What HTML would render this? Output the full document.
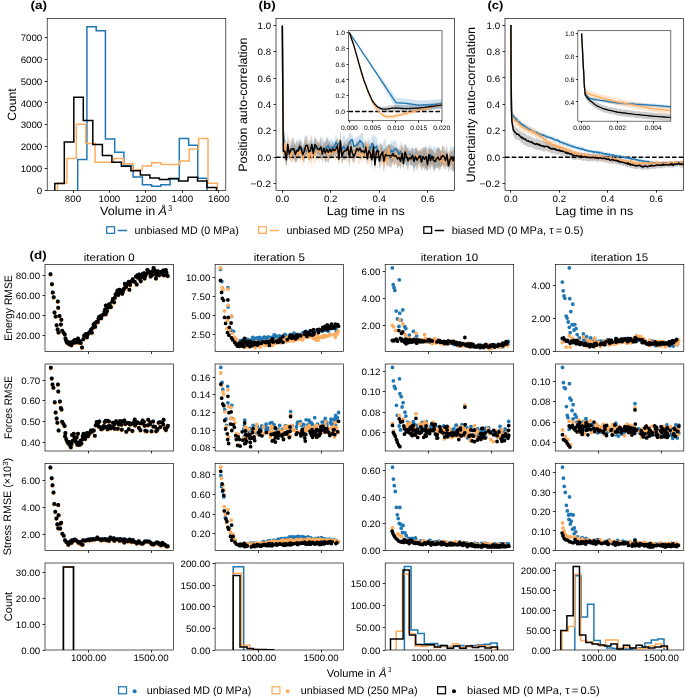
<!DOCTYPE html>
<html><head><meta charset="utf-8"><title>figure</title>
<style>html,body{margin:0;padding:0;background:#fff;overflow:hidden;}svg{display:block;will-change:transform;font-family:"Liberation Sans",sans-serif;}text{font-family:"Liberation Sans",sans-serif;text-rendering:geometricPrecision;}</style></head>
<body>
<svg width="685" height="697" viewBox="0 0 685 697" font-family="Liberation Sans, sans-serif">
<rect width="685" height="697" fill="#fff"/>
<clipPath id="c47_18"><rect x="47.20" y="18.50" width="178.60" height="171.90"/></clipPath>
<g clip-path="url(#c47_18)">
<polyline points="77.7,192.4 77.7,159.6 86.9,159.6 86.9,26.8 96.2,26.8 96.2,30.8 105.4,30.8 105.4,138.9 114.7,138.9 114.7,152.2 123.9,152.2 123.9,165.6 133.1,165.6 133.1,177.1 142.4,177.1 142.4,184.8 151.6,184.8 151.6,186.2 160.8,186.2 160.8,184.7 170.1,184.7 170.1,179.0 179.3,179.0 179.3,138.4 188.6,138.4 188.6,145.3 197.8,145.3 197.8,178.2 207.0,178.2 207.0,192.4" fill="none" stroke="#1f77b4" stroke-width="1.5" stroke-linejoin="miter"/>
<polyline points="57.5,192.4 57.5,182.9 66.9,182.9 66.9,158.5 76.3,158.5 76.3,124.3 85.7,124.3 85.7,143.4 95.1,143.4 95.1,162.3 104.5,162.3 104.5,162.2 113.9,162.2 113.9,158.6 123.3,158.6 123.3,163.8 132.7,163.8 132.7,169.8 142.2,169.8 142.2,166.0 151.6,166.0 151.6,162.7 161.0,162.7 161.0,164.5 170.4,164.5 170.4,164.5 179.8,164.5 179.8,161.1 189.2,161.1 189.2,149.1 198.6,149.1 198.6,138.4 208.0,138.4 208.0,183.2 217.4,183.2 217.4,192.4" fill="none" stroke="#ffac5f" stroke-width="1.5" stroke-linejoin="miter"/>
<polyline points="54.8,192.4 54.8,183.6 64.3,183.6 64.3,141.9 73.8,141.9 73.8,97.2 83.3,97.2 83.3,120.6 92.8,120.6 92.8,144.5 102.4,144.5 102.4,155.5 111.9,155.5 111.9,162.3 121.4,162.3 121.4,166.3 130.9,166.3 130.9,170.8 140.4,170.8 140.4,175.0 149.9,175.0 149.9,178.0 159.4,178.0 159.4,179.6 168.9,179.6 168.9,178.6 178.5,178.6 178.5,181.0 188.0,181.0 188.0,177.2 197.5,177.2 197.5,181.0 207.0,181.0 207.0,187.4 216.5,187.4 216.5,192.4" fill="none" stroke="#000000" stroke-width="1.5" stroke-linejoin="miter"/>
</g>
<rect x="47.20" y="18.50" width="178.60" height="171.90" fill="none" stroke="#000" stroke-width="0.65"/>
<line x1="44.70" y1="190.50" x2="47.20" y2="190.50" stroke="#000" stroke-width="0.8"/>
<text x="42.30" y="193.95" font-size="9.35" text-anchor="end" textLength="5.41" lengthAdjust="spacingAndGlyphs">0</text>
<line x1="44.70" y1="168.50" x2="47.20" y2="168.50" stroke="#000" stroke-width="0.8"/>
<text x="42.30" y="172.10" font-size="9.35" text-anchor="end" textLength="21.63" lengthAdjust="spacingAndGlyphs">1000</text>
<line x1="44.70" y1="146.50" x2="47.20" y2="146.50" stroke="#000" stroke-width="0.8"/>
<text x="42.30" y="150.24" font-size="9.35" text-anchor="end" textLength="21.63" lengthAdjust="spacingAndGlyphs">2000</text>
<line x1="44.70" y1="124.50" x2="47.20" y2="124.50" stroke="#000" stroke-width="0.8"/>
<text x="42.30" y="128.38" font-size="9.35" text-anchor="end" textLength="21.63" lengthAdjust="spacingAndGlyphs">3000</text>
<line x1="44.70" y1="102.50" x2="47.20" y2="102.50" stroke="#000" stroke-width="0.8"/>
<text x="42.30" y="106.52" font-size="9.35" text-anchor="end" textLength="21.63" lengthAdjust="spacingAndGlyphs">4000</text>
<line x1="44.70" y1="81.50" x2="47.20" y2="81.50" stroke="#000" stroke-width="0.8"/>
<text x="42.30" y="84.67" font-size="9.35" text-anchor="end" textLength="21.63" lengthAdjust="spacingAndGlyphs">5000</text>
<line x1="44.70" y1="59.50" x2="47.20" y2="59.50" stroke="#000" stroke-width="0.8"/>
<text x="42.30" y="62.81" font-size="9.35" text-anchor="end" textLength="21.63" lengthAdjust="spacingAndGlyphs">6000</text>
<line x1="44.70" y1="37.50" x2="47.20" y2="37.50" stroke="#000" stroke-width="0.8"/>
<text x="42.30" y="40.95" font-size="9.35" text-anchor="end" textLength="21.63" lengthAdjust="spacingAndGlyphs">7000</text>
<line x1="73.50" y1="190.40" x2="73.50" y2="192.90" stroke="#000" stroke-width="0.8"/>
<text x="73.00" y="202.20" font-size="9.35" text-anchor="middle" textLength="16.22" lengthAdjust="spacingAndGlyphs">800</text>
<line x1="109.50" y1="190.40" x2="109.50" y2="192.90" stroke="#000" stroke-width="0.8"/>
<text x="109.45" y="202.20" font-size="9.35" text-anchor="middle" textLength="21.63" lengthAdjust="spacingAndGlyphs">1000</text>
<line x1="145.50" y1="190.40" x2="145.50" y2="192.90" stroke="#000" stroke-width="0.8"/>
<text x="145.90" y="202.20" font-size="9.35" text-anchor="middle" textLength="21.63" lengthAdjust="spacingAndGlyphs">1200</text>
<line x1="182.50" y1="190.40" x2="182.50" y2="192.90" stroke="#000" stroke-width="0.8"/>
<text x="182.35" y="202.20" font-size="9.35" text-anchor="middle" textLength="21.63" lengthAdjust="spacingAndGlyphs">1400</text>
<line x1="218.50" y1="190.40" x2="218.50" y2="192.90" stroke="#000" stroke-width="0.8"/>
<text x="218.80" y="202.20" font-size="9.35" text-anchor="middle" textLength="21.63" lengthAdjust="spacingAndGlyphs">1600</text>
<text x="16.00" y="104.50" font-size="11.99" text-anchor="middle" transform="rotate(-90 16.00 104.50)" textLength="32.37" lengthAdjust="spacingAndGlyphs">Count</text>
<text x="100.00" y="215.10" font-size="12.10" textLength="55.20" lengthAdjust="spacingAndGlyphs">Volume in</text>
<text x="158.40" y="215.10" font-size="12.10" font-style="italic" textLength="8.40" lengthAdjust="spacingAndGlyphs">Å</text>
<text x="168.20" y="210.50" font-size="8.47" textLength="3.80" lengthAdjust="spacingAndGlyphs">3</text>
<text x="30.50" y="9.10" font-size="11.55" font-weight="bold" textLength="16.68" lengthAdjust="spacingAndGlyphs">(a)</text>
<clipPath id="c276_18"><rect x="276.00" y="18.50" width="178.50" height="171.80"/></clipPath>
<g clip-path="url(#c276_18)">
<polygon points="282.3,25.5 283.3,118.4 284.8,139.6 286.3,140.7 287.8,143.8 289.3,145.0 290.8,138.3 292.3,145.8 293.8,144.6 295.3,141.7 296.8,146.3 298.3,140.3 299.8,138.7 301.3,139.1 302.8,144.9 304.3,143.8 305.8,141.9 307.3,146.4 308.8,140.2 310.3,139.2 311.8,143.6 313.3,142.2 314.8,138.7 316.3,137.7 317.8,141.6 319.3,142.6 320.8,140.0 322.3,136.5 323.8,143.2 325.3,141.7 326.8,136.7 328.3,137.4 329.8,142.1 331.3,137.5 332.9,141.0 334.4,140.4 335.9,133.4 337.4,139.2 338.9,137.5 340.4,142.3 341.9,142.5 343.4,134.1 344.9,137.2 346.4,139.7 347.9,137.1 349.4,131.3 350.9,133.2 352.4,134.3 353.9,140.4 355.4,136.7 356.9,137.6 358.4,135.9 359.9,135.6 361.4,132.3 362.9,133.1 364.4,142.2 365.9,140.2 367.4,144.2 368.9,136.3 370.4,141.5 371.9,135.4 373.4,133.8 374.9,136.7 376.4,135.5 377.9,144.3 379.4,143.2 380.9,142.8 382.4,145.4 383.9,139.8 385.4,138.4 386.9,149.5 388.4,143.7 389.9,145.5 391.4,140.2 392.9,141.8 394.5,140.3 396.0,141.1 397.5,145.3 399.0,149.4 400.5,140.3 402.0,151.1 403.5,146.0 405.0,143.0 406.5,148.4 408.0,145.9 409.5,149.0 411.0,148.0 412.5,148.9 414.0,153.2 415.5,147.5 417.0,150.8 418.5,151.5 420.0,150.6 421.5,146.5 423.0,150.7 424.5,148.3 426.0,145.6 427.5,149.1 429.0,146.1 430.5,143.6 432.0,149.3 433.5,147.6 435.0,145.8 436.5,148.2 438.0,147.0 439.5,149.8 441.0,151.6 442.5,153.9 444.0,150.1 445.5,152.9 447.0,152.1 448.5,152.6 450.0,148.0 451.5,145.5 453.0,148.0 454.6,145.3 454.6,170.4 453.0,172.3 451.5,169.5 450.0,170.7 448.5,165.1 447.0,166.9 445.5,163.8 444.0,164.6 442.5,165.0 441.0,166.8 439.5,167.2 438.0,166.1 436.5,166.7 435.0,170.0 433.5,173.1 432.0,164.8 430.5,165.7 429.0,170.3 427.5,169.8 426.0,167.9 424.5,166.9 423.0,166.3 421.5,166.4 420.0,166.4 418.5,163.7 417.0,164.4 415.5,167.1 414.0,168.2 412.5,166.1 411.0,164.8 409.5,159.2 408.0,164.3 406.5,165.3 405.0,165.9 403.5,162.2 402.0,163.8 400.5,162.5 399.0,159.9 397.5,155.8 396.0,156.5 394.5,158.3 392.9,161.7 391.4,160.6 389.9,162.1 388.4,158.7 386.9,160.6 385.4,161.3 383.9,163.3 382.4,162.7 380.9,161.4 379.4,159.8 377.9,160.5 376.4,157.3 374.9,160.3 373.4,155.6 371.9,151.4 370.4,157.0 368.9,158.2 367.4,157.4 365.9,152.7 364.4,158.6 362.9,154.3 361.4,151.3 359.9,145.6 358.4,150.6 356.9,152.3 355.4,154.4 353.9,152.7 352.4,145.4 350.9,147.5 349.4,154.9 347.9,154.4 346.4,161.5 344.9,160.3 343.4,158.4 341.9,157.5 340.4,153.5 338.9,148.9 337.4,150.1 335.9,151.6 334.4,154.0 332.9,152.3 331.3,158.1 329.8,159.2 328.3,153.4 326.8,157.6 325.3,155.4 323.8,156.0 322.3,161.8 320.8,155.2 319.3,156.7 317.8,159.5 316.3,160.6 314.8,155.0 313.3,156.4 311.8,158.0 310.3,164.0 308.8,154.8 307.3,157.3 305.8,158.9 304.3,156.8 302.8,155.5 301.3,155.7 299.8,159.1 298.3,156.2 296.8,157.6 295.3,160.2 293.8,155.6 292.3,156.8 290.8,162.5 289.3,157.0 287.8,156.9 286.3,166.2 284.8,161.7 283.3,143.5 282.3,25.5" fill="#1f77b4" fill-opacity="0.2" stroke="none"/>
<polygon points="282.3,25.5 283.3,145.8 284.8,134.4 286.3,145.7 287.8,138.9 289.3,137.5 290.8,151.7 292.3,140.1 293.8,142.5 295.3,144.3 296.8,150.2 298.3,143.9 299.8,144.3 301.3,141.2 302.8,150.5 304.3,141.0 305.8,139.7 307.3,142.4 308.8,150.8 310.3,135.8 311.8,147.0 313.3,146.5 314.8,143.9 316.3,143.9 317.8,140.7 319.3,139.3 320.8,146.4 322.3,143.3 323.8,145.6 325.3,142.1 326.8,144.1 328.3,147.2 329.8,144.4 331.3,146.4 332.9,146.6 334.4,145.0 335.9,142.1 337.4,137.2 338.9,144.8 340.4,135.1 341.9,148.1 343.4,143.0 344.9,145.1 346.4,142.8 347.9,139.8 349.4,139.5 350.9,142.7 352.4,141.2 353.9,142.6 355.4,146.8 356.9,140.9 358.4,143.5 359.9,148.3 361.4,148.6 362.9,146.9 364.4,141.2 365.9,146.9 367.4,137.3 368.9,143.9 370.4,143.3 371.9,150.4 373.4,141.6 374.9,149.6 376.4,150.7 377.9,147.1 379.4,145.3 380.9,143.4 382.4,150.8 383.9,155.0 385.4,141.0 386.9,155.3 388.4,143.2 389.9,146.7 391.4,149.4 392.9,150.0 394.5,150.5 396.0,146.5 397.5,149.2 399.0,148.8 400.5,146.3 402.0,142.4 403.5,147.8 405.0,147.8 406.5,150.3 408.0,146.9 409.5,150.3 411.0,153.4 412.5,150.4 414.0,154.3 415.5,151.8 417.0,146.1 418.5,150.7 420.0,148.5 421.5,149.8 423.0,147.8 424.5,149.4 426.0,150.4 427.5,147.6 429.0,148.7 430.5,148.8 432.0,150.7 433.5,151.6 435.0,156.3 436.5,150.0 438.0,149.1 439.5,148.0 441.0,152.2 442.5,141.6 444.0,158.7 445.5,149.7 447.0,153.3 448.5,152.8 450.0,149.2 451.5,149.6 453.0,153.6 454.6,153.6 454.6,165.5 453.0,171.7 451.5,171.1 450.0,166.3 448.5,165.3 447.0,168.5 445.5,160.8 444.0,169.4 442.5,164.9 441.0,170.7 439.5,165.8 438.0,169.5 436.5,162.4 435.0,167.4 433.5,166.5 432.0,164.2 430.5,167.7 429.0,166.6 427.5,169.8 426.0,171.5 424.5,164.1 423.0,169.1 421.5,169.9 420.0,165.6 418.5,169.3 417.0,164.5 415.5,164.4 414.0,164.2 412.5,163.2 411.0,165.1 409.5,161.5 408.0,163.6 406.5,162.6 405.0,161.3 403.5,168.5 402.0,162.0 400.5,167.1 399.0,164.4 397.5,166.6 396.0,160.0 394.5,165.3 392.9,165.2 391.4,164.4 389.9,162.9 388.4,154.4 386.9,168.6 385.4,159.7 383.9,173.5 382.4,162.9 380.9,158.9 379.4,166.1 377.9,157.7 376.4,160.2 374.9,164.1 373.4,158.5 371.9,161.6 370.4,161.2 368.9,167.6 367.4,151.3 365.9,165.1 364.4,155.3 362.9,162.3 361.4,157.9 359.9,164.3 358.4,164.4 356.9,154.4 355.4,156.4 353.9,164.6 352.4,161.2 350.9,157.8 349.4,156.1 347.9,163.6 346.4,158.9 344.9,158.8 343.4,160.0 341.9,164.6 340.4,149.2 338.9,164.3 337.4,158.0 335.9,161.3 334.4,157.8 332.9,156.5 331.3,160.2 329.8,156.0 328.3,164.3 326.8,153.9 325.3,163.3 323.8,157.2 322.3,163.0 320.8,158.0 319.3,163.3 317.8,156.6 316.3,159.9 314.8,166.4 313.3,157.1 311.8,169.7 310.3,156.3 308.8,168.3 307.3,152.3 305.8,157.6 304.3,160.6 302.8,167.9 301.3,157.0 299.8,163.3 298.3,158.2 296.8,160.7 295.3,162.4 293.8,160.7 292.3,163.0 290.8,162.5 289.3,158.8 287.8,159.0 286.3,169.0 284.8,151.8 283.3,160.5 282.3,25.5" fill="#ff7f0e" fill-opacity="0.2" stroke="none"/>
<polygon points="282.3,25.5 283.3,143.2 284.8,143.7 286.3,153.2 287.8,133.5 289.3,148.1 290.8,144.9 292.3,137.0 293.8,139.1 295.3,146.3 296.8,138.8 298.3,143.5 299.8,140.9 301.3,142.0 302.8,149.0 304.3,139.1 305.8,134.6 307.3,137.0 308.8,144.3 310.3,142.9 311.8,134.5 313.3,147.2 314.8,135.3 316.3,140.7 317.8,142.9 319.3,144.6 320.8,135.2 322.3,149.0 323.8,139.2 325.3,143.1 326.8,137.3 328.3,141.7 329.8,140.9 331.3,144.9 332.9,141.6 334.4,145.5 335.9,140.2 337.4,139.8 338.9,152.4 340.4,129.8 341.9,149.8 343.4,145.0 344.9,140.9 346.4,145.7 347.9,138.8 349.4,147.5 350.9,136.4 352.4,146.8 353.9,150.0 355.4,147.4 356.9,139.3 358.4,145.0 359.9,137.6 361.4,143.7 362.9,145.6 364.4,145.2 365.9,138.4 367.4,152.8 368.9,142.7 370.4,148.2 371.9,149.6 373.4,139.0 374.9,157.8 376.4,144.0 377.9,145.5 379.4,153.0 380.9,143.4 382.4,146.2 383.9,150.4 385.4,147.9 386.9,145.4 388.4,144.7 389.9,144.2 391.4,144.4 392.9,145.8 394.5,146.3 396.0,148.8 397.5,148.5 399.0,149.7 400.5,152.9 402.0,143.1 403.5,157.7 405.0,144.0 406.5,145.0 408.0,151.0 409.5,150.8 411.0,151.2 412.5,146.6 414.0,149.5 415.5,147.8 417.0,148.4 418.5,151.9 420.0,149.5 421.5,153.2 423.0,147.1 424.5,147.5 426.0,145.5 427.5,157.4 429.0,147.3 430.5,149.6 432.0,148.8 433.5,150.8 435.0,153.8 436.5,149.8 438.0,147.0 439.5,148.1 441.0,151.4 442.5,146.0 444.0,146.0 445.5,150.9 447.0,143.9 448.5,159.2 450.0,152.7 451.5,151.4 453.0,150.2 454.6,146.2 454.6,168.3 453.0,171.5 451.5,163.0 450.0,166.7 448.5,172.4 447.0,165.0 445.5,170.4 444.0,167.1 442.5,165.2 441.0,166.1 439.5,171.6 438.0,167.8 436.5,168.0 435.0,169.6 433.5,169.8 432.0,163.7 430.5,171.4 429.0,161.5 427.5,172.0 426.0,167.8 424.5,170.9 423.0,165.9 421.5,170.8 420.0,162.2 418.5,163.6 417.0,172.0 415.5,165.3 414.0,173.0 412.5,164.2 411.0,166.7 409.5,164.3 408.0,170.4 406.5,167.5 405.0,159.9 403.5,169.5 402.0,163.6 400.5,169.6 399.0,165.3 397.5,169.5 396.0,162.8 394.5,165.6 392.9,161.4 391.4,168.0 389.9,166.7 388.4,166.2 386.9,166.0 385.4,161.2 383.9,172.1 382.4,157.8 380.9,165.8 379.4,169.2 377.9,155.0 376.4,159.1 374.9,172.1 373.4,154.1 371.9,169.6 370.4,158.8 368.9,158.2 367.4,164.8 365.9,156.8 364.4,160.3 362.9,155.7 361.4,160.3 359.9,158.7 358.4,156.6 356.9,157.3 355.4,158.6 353.9,163.8 352.4,159.6 350.9,157.1 349.4,167.5 347.9,155.0 346.4,155.4 344.9,160.6 343.4,159.2 341.9,164.3 340.4,151.5 338.9,166.0 337.4,151.5 335.9,157.6 334.4,155.9 332.9,156.0 331.3,159.0 329.8,157.9 328.3,163.1 326.8,160.8 325.3,163.0 323.8,157.3 322.3,159.0 320.8,158.5 319.3,155.0 317.8,155.1 316.3,152.0 314.8,153.7 313.3,160.0 311.8,154.4 310.3,158.8 308.8,159.4 307.3,153.5 305.8,156.8 304.3,162.8 302.8,160.6 301.3,156.5 299.8,151.3 298.3,158.5 296.8,162.3 295.3,162.7 293.8,158.4 292.3,160.3 290.8,154.4 289.3,160.1 287.8,155.6 286.3,166.3 284.8,159.0 283.3,159.1 282.3,25.5" fill="#000000" fill-opacity="0.2" stroke="none"/>
<line x1="276.00" y1="157.30" x2="454.50" y2="157.30" stroke="#000" stroke-width="1.5" stroke-dasharray="4.66,2.02"/>
<polyline points="282.3,25.5 283.3,130.9 284.8,150.6 286.3,153.5 287.8,150.4 289.3,151.0 290.8,150.4 292.3,151.3 293.8,150.1 295.3,150.9 296.8,152.0 298.3,148.3 299.8,148.9 301.3,147.4 302.8,150.2 304.3,150.3 305.8,150.4 307.3,151.8 308.8,147.5 310.3,151.6 311.8,150.8 313.3,149.3 314.8,146.8 316.3,149.2 317.8,150.5 319.3,149.6 320.8,147.6 322.3,149.1 323.8,149.6 325.3,148.6 326.8,147.2 328.3,145.4 329.8,150.6 331.3,147.8 332.9,146.7 334.4,147.2 335.9,142.5 337.4,144.6 338.9,143.2 340.4,147.9 341.9,150.0 343.4,146.2 344.9,148.7 346.4,150.6 347.9,145.7 349.4,143.1 350.9,140.4 352.4,139.8 353.9,146.5 355.4,145.6 356.9,144.9 358.4,143.2 359.9,140.6 361.4,141.8 362.9,143.7 364.4,150.4 365.9,146.5 367.4,150.8 368.9,147.2 370.4,149.2 371.9,143.4 373.4,144.7 374.9,148.5 376.4,146.4 377.9,152.4 379.4,151.5 380.9,152.1 382.4,154.1 383.9,151.5 385.4,149.9 386.9,155.0 388.4,151.2 389.9,153.8 391.4,150.4 392.9,151.8 394.5,149.3 396.0,148.8 397.5,150.5 399.0,154.6 400.5,151.4 402.0,157.4 403.5,154.1 405.0,154.4 406.5,156.9 408.0,155.1 409.5,154.1 411.0,156.4 412.5,157.5 414.0,160.7 415.5,157.3 417.0,157.6 418.5,157.6 420.0,158.5 421.5,156.4 423.0,158.5 424.5,157.6 426.0,156.7 427.5,159.5 429.0,158.2 430.5,154.7 432.0,157.1 433.5,160.3 435.0,157.9 436.5,157.4 438.0,156.6 439.5,158.5 441.0,159.2 442.5,159.5 444.0,157.3 445.5,158.3 447.0,159.5 448.5,158.8 450.0,159.4 451.5,157.5 453.0,160.2 454.6,157.9" fill="none" stroke="#1f77b4" stroke-width="1.5" stroke-linejoin="round"/>
<polyline points="282.3,25.5 283.3,153.2 284.8,143.1 286.3,157.3 287.8,149.0 289.3,148.1 290.8,157.1 292.3,151.5 293.8,151.6 295.3,153.4 296.8,155.5 298.3,151.0 299.8,153.8 301.3,149.1 302.8,159.2 304.3,150.8 305.8,148.7 307.3,147.3 308.8,159.5 310.3,146.1 311.8,158.4 313.3,151.8 314.8,155.1 316.3,151.9 317.8,148.7 319.3,151.3 320.8,152.2 322.3,153.2 323.8,151.4 325.3,152.7 326.8,149.0 328.3,155.7 329.8,150.2 331.3,153.3 332.9,151.6 334.4,151.4 335.9,151.7 337.4,147.6 338.9,154.5 340.4,142.1 341.9,156.4 343.4,151.5 344.9,152.0 346.4,150.8 347.9,151.7 349.4,147.8 350.9,150.3 352.4,151.2 353.9,153.6 355.4,151.6 356.9,147.6 358.4,154.0 359.9,156.3 361.4,153.2 362.9,154.6 364.4,148.2 365.9,156.0 367.4,144.3 368.9,155.8 370.4,152.2 371.9,156.0 373.4,150.0 374.9,156.9 376.4,155.5 377.9,152.4 379.4,155.7 380.9,151.2 382.4,156.9 383.9,164.3 385.4,150.3 386.9,162.0 388.4,148.8 389.9,154.8 391.4,156.9 392.9,157.6 394.5,157.9 396.0,153.3 397.5,157.9 399.0,156.6 400.5,156.7 402.0,152.2 403.5,158.1 405.0,154.6 406.5,156.5 408.0,155.2 409.5,155.9 411.0,159.2 412.5,156.8 414.0,159.3 415.5,158.1 417.0,155.3 418.5,160.0 420.0,157.1 421.5,159.9 423.0,158.5 424.5,156.8 426.0,160.9 427.5,158.7 429.0,157.7 430.5,158.2 432.0,157.5 433.5,159.1 435.0,161.8 436.5,156.2 438.0,159.3 439.5,156.9 441.0,161.5 442.5,153.2 444.0,164.1 445.5,155.3 447.0,160.9 448.5,159.1 450.0,157.8 451.5,160.4 453.0,162.7 454.6,159.6" fill="none" stroke="#ffac5f" stroke-width="1.5" stroke-linejoin="round"/>
<polyline points="282.3,25.5 283.3,151.2 284.8,151.3 286.3,159.7 287.8,144.6 289.3,154.1 290.8,149.7 292.3,148.7 293.8,148.7 295.3,154.5 296.8,150.5 298.3,151.0 299.8,146.1 301.3,149.2 302.8,154.8 304.3,151.0 305.8,145.7 307.3,145.2 308.8,151.9 310.3,150.9 311.8,144.4 313.3,153.6 314.8,144.5 316.3,146.3 317.8,149.0 319.3,149.8 320.8,146.8 322.3,154.0 323.8,148.3 325.3,153.0 326.8,149.0 328.3,152.4 329.8,149.4 331.3,151.9 332.9,148.8 334.4,150.7 335.9,148.9 337.4,145.7 338.9,159.2 340.4,140.7 341.9,157.0 343.4,152.1 344.9,150.8 346.4,150.6 347.9,146.9 349.4,157.5 350.9,146.8 352.4,153.2 353.9,156.9 355.4,153.0 356.9,148.3 358.4,150.8 359.9,148.1 361.4,152.0 362.9,150.7 364.4,152.8 365.9,147.6 367.4,158.8 368.9,150.4 370.4,153.5 371.9,159.6 373.4,146.5 374.9,164.9 376.4,151.6 377.9,150.2 379.4,161.1 380.9,154.6 382.4,152.0 383.9,161.2 385.4,154.6 386.9,155.7 388.4,155.4 389.9,155.4 391.4,156.2 392.9,153.6 394.5,156.0 396.0,155.8 397.5,159.0 399.0,157.5 400.5,161.3 402.0,153.3 403.5,163.6 405.0,151.9 406.5,156.3 408.0,160.7 409.5,157.6 411.0,158.9 412.5,155.4 414.0,161.3 415.5,156.6 417.0,160.2 418.5,157.7 420.0,155.8 421.5,162.0 423.0,156.5 424.5,159.2 426.0,156.6 427.5,164.7 429.0,154.4 430.5,160.5 432.0,156.2 433.5,160.3 435.0,161.7 436.5,158.9 438.0,157.4 439.5,159.9 441.0,158.7 442.5,155.6 444.0,156.5 445.5,160.6 447.0,154.4 448.5,165.8 450.0,159.7 451.5,157.2 453.0,160.9 454.6,157.2" fill="none" stroke="#000000" stroke-width="1.5" stroke-linejoin="round"/>
</g>
<rect x="276.00" y="18.50" width="178.50" height="171.80" fill="none" stroke="#000" stroke-width="0.65"/>
<line x1="273.50" y1="183.50" x2="276.00" y2="183.50" stroke="#000" stroke-width="0.8"/>
<text x="271.10" y="187.21" font-size="9.35" text-anchor="end" textLength="20.64" lengthAdjust="spacingAndGlyphs">−0.2</text>
<line x1="273.50" y1="157.50" x2="276.00" y2="157.50" stroke="#000" stroke-width="0.8"/>
<text x="271.10" y="160.85" font-size="9.35" text-anchor="end" textLength="13.52" lengthAdjust="spacingAndGlyphs">0.0</text>
<line x1="273.50" y1="130.50" x2="276.00" y2="130.50" stroke="#000" stroke-width="0.8"/>
<text x="271.10" y="134.49" font-size="9.35" text-anchor="end" textLength="13.52" lengthAdjust="spacingAndGlyphs">0.2</text>
<line x1="273.50" y1="104.50" x2="276.00" y2="104.50" stroke="#000" stroke-width="0.8"/>
<text x="271.10" y="108.13" font-size="9.35" text-anchor="end" textLength="13.52" lengthAdjust="spacingAndGlyphs">0.4</text>
<line x1="273.50" y1="78.50" x2="276.00" y2="78.50" stroke="#000" stroke-width="0.8"/>
<text x="271.10" y="81.77" font-size="9.35" text-anchor="end" textLength="13.52" lengthAdjust="spacingAndGlyphs">0.6</text>
<line x1="273.50" y1="51.50" x2="276.00" y2="51.50" stroke="#000" stroke-width="0.8"/>
<text x="271.10" y="55.41" font-size="9.35" text-anchor="end" textLength="13.52" lengthAdjust="spacingAndGlyphs">0.8</text>
<line x1="273.50" y1="25.50" x2="276.00" y2="25.50" stroke="#000" stroke-width="0.8"/>
<text x="271.10" y="29.05" font-size="9.35" text-anchor="end" textLength="13.52" lengthAdjust="spacingAndGlyphs">1.0</text>
<line x1="282.50" y1="190.30" x2="282.50" y2="192.80" stroke="#000" stroke-width="0.8"/>
<text x="282.30" y="201.70" font-size="9.35" text-anchor="middle" textLength="13.52" lengthAdjust="spacingAndGlyphs">0.0</text>
<line x1="330.50" y1="190.30" x2="330.50" y2="192.80" stroke="#000" stroke-width="0.8"/>
<text x="330.77" y="201.70" font-size="9.35" text-anchor="middle" textLength="13.52" lengthAdjust="spacingAndGlyphs">0.2</text>
<line x1="379.50" y1="190.30" x2="379.50" y2="192.80" stroke="#000" stroke-width="0.8"/>
<text x="379.23" y="201.70" font-size="9.35" text-anchor="middle" textLength="13.52" lengthAdjust="spacingAndGlyphs">0.4</text>
<line x1="427.50" y1="190.30" x2="427.50" y2="192.80" stroke="#000" stroke-width="0.8"/>
<text x="427.70" y="201.70" font-size="9.35" text-anchor="middle" textLength="13.52" lengthAdjust="spacingAndGlyphs">0.6</text>
<text x="246.60" y="104.70" font-size="12.10" text-anchor="middle" transform="rotate(-90 246.60 104.70)" textLength="134.28" lengthAdjust="spacingAndGlyphs">Position auto-correlation</text>
<text x="365.70" y="214.80" font-size="12.10" text-anchor="middle" textLength="77.92" lengthAdjust="spacingAndGlyphs">Lag time in ns</text>
<text x="258.50" y="9.10" font-size="11.55" font-weight="bold" textLength="17.11" lengthAdjust="spacingAndGlyphs">(b)</text>
<rect x="348.5" y="30.7" width="93.5" height="90.0" fill="#fff"/>
<clipPath id="c348_30"><rect x="348.50" y="30.70" width="93.50" height="90.00"/></clipPath>
<g clip-path="url(#c348_30)">
<polygon points="349.4,32.5 351.0,34.8 352.6,37.2 354.2,39.5 355.8,41.8 357.4,44.2 359.0,46.5 360.6,48.9 362.2,51.2 363.8,53.5 365.5,55.9 367.1,58.2 368.7,60.5 370.3,62.9 371.9,65.2 373.5,67.4 375.1,69.5 376.7,71.6 378.3,73.7 379.9,75.8 381.5,78.0 383.1,80.1 384.7,82.2 386.3,84.3 387.9,86.4 389.5,88.5 391.1,90.6 392.7,93.1 394.3,95.5 396.0,97.9 397.6,98.1 399.2,98.2 400.8,98.3 402.4,98.4 404.0,98.4 405.6,98.6 407.2,98.8 408.8,99.0 410.4,99.3 412.0,99.5 413.6,99.7 415.2,99.9 416.8,100.2 418.4,100.4 420.0,100.4 421.6,100.3 423.2,100.3 424.8,100.2 426.5,100.2 428.1,100.1 429.7,100.1 431.3,100.0 432.9,99.8 434.5,99.7 436.1,99.5 437.7,99.4 439.3,99.3 440.9,99.1 442.5,99.0 444.1,98.9 444.1,108.3 442.5,108.5 440.9,108.6 439.3,108.8 437.7,108.9 436.1,109.0 434.5,109.2 432.9,109.3 431.3,109.4 429.7,109.5 428.1,109.6 426.5,109.7 424.8,109.7 423.2,109.8 421.6,109.8 420.0,109.9 418.4,109.9 416.8,109.7 415.2,109.4 413.6,109.2 412.0,109.0 410.4,108.7 408.8,108.5 407.2,108.3 405.6,108.1 404.0,107.9 402.4,107.8 400.8,107.8 399.2,107.7 397.6,107.6 396.0,107.4 394.3,105.0 392.7,102.5 391.1,100.1 389.5,97.4 387.9,94.7 386.3,92.0 384.7,89.2 383.1,86.5 381.5,83.8 379.9,81.1 378.3,78.3 376.7,75.6 375.1,72.9 373.5,70.2 371.9,67.5 370.3,65.0 368.7,62.5 367.1,60.0 365.5,57.5 363.8,55.0 362.2,52.5 360.6,50.0 359.0,47.5 357.4,45.0 355.8,42.5 354.2,40.0 352.6,37.5 351.0,35.0 349.4,32.5" fill="#1f77b4" fill-opacity="0.2" stroke="none"/>
<polygon points="349.4,32.5 351.0,37.1 352.6,41.7 354.2,46.4 355.8,52.1 357.4,57.7 359.0,63.4 360.6,68.8 362.2,74.2 363.8,79.3 365.5,83.9 367.1,88.5 368.7,92.6 370.3,96.4 371.9,100.2 373.5,103.1 375.1,105.5 376.7,107.9 378.3,109.7 379.9,111.3 381.5,112.8 383.1,113.6 384.7,114.2 386.3,114.8 387.9,114.8 389.5,114.7 391.1,114.6 392.7,114.4 394.3,114.1 396.0,113.8 397.6,113.5 399.2,113.1 400.8,112.8 402.4,112.4 404.0,112.1 405.6,111.7 407.2,111.3 408.8,110.9 410.4,110.5 412.0,110.1 413.6,109.6 415.2,109.2 416.8,108.8 418.4,108.4 420.0,108.0 421.6,107.6 423.2,107.2 424.8,106.8 426.5,106.4 428.1,105.9 429.7,105.5 431.3,105.1 432.9,104.7 434.5,104.3 436.1,103.8 437.7,103.4 439.3,102.9 440.9,102.5 442.5,102.1 444.1,101.6 444.1,105.6 442.5,106.0 440.9,106.5 439.3,106.9 437.7,107.3 436.1,107.8 434.5,108.2 432.9,108.6 431.3,109.1 429.7,109.5 428.1,109.9 426.5,110.3 424.8,110.7 423.2,111.1 421.6,111.5 420.0,111.9 418.4,112.4 416.8,112.8 415.2,113.2 413.6,113.6 412.0,114.0 410.4,114.4 408.8,114.8 407.2,115.2 405.6,115.7 404.0,116.0 402.4,116.4 400.8,116.7 399.2,117.1 397.6,117.4 396.0,117.7 394.3,118.0 392.7,118.3 391.1,118.6 389.5,118.5 387.9,118.5 386.3,118.4 384.7,117.6 383.1,116.9 381.5,116.0 379.9,114.3 378.3,112.6 376.7,110.6 375.1,108.1 373.5,105.5 371.9,102.5 370.3,98.5 368.7,94.6 367.1,90.3 365.5,85.5 363.8,80.8 362.2,75.5 360.6,69.9 359.0,64.4 357.4,58.6 355.8,52.7 354.2,46.9 352.6,42.0 351.0,37.2 349.4,32.5" fill="#ff7f0e" fill-opacity="0.2" stroke="none"/>
<polygon points="349.4,32.5 351.0,37.1 352.6,41.7 354.2,46.4 355.8,52.1 357.4,57.7 359.0,63.4 360.6,68.8 362.2,74.2 363.8,79.2 365.5,83.5 367.1,87.8 368.7,91.7 370.3,95.2 371.9,98.7 373.5,101.1 375.1,102.9 376.7,104.6 378.3,105.6 379.9,106.2 381.5,106.9 383.1,106.8 384.7,106.6 386.3,106.5 387.9,106.0 389.5,105.6 391.1,105.2 392.7,105.0 394.3,104.9 396.0,104.8 397.6,105.0 399.2,105.1 400.8,105.2 402.4,105.4 404.0,105.5 405.6,105.5 407.2,105.5 408.8,105.4 410.4,105.3 412.0,105.3 413.6,105.2 415.2,105.1 416.8,104.9 418.4,104.8 420.0,104.7 421.6,104.5 423.2,104.4 424.8,104.2 426.5,104.0 428.1,103.8 429.7,103.6 431.3,103.4 432.9,103.2 434.5,102.9 436.1,102.7 437.7,102.5 439.3,102.3 440.9,102.1 442.5,101.8 444.1,101.6 444.1,107.9 442.5,108.2 440.9,108.4 439.3,108.6 437.7,108.8 436.1,109.0 434.5,109.3 432.9,109.5 431.3,109.7 429.7,109.9 428.1,110.1 426.5,110.3 424.8,110.5 423.2,110.7 421.6,110.9 420.0,111.0 418.4,111.1 416.8,111.3 415.2,111.4 413.6,111.5 412.0,111.6 410.4,111.7 408.8,111.7 407.2,111.8 405.6,111.9 404.0,111.8 402.4,111.7 400.8,111.5 399.2,111.4 397.6,111.3 396.0,111.1 394.3,111.2 392.7,111.3 391.1,111.5 389.5,111.6 387.9,111.7 386.3,111.8 384.7,111.6 383.1,111.4 381.5,111.2 379.9,110.2 378.3,109.2 376.7,107.9 375.1,105.8 373.5,103.7 371.9,101.0 370.3,97.3 368.7,93.7 367.1,89.6 365.5,85.1 363.8,80.7 362.2,75.5 360.6,69.9 359.0,64.4 357.4,58.6 355.8,52.7 354.2,46.9 352.6,42.0 351.0,37.2 349.4,32.5" fill="#000000" fill-opacity="0.2" stroke="none"/>
<line x1="348.50" y1="111.50" x2="442.00" y2="111.50" stroke="#000" stroke-width="1.3" stroke-dasharray="4.66,2.02"/>
<polyline points="349.4,32.5 351.0,34.9 352.6,37.3 354.2,39.8 355.8,42.2 357.4,44.6 359.0,47.0 360.6,49.4 362.2,51.9 363.8,54.3 365.5,56.7 367.1,59.1 368.7,61.5 370.3,63.9 371.9,66.4 373.5,68.8 375.1,71.2 376.7,73.6 378.3,76.0 379.9,78.5 381.5,80.9 383.1,83.3 384.7,85.7 386.3,88.1 387.9,90.6 389.5,93.0 391.1,95.4 392.7,97.8 394.3,100.2 396.0,102.6 397.6,102.9 399.2,102.9 400.8,103.0 402.4,103.1 404.0,103.2 405.6,103.3 407.2,103.5 408.8,103.8 410.4,104.0 412.0,104.2 413.6,104.5 415.2,104.7 416.8,104.9 418.4,105.1 420.0,105.1 421.6,105.1 423.2,105.0 424.8,105.0 426.5,104.9 428.1,104.9 429.7,104.8 431.3,104.7 432.9,104.6 434.5,104.4 436.1,104.3 437.7,104.1 439.3,104.0 440.9,103.9 442.5,103.7 444.1,103.6" fill="none" stroke="#1f77b4" stroke-width="1.3" stroke-linejoin="round"/>
<polyline points="349.4,32.5 351.0,37.2 352.6,41.8 354.2,46.6 355.8,52.4 357.4,58.2 359.0,63.9 360.6,69.3 362.2,74.8 363.8,80.0 365.5,84.7 367.1,89.4 368.7,93.6 370.3,97.5 371.9,101.3 373.5,104.3 375.1,106.8 376.7,109.3 378.3,111.1 379.9,112.8 381.5,114.4 383.1,115.2 384.7,115.9 386.3,116.6 387.9,116.6 389.5,116.6 391.1,116.6 392.7,116.3 394.3,116.1 396.0,115.8 397.6,115.4 399.2,115.1 400.8,114.7 402.4,114.4 404.0,114.1 405.6,113.7 407.2,113.3 408.8,112.9 410.4,112.4 412.0,112.0 413.6,111.6 415.2,111.2 416.8,110.8 418.4,110.4 420.0,110.0 421.6,109.6 423.2,109.2 424.8,108.7 426.5,108.3 428.1,107.9 429.7,107.5 431.3,107.1 432.9,106.7 434.5,106.2 436.1,105.8 437.7,105.4 439.3,104.9 440.9,104.5 442.5,104.0 444.1,103.6" fill="none" stroke="#ffac5f" stroke-width="1.3" stroke-linejoin="round"/>
<polyline points="349.4,32.5 351.0,37.2 352.6,41.8 354.2,46.6 355.8,52.4 357.4,58.2 359.0,63.9 360.6,69.3 362.2,74.8 363.8,79.9 365.5,84.3 367.1,88.7 368.7,92.7 370.3,96.3 371.9,99.8 373.5,102.4 375.1,104.3 376.7,106.2 378.3,107.4 379.9,108.2 381.5,109.0 383.1,109.1 384.7,109.1 386.3,109.1 387.9,108.9 389.5,108.6 391.1,108.3 392.7,108.2 394.3,108.1 396.0,108.0 397.6,108.1 399.2,108.2 400.8,108.4 402.4,108.5 404.0,108.7 405.6,108.7 407.2,108.6 408.8,108.6 410.4,108.5 412.0,108.4 413.6,108.4 415.2,108.2 416.8,108.1 418.4,108.0 420.0,107.8 421.6,107.7 423.2,107.6 424.8,107.4 426.5,107.1 428.1,106.9 429.7,106.7 431.3,106.5 432.9,106.3 434.5,106.1 436.1,105.9 437.7,105.7 439.3,105.4 440.9,105.2 442.5,105.0 444.1,104.8" fill="none" stroke="#000000" stroke-width="1.3" stroke-linejoin="round"/>
</g>
<rect x="348.50" y="30.70" width="93.50" height="90.00" fill="none" stroke="#333" stroke-width="0.7"/>
<line x1="346.50" y1="111.50" x2="348.50" y2="111.50" stroke="#000" stroke-width="0.8"/>
<text x="345.00" y="114.10" font-size="6.49" text-anchor="end" textLength="9.38" lengthAdjust="spacingAndGlyphs">0.0</text>
<line x1="346.50" y1="95.50" x2="348.50" y2="95.50" stroke="#000" stroke-width="0.8"/>
<text x="345.00" y="98.30" font-size="6.49" text-anchor="end" textLength="9.38" lengthAdjust="spacingAndGlyphs">0.2</text>
<line x1="346.50" y1="79.50" x2="348.50" y2="79.50" stroke="#000" stroke-width="0.8"/>
<text x="345.00" y="82.50" font-size="6.49" text-anchor="end" textLength="9.38" lengthAdjust="spacingAndGlyphs">0.4</text>
<line x1="346.50" y1="64.50" x2="348.50" y2="64.50" stroke="#000" stroke-width="0.8"/>
<text x="345.00" y="66.70" font-size="6.49" text-anchor="end" textLength="9.38" lengthAdjust="spacingAndGlyphs">0.6</text>
<line x1="346.50" y1="48.50" x2="348.50" y2="48.50" stroke="#000" stroke-width="0.8"/>
<text x="345.00" y="50.90" font-size="6.49" text-anchor="end" textLength="9.38" lengthAdjust="spacingAndGlyphs">0.8</text>
<line x1="346.50" y1="32.50" x2="348.50" y2="32.50" stroke="#000" stroke-width="0.8"/>
<text x="345.00" y="35.10" font-size="6.49" text-anchor="end" textLength="9.38" lengthAdjust="spacingAndGlyphs">1.0</text>
<line x1="349.50" y1="120.70" x2="349.50" y2="122.70" stroke="#000" stroke-width="0.8"/>
<text x="349.40" y="130.30" font-size="6.49" text-anchor="middle" textLength="16.89" lengthAdjust="spacingAndGlyphs">0.000</text>
<line x1="372.50" y1="120.70" x2="372.50" y2="122.70" stroke="#000" stroke-width="0.8"/>
<text x="372.50" y="130.30" font-size="6.49" text-anchor="middle" textLength="16.89" lengthAdjust="spacingAndGlyphs">0.005</text>
<line x1="395.50" y1="120.70" x2="395.50" y2="122.70" stroke="#000" stroke-width="0.8"/>
<text x="395.60" y="130.30" font-size="6.49" text-anchor="middle" textLength="16.89" lengthAdjust="spacingAndGlyphs">0.010</text>
<line x1="418.50" y1="120.70" x2="418.50" y2="122.70" stroke="#000" stroke-width="0.8"/>
<text x="418.70" y="130.30" font-size="6.49" text-anchor="middle" textLength="16.89" lengthAdjust="spacingAndGlyphs">0.015</text>
<line x1="441.50" y1="120.70" x2="441.50" y2="122.70" stroke="#000" stroke-width="0.8"/>
<text x="441.80" y="130.30" font-size="6.49" text-anchor="middle" textLength="16.89" lengthAdjust="spacingAndGlyphs">0.020</text>
<clipPath id="c505_18"><rect x="505.00" y="18.50" width="178.60" height="171.80"/></clipPath>
<g clip-path="url(#c505_18)">
<polygon points="510.9,24.3 511.1,74.5 511.4,97.7 511.9,109.1 512.4,110.6 513.1,113.2 513.8,113.7 514.5,115.3 515.2,115.3 516.0,116.2 516.7,116.8 517.4,118.0 518.1,118.3 518.9,119.0 519.6,119.7 520.3,120.2 521.0,121.1 521.8,121.6 522.5,121.6 523.2,122.9 523.9,123.6 524.7,123.0 525.4,123.7 526.1,124.6 526.8,124.6 527.5,125.3 528.3,125.6 529.0,126.2 529.7,127.2 530.4,126.8 531.2,127.4 531.9,127.8 532.6,128.1 533.3,129.3 534.1,128.8 534.8,129.1 535.5,130.3 536.2,130.3 537.0,129.9 537.7,130.8 538.4,131.0 539.1,131.9 539.8,131.8 540.6,131.2 541.3,132.6 542.0,133.2 542.7,132.4 543.5,132.5 544.2,132.8 544.9,133.2 545.6,133.2 546.4,134.0 547.1,134.5 547.8,135.0 548.5,135.0 549.2,135.5 550.0,135.6 550.7,135.2 551.4,136.4 552.1,136.2 552.9,136.4 553.6,136.3 554.3,136.8 555.0,137.9 555.8,137.7 556.5,138.0 557.2,137.5 557.9,138.6 558.7,138.6 559.4,139.9 560.1,139.7 560.8,140.0 561.5,140.6 562.3,140.2 563.0,141.0 563.7,141.2 564.4,141.6 565.2,141.9 565.9,141.8 566.6,141.6 567.3,142.7 568.1,142.6 568.8,143.0 569.5,143.2 570.2,143.0 571.0,143.5 571.7,144.8 572.4,144.0 573.1,144.6 573.8,144.1 574.6,145.1 575.3,145.5 576.0,146.1 576.7,146.0 577.5,146.2 578.2,145.9 578.9,146.1 579.6,146.3 580.4,146.6 581.1,146.9 581.8,146.8 582.5,147.1 583.3,147.1 584.0,147.5 584.7,148.6 585.4,148.6 586.1,148.7 586.9,149.3 587.6,148.9 588.3,149.4 589.0,150.0 589.8,148.9 590.5,149.3 591.2,149.5 591.9,149.6 592.7,150.2 593.4,149.9 594.1,150.5 594.8,149.5 595.6,150.3 596.3,150.0 597.0,151.2 597.7,150.0 598.4,150.6 599.2,151.2 599.9,151.2 600.6,150.6 601.3,151.7 602.1,151.2 602.8,150.9 603.5,151.4 604.2,151.6 605.0,152.7 605.7,152.3 606.4,152.4 607.1,152.4 607.8,152.0 608.6,152.5 609.3,152.4 610.0,152.7 610.7,152.8 611.5,153.4 612.2,153.5 612.9,153.7 613.6,153.9 614.4,153.4 615.1,154.3 615.8,154.1 616.5,153.8 617.3,154.3 618.0,154.0 618.7,155.4 619.4,154.3 620.1,154.4 620.9,154.3 621.6,155.2 622.3,155.2 623.0,155.3 623.8,154.9 624.5,156.3 625.2,155.6 625.9,155.7 626.7,156.4 627.4,156.2 628.1,156.3 628.8,156.1 629.6,156.3 630.3,156.5 631.0,156.4 631.7,157.5 632.4,157.7 633.2,157.7 633.9,156.8 634.6,158.0 635.3,157.9 636.1,157.7 636.8,158.0 637.5,158.7 638.2,158.5 639.0,158.3 639.7,158.7 640.4,158.5 641.1,158.5 641.9,159.1 642.6,159.8 643.3,159.9 644.0,159.6 644.7,160.0 645.5,159.7 646.2,160.1 646.9,159.5 647.6,160.5 648.4,159.7 649.1,160.5 649.8,160.4 650.5,161.4 651.3,161.2 652.0,161.2 652.7,160.8 653.4,161.0 654.2,161.5 654.9,161.7 655.6,161.7 656.3,160.7 657.0,161.8 657.8,162.1 658.5,161.7 659.2,161.6 659.9,162.0 660.7,161.7 661.4,162.3 662.1,162.6 662.8,161.5 663.6,162.1 664.3,161.6 665.0,161.9 665.7,161.1 666.5,161.6 667.2,161.1 667.9,161.6 668.6,161.2 669.3,161.6 670.1,161.8 670.8,161.8 671.5,162.0 672.2,160.7 673.0,161.8 673.7,161.7 674.4,162.1 675.1,162.1 675.9,161.1 676.6,161.6 677.3,160.7 678.0,161.2 678.7,161.5 679.5,161.6 680.2,161.3 680.9,161.5 681.6,162.1 682.4,161.2 683.1,161.3 683.8,161.0 684.5,160.8 685.3,161.8 685.3,164.1 684.5,164.4 683.8,164.4 683.1,164.4 682.4,163.8 681.6,164.3 680.9,164.5 680.2,164.9 679.5,164.8 678.7,164.3 678.0,163.7 677.3,164.8 676.6,164.3 675.9,164.8 675.1,164.2 674.4,164.5 673.7,164.7 673.0,164.8 672.2,164.4 671.5,165.1 670.8,164.7 670.1,164.0 669.3,164.8 668.6,164.7 667.9,165.1 667.2,164.9 666.5,165.4 665.7,165.3 665.0,164.4 664.3,165.8 663.6,165.0 662.8,164.6 662.1,164.9 661.4,164.7 660.7,164.0 659.9,165.4 659.2,165.7 658.5,165.9 657.8,165.6 657.0,165.7 656.3,165.0 655.6,165.1 654.9,164.2 654.2,164.8 653.4,164.3 652.7,164.4 652.0,163.9 651.3,163.6 650.5,164.4 649.8,163.9 649.1,163.3 648.4,163.5 647.6,163.2 646.9,163.5 646.2,163.3 645.5,163.3 644.7,162.7 644.0,162.6 643.3,162.7 642.6,162.3 641.9,161.9 641.1,162.7 640.4,162.6 639.7,163.0 639.0,162.6 638.2,161.6 637.5,161.6 636.8,161.2 636.1,162.0 635.3,161.3 634.6,161.0 633.9,160.4 633.2,160.1 632.4,160.7 631.7,161.2 631.0,159.8 630.3,160.4 629.6,159.9 628.8,160.4 628.1,159.5 627.4,159.7 626.7,158.9 625.9,160.0 625.2,159.5 624.5,158.8 623.8,159.4 623.0,158.8 622.3,158.6 621.6,158.4 620.9,158.8 620.1,157.6 619.4,158.0 618.7,158.5 618.0,158.6 617.3,157.5 616.5,158.0 615.8,157.2 615.1,157.1 614.4,157.7 613.6,156.7 612.9,156.6 612.2,156.5 611.5,156.8 610.7,157.2 610.0,156.9 609.3,156.5 608.6,157.2 607.8,156.5 607.1,156.4 606.4,155.4 605.7,155.3 605.0,155.6 604.2,156.1 603.5,155.7 602.8,155.4 602.1,155.9 601.3,154.3 600.6,154.4 599.9,153.8 599.2,155.2 598.4,153.5 597.7,154.3 597.0,153.9 596.3,154.5 595.6,153.8 594.8,153.9 594.1,154.2 593.4,153.6 592.7,153.8 591.9,153.3 591.2,153.8 590.5,152.9 589.8,153.3 589.0,152.8 588.3,152.4 587.6,152.6 586.9,152.2 586.1,151.5 585.4,151.5 584.7,151.7 584.0,151.6 583.3,151.6 582.5,150.8 581.8,151.5 581.1,150.4 580.4,151.1 579.6,150.6 578.9,150.7 578.2,150.2 577.5,149.4 576.7,149.8 576.0,149.2 575.3,149.1 574.6,148.6 573.8,149.2 573.1,148.7 572.4,148.6 571.7,147.9 571.0,148.3 570.2,148.2 569.5,147.5 568.8,147.3 568.1,147.4 567.3,146.7 566.6,146.7 565.9,146.3 565.2,145.2 564.4,145.6 563.7,146.3 563.0,144.7 562.3,144.6 561.5,144.1 560.8,144.4 560.1,144.7 559.4,143.9 558.7,142.6 557.9,142.5 557.2,143.1 556.5,142.8 555.8,142.2 555.0,141.8 554.3,141.9 553.6,141.4 552.9,141.9 552.1,140.6 551.4,140.2 550.7,140.5 550.0,139.6 549.2,139.3 548.5,139.5 547.8,139.1 547.1,139.4 546.4,139.0 545.6,139.1 544.9,138.4 544.2,138.7 543.5,137.5 542.7,138.2 542.0,137.4 541.3,137.2 540.6,137.3 539.8,137.5 539.1,136.8 538.4,136.7 537.7,135.6 537.0,135.3 536.2,134.9 535.5,134.9 534.8,134.8 534.1,134.6 533.3,133.5 532.6,133.9 531.9,133.3 531.2,133.1 530.4,132.4 529.7,131.7 529.0,132.3 528.3,131.7 527.5,131.6 526.8,130.7 526.1,130.1 525.4,129.8 524.7,129.2 523.9,128.7 523.2,127.4 522.5,127.8 521.8,127.2 521.0,126.1 520.3,126.3 519.6,124.5 518.9,124.9 518.1,124.1 517.4,123.9 516.7,121.8 516.0,121.9 515.2,121.0 514.5,120.2 513.8,118.9 513.1,119.3 512.4,116.3 511.9,115.6 511.4,100.6 511.1,76.2 510.9,25.9" fill="#1f77b4" fill-opacity="0.2" stroke="none"/>
<polygon points="510.9,25.0 511.1,74.1 511.4,98.8 511.9,112.0 512.4,113.2 513.1,114.3 513.8,114.5 514.5,115.8 515.2,116.4 516.0,117.7 516.7,116.8 517.4,116.9 518.1,118.9 518.9,120.3 519.6,120.2 520.3,120.9 521.0,121.6 521.8,121.8 522.5,123.7 523.2,123.4 523.9,123.4 524.7,123.8 525.4,124.1 526.1,125.4 526.8,125.2 527.5,125.5 528.3,126.2 529.0,126.6 529.7,127.2 530.4,127.1 531.2,127.5 531.9,126.1 532.6,129.3 533.3,127.5 534.1,128.6 534.8,128.2 535.5,129.2 536.2,130.4 537.0,130.4 537.7,130.7 538.4,131.5 539.1,131.5 539.8,132.8 540.6,131.5 541.3,132.6 542.0,133.5 542.7,134.2 543.5,134.8 544.2,135.9 544.9,136.3 545.6,135.7 546.4,137.1 547.1,137.6 547.8,137.7 548.5,138.9 549.2,138.3 550.0,139.2 550.7,139.8 551.4,140.2 552.1,141.5 552.9,140.9 553.6,141.5 554.3,141.8 555.0,141.4 555.8,143.8 556.5,142.2 557.2,143.3 557.9,143.8 558.7,143.0 559.4,143.8 560.1,144.0 560.8,143.6 561.5,145.0 562.3,145.3 563.0,146.3 563.7,144.9 564.4,147.0 565.2,145.8 565.9,146.2 566.6,148.1 567.3,147.3 568.1,146.8 568.8,147.6 569.5,147.6 570.2,148.2 571.0,149.7 571.7,148.4 572.4,148.2 573.1,149.9 573.8,149.5 574.6,149.8 575.3,150.3 576.0,150.7 576.7,150.3 577.5,151.6 578.2,151.3 578.9,151.8 579.6,152.1 580.4,151.7 581.1,153.4 581.8,151.7 582.5,152.3 583.3,153.5 584.0,152.5 584.7,152.7 585.4,151.3 586.1,152.1 586.9,152.6 587.6,154.2 588.3,154.1 589.0,153.4 589.8,153.9 590.5,154.3 591.2,153.9 591.9,154.0 592.7,153.6 593.4,154.3 594.1,154.0 594.8,152.4 595.6,154.3 596.3,154.6 597.0,153.3 597.7,154.2 598.4,154.4 599.2,153.5 599.9,153.2 600.6,154.3 601.3,154.5 602.1,153.9 602.8,155.3 603.5,155.1 604.2,154.7 605.0,155.4 605.7,154.7 606.4,154.8 607.1,154.7 607.8,156.2 608.6,155.6 609.3,155.4 610.0,155.5 610.7,156.9 611.5,156.1 612.2,157.1 612.9,157.9 613.6,154.8 614.4,156.3 615.1,156.1 615.8,157.1 616.5,157.3 617.3,157.1 618.0,157.2 618.7,157.1 619.4,157.7 620.1,158.9 620.9,158.1 621.6,158.1 622.3,157.9 623.0,158.2 623.8,157.7 624.5,158.6 625.2,159.3 625.9,158.1 626.7,159.8 627.4,159.4 628.1,158.8 628.8,159.4 629.6,159.9 630.3,159.6 631.0,157.5 631.7,159.5 632.4,159.3 633.2,160.8 633.9,160.0 634.6,159.5 635.3,160.6 636.1,161.4 636.8,160.0 637.5,160.4 638.2,161.1 639.0,159.9 639.7,159.9 640.4,161.0 641.1,161.0 641.9,160.4 642.6,160.3 643.3,160.5 644.0,161.5 644.7,160.8 645.5,160.4 646.2,161.0 646.9,159.9 647.6,160.5 648.4,161.3 649.1,161.4 649.8,162.0 650.5,159.8 651.3,161.0 652.0,160.6 652.7,160.7 653.4,161.5 654.2,161.8 654.9,160.9 655.6,160.6 656.3,159.7 657.0,160.6 657.8,161.3 658.5,161.0 659.2,160.4 659.9,161.6 660.7,160.7 661.4,162.3 662.1,160.5 662.8,161.6 663.6,161.3 664.3,161.4 665.0,161.2 665.7,161.5 666.5,160.6 667.2,160.7 667.9,161.7 668.6,161.4 669.3,159.6 670.1,160.7 670.8,161.8 671.5,160.5 672.2,161.9 673.0,160.5 673.7,161.1 674.4,160.2 675.1,159.9 675.9,160.1 676.6,160.2 677.3,161.0 678.0,161.0 678.7,161.4 679.5,161.0 680.2,162.2 680.9,159.1 681.6,161.5 682.4,161.1 683.1,161.2 683.8,161.3 684.5,160.1 685.3,160.3 685.3,165.2 684.5,165.2 683.8,166.1 683.1,165.6 682.4,164.4 681.6,165.7 680.9,164.5 680.2,166.1 679.5,165.1 678.7,165.4 678.0,165.4 677.3,164.6 676.6,164.6 675.9,165.4 675.1,165.1 674.4,164.7 673.7,164.6 673.0,164.5 672.2,165.7 671.5,165.7 670.8,165.4 670.1,165.6 669.3,164.6 668.6,165.4 667.9,165.7 667.2,165.2 666.5,165.6 665.7,165.7 665.0,165.1 664.3,165.9 663.6,166.7 662.8,165.4 662.1,165.8 661.4,166.3 660.7,166.1 659.9,166.2 659.2,165.6 658.5,165.0 657.8,166.6 657.0,165.2 656.3,165.5 655.6,166.3 654.9,166.3 654.2,166.1 653.4,165.6 652.7,165.0 652.0,165.5 651.3,165.5 650.5,165.0 649.8,165.9 649.1,166.0 648.4,166.6 647.6,165.3 646.9,165.7 646.2,165.0 645.5,165.8 644.7,166.1 644.0,166.6 643.3,165.5 642.6,165.4 641.9,165.6 641.1,166.1 640.4,165.3 639.7,165.2 639.0,165.4 638.2,166.0 637.5,166.4 636.8,166.0 636.1,165.8 635.3,165.8 634.6,165.5 633.9,165.2 633.2,166.7 632.4,164.2 631.7,164.6 631.0,162.8 630.3,164.3 629.6,164.1 628.8,163.8 628.1,164.8 627.4,165.4 626.7,163.9 625.9,164.0 625.2,164.8 624.5,164.5 623.8,162.8 623.0,164.3 622.3,162.8 621.6,163.1 620.9,162.6 620.1,164.4 619.4,163.3 618.7,163.4 618.0,162.3 617.3,162.1 616.5,161.6 615.8,162.7 615.1,161.1 614.4,161.5 613.6,160.2 612.9,162.6 612.2,162.5 611.5,161.8 610.7,162.0 610.0,161.4 609.3,160.9 608.6,160.0 607.8,161.6 607.1,160.2 606.4,161.2 605.7,160.2 605.0,161.1 604.2,161.0 603.5,160.0 602.8,161.3 602.1,159.5 601.3,160.9 600.6,159.0 599.9,159.4 599.2,159.5 598.4,158.9 597.7,159.9 597.0,159.8 596.3,160.0 595.6,160.7 594.8,158.2 594.1,160.2 593.4,159.6 592.7,160.0 591.9,159.3 591.2,159.6 590.5,159.5 589.8,159.3 589.0,159.5 588.3,159.0 587.6,158.8 586.9,158.9 586.1,157.8 585.4,157.6 584.7,159.0 584.0,158.2 583.3,158.7 582.5,158.0 581.8,157.6 581.1,159.4 580.4,156.9 579.6,157.6 578.9,156.8 578.2,156.2 577.5,158.3 576.7,155.8 576.0,156.2 575.3,155.8 574.6,156.1 573.8,155.8 573.1,155.7 572.4,155.0 571.7,154.1 571.0,155.2 570.2,155.0 569.5,153.2 568.8,153.1 568.1,154.2 567.3,153.3 566.6,153.9 565.9,152.4 565.2,153.0 564.4,154.0 563.7,151.1 563.0,152.0 562.3,151.3 561.5,151.4 560.8,151.0 560.1,151.6 559.4,149.8 558.7,150.2 557.9,150.9 557.2,150.0 556.5,149.7 555.8,149.7 555.0,149.0 554.3,148.4 553.6,148.2 552.9,148.4 552.1,148.6 551.4,146.9 550.7,146.3 550.0,147.4 549.2,145.5 548.5,145.1 547.8,146.0 547.1,145.7 546.4,145.3 545.6,144.1 544.9,143.4 544.2,143.5 543.5,142.6 542.7,141.5 542.0,141.9 541.3,139.8 540.6,139.5 539.8,140.9 539.1,138.5 538.4,138.8 537.7,137.9 537.0,137.9 536.2,137.9 535.5,136.9 534.8,136.1 534.1,135.9 533.3,136.4 532.6,136.5 531.9,134.1 531.2,134.7 530.4,134.3 529.7,134.8 529.0,134.5 528.3,133.7 527.5,133.2 526.8,133.0 526.1,132.7 525.4,132.1 524.7,132.3 523.9,132.8 523.2,131.3 522.5,131.2 521.8,130.4 521.0,130.6 520.3,130.5 519.6,128.5 518.9,128.8 518.1,127.6 517.4,126.0 516.7,126.6 516.0,126.0 515.2,126.1 514.5,125.4 513.8,122.9 513.1,122.5 512.4,122.7 511.9,120.7 511.4,104.8 511.1,76.5 510.9,25.2" fill="#ff7f0e" fill-opacity="0.2" stroke="none"/>
<polygon points="510.9,24.1 511.1,76.5 511.4,106.3 511.9,115.4 512.4,118.4 513.1,122.8 513.8,124.7 514.5,125.4 515.2,126.5 516.0,127.4 516.7,128.2 517.4,128.5 518.1,128.7 518.9,129.2 519.6,130.4 520.3,131.2 521.0,131.6 521.8,132.5 522.5,131.6 523.2,132.9 523.9,133.1 524.7,133.5 525.4,132.9 526.1,134.4 526.8,135.0 527.5,135.5 528.3,135.1 529.0,136.1 529.7,136.0 530.4,136.2 531.2,136.8 531.9,136.2 532.6,137.3 533.3,138.3 534.1,138.3 534.8,138.7 535.5,139.1 536.2,138.6 537.0,138.2 537.7,138.7 538.4,139.7 539.1,138.6 539.8,139.9 540.6,140.5 541.3,140.8 542.0,140.5 542.7,141.0 543.5,140.3 544.2,141.5 544.9,141.8 545.6,141.6 546.4,141.8 547.1,141.9 547.8,141.6 548.5,141.9 549.2,143.2 550.0,142.7 550.7,144.5 551.4,143.9 552.1,144.0 552.9,143.3 553.6,143.7 554.3,144.9 555.0,143.6 555.8,145.3 556.5,145.0 557.2,145.6 557.9,146.2 558.7,145.8 559.4,145.4 560.1,147.2 560.8,146.0 561.5,147.2 562.3,146.2 563.0,146.9 563.7,147.0 564.4,147.7 565.2,148.1 565.9,148.5 566.6,148.0 567.3,149.6 568.1,148.4 568.8,149.5 569.5,149.4 570.2,149.9 571.0,149.6 571.7,149.7 572.4,150.9 573.1,151.6 573.8,151.4 574.6,151.0 575.3,151.3 576.0,151.9 576.7,152.0 577.5,152.3 578.2,152.1 578.9,152.2 579.6,152.7 580.4,153.0 581.1,151.9 581.8,152.5 582.5,153.3 583.3,152.8 584.0,152.7 584.7,152.8 585.4,153.3 586.1,153.2 586.9,153.9 587.6,153.0 588.3,152.9 589.0,153.4 589.8,153.7 590.5,154.1 591.2,153.3 591.9,153.9 592.7,153.6 593.4,153.7 594.1,153.8 594.8,154.8 595.6,153.7 596.3,154.7 597.0,153.8 597.7,154.0 598.4,155.3 599.2,154.7 599.9,153.9 600.6,154.6 601.3,154.4 602.1,155.3 602.8,155.4 603.5,154.7 604.2,154.1 605.0,154.4 605.7,155.0 606.4,155.3 607.1,155.6 607.8,155.9 608.6,155.4 609.3,156.2 610.0,156.2 610.7,156.3 611.5,156.6 612.2,156.1 612.9,155.5 613.6,156.6 614.4,156.5 615.1,157.4 615.8,156.9 616.5,156.6 617.3,157.1 618.0,158.2 618.7,157.6 619.4,158.3 620.1,158.6 620.9,158.1 621.6,158.4 622.3,159.5 623.0,158.7 623.8,159.4 624.5,159.4 625.2,160.3 625.9,159.4 626.7,160.5 627.4,160.4 628.1,159.0 628.8,161.1 629.6,161.5 630.3,160.2 631.0,161.7 631.7,160.9 632.4,161.4 633.2,161.8 633.9,162.3 634.6,161.8 635.3,161.7 636.1,162.7 636.8,163.0 637.5,162.6 638.2,162.0 639.0,162.8 639.7,162.0 640.4,162.8 641.1,163.3 641.9,163.3 642.6,163.5 643.3,163.8 644.0,163.7 644.7,163.3 645.5,163.3 646.2,163.3 646.9,162.9 647.6,163.2 648.4,163.1 649.1,163.0 649.8,162.3 650.5,163.1 651.3,162.0 652.0,162.1 652.7,163.2 653.4,162.5 654.2,163.1 654.9,162.4 655.6,162.0 656.3,162.1 657.0,162.2 657.8,161.5 658.5,161.4 659.2,162.1 659.9,162.5 660.7,161.9 661.4,162.8 662.1,161.1 662.8,161.8 663.6,161.6 664.3,162.1 665.0,161.6 665.7,161.8 666.5,162.1 667.2,162.1 667.9,162.2 668.6,162.3 669.3,162.0 670.1,161.6 670.8,160.7 671.5,161.4 672.2,160.7 673.0,162.3 673.7,161.9 674.4,161.2 675.1,162.1 675.9,161.0 676.6,160.8 677.3,161.5 678.0,161.4 678.7,160.4 679.5,161.3 680.2,160.7 680.9,160.9 681.6,160.9 682.4,161.2 683.1,160.9 683.8,160.4 684.5,160.7 685.3,160.6 685.3,166.7 684.5,166.3 683.8,165.6 683.1,167.2 682.4,167.9 681.6,167.2 680.9,167.7 680.2,167.3 679.5,166.9 678.7,165.8 678.0,166.8 677.3,167.3 676.6,167.3 675.9,166.8 675.1,166.9 674.4,167.2 673.7,167.0 673.0,168.8 672.2,166.9 671.5,167.8 670.8,167.1 670.1,168.1 669.3,167.5 668.6,167.5 667.9,167.5 667.2,167.2 666.5,167.6 665.7,167.1 665.0,168.1 664.3,168.2 663.6,166.9 662.8,168.7 662.1,167.6 661.4,167.9 660.7,168.8 659.9,167.7 659.2,168.6 658.5,168.4 657.8,168.2 657.0,168.1 656.3,168.5 655.6,169.1 654.9,168.7 654.2,168.5 653.4,169.4 652.7,168.5 652.0,168.7 651.3,168.4 650.5,169.5 649.8,169.5 649.1,169.1 648.4,169.4 647.6,170.4 646.9,170.0 646.2,169.5 645.5,168.7 644.7,169.0 644.0,169.6 643.3,169.5 642.6,170.7 641.9,169.4 641.1,169.5 640.4,168.9 639.7,168.6 639.0,168.5 638.2,168.7 637.5,168.8 636.8,169.1 636.1,169.5 635.3,169.0 634.6,169.1 633.9,168.3 633.2,168.7 632.4,167.8 631.7,168.3 631.0,168.3 630.3,167.5 629.6,168.0 628.8,166.9 628.1,166.4 627.4,167.8 626.7,166.5 625.9,166.9 625.2,166.3 624.5,165.4 623.8,165.9 623.0,166.2 622.3,165.4 621.6,165.3 620.9,165.6 620.1,164.7 619.4,165.7 618.7,164.3 618.0,164.9 617.3,164.5 616.5,164.4 615.8,164.5 615.1,163.3 614.4,163.6 613.6,164.4 612.9,163.5 612.2,163.5 611.5,162.9 610.7,163.6 610.0,164.2 609.3,163.0 608.6,162.5 607.8,162.8 607.1,162.9 606.4,162.1 605.7,163.1 605.0,162.3 604.2,161.5 603.5,162.3 602.8,161.9 602.1,161.6 601.3,161.6 600.6,161.5 599.9,161.7 599.2,160.9 598.4,161.8 597.7,162.2 597.0,161.4 596.3,161.3 595.6,160.6 594.8,161.2 594.1,161.0 593.4,160.7 592.7,161.1 591.9,161.7 591.2,161.0 590.5,161.1 589.8,161.2 589.0,161.7 588.3,161.4 587.6,161.0 586.9,161.0 586.1,161.4 585.4,160.7 584.7,160.2 584.0,160.7 583.3,160.9 582.5,161.3 581.8,160.2 581.1,159.6 580.4,160.2 579.6,160.6 578.9,159.6 578.2,160.0 577.5,159.9 576.7,159.1 576.0,159.9 575.3,159.9 574.6,160.0 573.8,159.4 573.1,160.3 572.4,159.0 571.7,159.0 571.0,157.7 570.2,157.8 569.5,158.6 568.8,156.9 568.1,157.8 567.3,157.5 566.6,156.4 565.9,157.7 565.2,156.4 564.4,156.0 563.7,156.3 563.0,156.1 562.3,155.3 561.5,155.4 560.8,155.4 560.1,155.3 559.4,154.3 558.7,154.7 557.9,155.1 557.2,154.3 556.5,154.5 555.8,154.5 555.0,153.8 554.3,153.7 553.6,153.3 552.9,153.4 552.1,154.6 551.4,153.2 550.7,153.1 550.0,152.3 549.2,153.0 548.5,151.8 547.8,151.9 547.1,151.1 546.4,151.0 545.6,150.6 544.9,151.0 544.2,152.5 543.5,151.4 542.7,151.0 542.0,150.8 541.3,150.1 540.6,150.9 539.8,149.9 539.1,150.0 538.4,150.3 537.7,149.7 537.0,148.9 536.2,149.7 535.5,148.7 534.8,149.9 534.1,148.6 533.3,148.1 532.6,149.2 531.9,147.1 531.2,147.0 530.4,147.8 529.7,147.9 529.0,146.7 528.3,146.5 527.5,146.7 526.8,146.7 526.1,145.4 525.4,145.0 524.7,144.9 523.9,145.2 523.2,144.4 522.5,143.1 521.8,143.4 521.0,142.5 520.3,141.8 519.6,141.3 518.9,140.1 518.1,140.3 517.4,139.4 516.7,140.5 516.0,139.4 515.2,138.3 514.5,138.2 513.8,136.9 513.1,135.0 512.4,130.8 511.9,127.8 511.4,113.2 511.1,79.5 510.9,26.1" fill="#000000" fill-opacity="0.2" stroke="none"/>
<line x1="505.00" y1="157.30" x2="683.60" y2="157.30" stroke="#000" stroke-width="1.5" stroke-dasharray="4.66,2.02"/>
<polyline points="510.9,25.1 511.1,75.3 511.4,99.1 511.9,112.4 512.4,113.4 513.1,116.3 513.8,116.3 514.5,117.7 515.2,118.2 516.0,119.0 516.7,119.3 517.4,120.9 518.1,121.2 518.9,121.9 519.6,122.1 520.3,123.3 521.0,123.6 521.8,124.4 522.5,124.7 523.2,125.1 523.9,126.1 524.7,126.1 525.4,126.8 526.1,127.4 526.8,127.6 527.5,128.4 528.3,128.6 529.0,129.2 529.7,129.4 530.4,129.6 531.2,130.3 531.9,130.6 532.6,131.0 533.3,131.4 534.1,131.7 534.8,131.9 535.5,132.6 536.2,132.6 537.0,132.6 537.7,133.2 538.4,133.8 539.1,134.4 539.8,134.7 540.6,134.2 541.3,134.9 542.0,135.3 542.7,135.3 543.5,135.0 544.2,135.7 544.9,135.8 545.6,136.1 546.4,136.5 547.1,137.0 547.8,137.1 548.5,137.3 549.2,137.4 550.0,137.6 550.7,137.8 551.4,138.3 552.1,138.4 552.9,139.1 553.6,138.9 554.3,139.4 555.0,139.9 555.8,139.9 556.5,140.4 557.2,140.3 557.9,140.5 558.7,140.6 559.4,141.9 560.1,142.2 560.8,142.2 561.5,142.3 562.3,142.4 563.0,142.9 563.7,143.8 564.4,143.6 565.2,143.6 565.9,144.0 566.6,144.2 567.3,144.7 568.1,145.0 568.8,145.1 569.5,145.3 570.2,145.6 571.0,145.9 571.7,146.4 572.4,146.3 573.1,146.7 573.8,146.6 574.6,146.9 575.3,147.3 576.0,147.6 576.7,147.9 577.5,147.8 578.2,148.1 578.9,148.4 579.6,148.4 580.4,148.8 581.1,148.6 581.8,149.2 582.5,148.9 583.3,149.4 584.0,149.5 584.7,150.2 585.4,150.0 586.1,150.1 586.9,150.8 587.6,150.8 588.3,150.9 589.0,151.4 589.8,151.1 590.5,151.1 591.2,151.6 591.9,151.4 592.7,152.0 593.4,151.8 594.1,152.3 594.8,151.7 595.6,152.0 596.3,152.3 597.0,152.6 597.7,152.1 598.4,152.1 599.2,153.2 599.9,152.5 600.6,152.5 601.3,153.0 602.1,153.6 602.8,153.2 603.5,153.6 604.2,153.8 605.0,154.1 605.7,153.8 606.4,153.9 607.1,154.4 607.8,154.2 608.6,154.8 609.3,154.5 610.0,154.8 610.7,155.0 611.5,155.1 612.2,155.0 612.9,155.2 613.6,155.3 614.4,155.6 615.1,155.7 615.8,155.7 616.5,155.9 617.3,155.9 618.0,156.3 618.7,157.0 619.4,156.2 620.1,156.0 620.9,156.6 621.6,156.8 622.3,156.9 623.0,157.1 623.8,157.1 624.5,157.6 625.2,157.5 625.9,157.8 626.7,157.7 627.4,158.0 628.1,157.9 628.8,158.2 629.6,158.1 630.3,158.5 631.0,158.1 631.7,159.3 632.4,159.2 633.2,158.9 633.9,158.6 634.6,159.5 635.3,159.6 636.1,159.8 636.8,159.6 637.5,160.1 638.2,160.0 639.0,160.4 639.7,160.8 640.4,160.5 641.1,160.6 641.9,160.5 642.6,161.0 643.3,161.3 644.0,161.1 644.7,161.4 645.5,161.5 646.2,161.7 646.9,161.5 647.6,161.9 648.4,161.6 649.1,161.9 649.8,162.2 650.5,162.9 651.3,162.4 652.0,162.6 652.7,162.6 653.4,162.7 654.2,163.2 654.9,162.9 655.6,163.4 656.3,162.9 657.0,163.7 657.8,163.8 658.5,163.8 659.2,163.6 659.9,163.7 660.7,162.9 661.4,163.5 662.1,163.7 662.8,163.1 663.6,163.5 664.3,163.7 665.0,163.1 665.7,163.2 666.5,163.5 667.2,163.0 667.9,163.3 668.6,162.9 669.3,163.2 670.1,162.9 670.8,163.2 671.5,163.6 672.2,162.5 673.0,163.3 673.7,163.2 674.4,163.3 675.1,163.1 675.9,163.0 676.6,162.9 677.3,162.8 678.0,162.5 678.7,162.9 679.5,163.2 680.2,163.1 680.9,163.0 681.6,163.2 682.4,162.5 683.1,162.8 683.8,162.7 684.5,162.6 685.3,163.0" fill="none" stroke="#1f77b4" stroke-width="1.5" stroke-linejoin="round"/>
<polyline points="510.9,25.1 511.1,75.3 511.4,101.8 511.9,116.3 512.4,117.9 513.1,118.4 513.8,118.7 514.5,120.6 515.2,121.3 516.0,121.8 516.7,121.7 517.4,121.4 518.1,123.3 518.9,124.6 519.6,124.4 520.3,125.7 521.0,126.1 521.8,126.1 522.5,127.4 523.2,127.3 523.9,128.1 524.7,128.0 525.4,128.1 526.1,129.1 526.8,129.1 527.5,129.4 528.3,129.9 529.0,130.5 529.7,131.0 530.4,130.7 531.2,131.1 531.9,130.1 532.6,132.9 533.3,132.0 534.1,132.3 534.8,132.2 535.5,133.0 536.2,134.2 537.0,134.1 537.7,134.3 538.4,135.1 539.1,135.0 539.8,136.8 540.6,135.5 541.3,136.2 542.0,137.7 542.7,137.8 543.5,138.7 544.2,139.7 544.9,139.8 545.6,139.9 546.4,141.2 547.1,141.7 547.8,141.9 548.5,142.0 549.2,141.9 550.0,143.3 550.7,143.0 551.4,143.6 552.1,145.0 552.9,144.6 553.6,144.8 554.3,145.1 555.0,145.2 555.8,146.7 556.5,145.9 557.2,146.6 557.9,147.3 558.7,146.6 559.4,146.8 560.1,147.8 560.8,147.3 561.5,148.2 562.3,148.3 563.0,149.2 563.7,148.0 564.4,150.5 565.2,149.4 565.9,149.3 566.6,151.0 567.3,150.3 568.1,150.5 568.8,150.4 569.5,150.4 570.2,151.6 571.0,152.4 571.7,151.3 572.4,151.6 573.1,152.8 573.8,152.7 574.6,152.9 575.3,153.1 576.0,153.5 576.7,153.1 577.5,155.0 578.2,153.7 578.9,154.3 579.6,154.8 580.4,154.3 581.1,156.4 581.8,154.7 582.5,155.2 583.3,156.1 584.0,155.4 584.7,155.9 585.4,154.4 586.1,154.9 586.9,155.8 587.6,156.5 588.3,156.5 589.0,156.5 589.8,156.6 590.5,156.9 591.2,156.7 591.9,156.6 592.7,156.8 593.4,156.9 594.1,157.1 594.8,155.3 595.6,157.5 596.3,157.3 597.0,156.6 597.7,157.0 598.4,156.7 599.2,156.5 599.9,156.3 600.6,156.7 601.3,157.7 602.1,156.7 602.8,158.3 603.5,157.5 604.2,157.8 605.0,158.2 605.7,157.5 606.4,158.0 607.1,157.5 607.8,158.9 608.6,157.8 609.3,158.1 610.0,158.5 610.7,159.4 611.5,159.0 612.2,159.8 612.9,160.2 613.6,157.5 614.4,158.9 615.1,158.6 615.8,159.9 616.5,159.5 617.3,159.6 618.0,159.8 618.7,160.3 619.4,160.5 620.1,161.6 620.9,160.4 621.6,160.6 622.3,160.4 623.0,161.2 623.8,160.3 624.5,161.5 625.2,162.1 625.9,161.0 626.7,161.9 627.4,162.4 628.1,161.8 628.8,161.6 629.6,162.0 630.3,161.9 631.0,160.2 631.7,162.0 632.4,161.7 633.2,163.7 633.9,162.6 634.6,162.5 635.3,163.2 636.1,163.6 636.8,163.0 637.5,163.4 638.2,163.6 639.0,162.7 639.7,162.6 640.4,163.1 641.1,163.5 641.9,163.0 642.6,162.8 643.3,163.0 644.0,164.1 644.7,163.5 645.5,163.1 646.2,163.0 646.9,162.8 647.6,162.9 648.4,163.9 649.1,163.7 649.8,164.0 650.5,162.4 651.3,163.3 652.0,163.1 652.7,162.8 653.4,163.5 654.2,164.0 654.9,163.6 655.6,163.5 656.3,162.6 657.0,162.9 657.8,163.9 658.5,163.0 659.2,163.0 659.9,163.9 660.7,163.4 661.4,164.3 662.1,163.1 662.8,163.5 663.6,164.0 664.3,163.7 665.0,163.2 665.7,163.6 666.5,163.1 667.2,163.0 667.9,163.7 668.6,163.4 669.3,162.1 670.1,163.1 670.8,163.6 671.5,163.1 672.2,163.8 673.0,162.5 673.7,162.8 674.4,162.4 675.1,162.5 675.9,162.7 676.6,162.4 677.3,162.8 678.0,163.2 678.7,163.4 679.5,163.1 680.2,164.1 680.9,161.8 681.6,163.6 682.4,162.7 683.1,163.4 683.8,163.7 684.5,162.7 685.3,162.7" fill="none" stroke="#ffac5f" stroke-width="1.5" stroke-linejoin="round"/>
<polyline points="510.9,25.1 511.1,78.0 511.4,109.7 511.9,121.6 512.4,124.6 513.1,128.9 513.8,130.8 514.5,131.8 515.2,132.4 516.0,133.4 516.7,134.3 517.4,134.0 518.1,134.5 518.9,134.7 519.6,135.8 520.3,136.5 521.0,137.1 521.8,137.9 522.5,137.4 523.2,138.7 523.9,139.1 524.7,139.2 525.4,139.0 526.1,139.9 526.8,140.9 527.5,141.1 528.3,140.8 529.0,141.4 529.7,141.9 530.4,142.0 531.2,141.9 531.9,141.7 532.6,143.2 533.3,143.2 534.1,143.5 534.8,144.3 535.5,143.9 536.2,144.2 537.0,143.5 537.7,144.2 538.4,145.0 539.1,144.3 539.8,144.9 540.6,145.7 541.3,145.5 542.0,145.7 542.7,146.0 543.5,145.9 544.2,147.0 544.9,146.4 545.6,146.1 546.4,146.4 547.1,146.5 547.8,146.7 548.5,146.8 549.2,148.1 550.0,147.5 550.7,148.8 551.4,148.6 552.1,149.3 552.9,148.4 553.6,148.5 554.3,149.3 555.0,148.7 555.8,149.9 556.5,149.7 557.2,150.0 557.9,150.6 558.7,150.2 559.4,149.9 560.1,151.2 560.8,150.7 561.5,151.3 562.3,150.8 563.0,151.5 563.7,151.6 564.4,151.9 565.2,152.2 565.9,153.1 566.6,152.2 567.3,153.5 568.1,153.1 568.8,153.2 569.5,154.0 570.2,153.8 571.0,153.7 571.7,154.4 572.4,154.9 573.1,156.0 573.8,155.4 574.6,155.5 575.3,155.6 576.0,155.9 576.7,155.5 577.5,156.1 578.2,156.1 578.9,155.9 579.6,156.7 580.4,156.6 581.1,155.8 581.8,156.4 582.5,157.3 583.3,156.9 584.0,156.7 584.7,156.5 585.4,157.0 586.1,157.3 586.9,157.5 587.6,157.0 588.3,157.2 589.0,157.5 589.8,157.4 590.5,157.6 591.2,157.2 591.9,157.8 592.7,157.3 593.4,157.2 594.1,157.4 594.8,158.0 595.6,157.2 596.3,158.0 597.0,157.6 597.7,158.1 598.4,158.5 599.2,157.8 599.9,157.8 600.6,158.0 601.3,158.0 602.1,158.5 602.8,158.6 603.5,158.5 604.2,157.8 605.0,158.4 605.7,159.0 606.4,158.7 607.1,159.2 607.8,159.3 608.6,158.9 609.3,159.6 610.0,160.2 610.7,160.0 611.5,159.7 612.2,159.8 612.9,159.5 613.6,160.5 614.4,160.1 615.1,160.3 615.8,160.7 616.5,160.5 617.3,160.8 618.0,161.5 618.7,160.9 619.4,162.0 620.1,161.7 620.9,161.9 621.6,161.9 622.3,162.5 623.0,162.4 623.8,162.6 624.5,162.4 625.2,163.3 625.9,163.2 626.7,163.5 627.4,164.1 628.1,162.7 628.8,164.0 629.6,164.8 630.3,163.8 631.0,165.0 631.7,164.6 632.4,164.6 633.2,165.3 633.9,165.3 634.6,165.4 635.3,165.4 636.1,166.1 636.8,166.0 637.5,165.7 638.2,165.4 639.0,165.6 639.7,165.3 640.4,165.8 641.1,166.4 641.9,166.3 642.6,167.1 643.3,166.6 644.0,166.7 644.7,166.1 645.5,166.0 646.2,166.4 646.9,166.4 647.6,166.8 648.4,166.2 649.1,166.0 649.8,165.9 650.5,166.3 651.3,165.2 652.0,165.4 652.7,165.9 653.4,166.0 654.2,165.8 654.9,165.6 655.6,165.6 656.3,165.3 657.0,165.1 657.8,164.9 658.5,164.9 659.2,165.3 659.9,165.1 660.7,165.4 661.4,165.4 662.1,164.4 662.8,165.3 663.6,164.2 664.3,165.1 665.0,164.8 665.7,164.5 666.5,164.8 667.2,164.6 667.9,164.8 668.6,164.9 669.3,164.7 670.1,164.9 670.8,163.9 671.5,164.6 672.2,163.8 673.0,165.5 673.7,164.4 674.4,164.2 675.1,164.5 675.9,163.9 676.6,164.1 677.3,164.4 678.0,164.1 678.7,163.1 679.5,164.1 680.2,164.0 680.9,164.3 681.6,164.0 682.4,164.6 683.1,164.1 683.8,163.0 684.5,163.5 685.3,163.7" fill="none" stroke="#000000" stroke-width="1.5" stroke-linejoin="round"/>
</g>
<rect x="505.00" y="18.50" width="178.60" height="171.80" fill="none" stroke="#000" stroke-width="0.65"/>
<line x1="502.50" y1="183.50" x2="505.00" y2="183.50" stroke="#000" stroke-width="0.8"/>
<text x="500.10" y="187.29" font-size="9.35" text-anchor="end" textLength="20.64" lengthAdjust="spacingAndGlyphs">−0.2</text>
<line x1="502.50" y1="157.50" x2="505.00" y2="157.50" stroke="#000" stroke-width="0.8"/>
<text x="500.10" y="160.85" font-size="9.35" text-anchor="end" textLength="13.52" lengthAdjust="spacingAndGlyphs">0.0</text>
<line x1="502.50" y1="130.50" x2="505.00" y2="130.50" stroke="#000" stroke-width="0.8"/>
<text x="500.10" y="134.41" font-size="9.35" text-anchor="end" textLength="13.52" lengthAdjust="spacingAndGlyphs">0.2</text>
<line x1="502.50" y1="104.50" x2="505.00" y2="104.50" stroke="#000" stroke-width="0.8"/>
<text x="500.10" y="107.97" font-size="9.35" text-anchor="end" textLength="13.52" lengthAdjust="spacingAndGlyphs">0.4</text>
<line x1="502.50" y1="77.50" x2="505.00" y2="77.50" stroke="#000" stroke-width="0.8"/>
<text x="500.10" y="81.53" font-size="9.35" text-anchor="end" textLength="13.52" lengthAdjust="spacingAndGlyphs">0.6</text>
<line x1="502.50" y1="51.50" x2="505.00" y2="51.50" stroke="#000" stroke-width="0.8"/>
<text x="500.10" y="55.09" font-size="9.35" text-anchor="end" textLength="13.52" lengthAdjust="spacingAndGlyphs">0.8</text>
<line x1="502.50" y1="25.50" x2="505.00" y2="25.50" stroke="#000" stroke-width="0.8"/>
<text x="500.10" y="28.65" font-size="9.35" text-anchor="end" textLength="13.52" lengthAdjust="spacingAndGlyphs">1.0</text>
<line x1="510.50" y1="190.30" x2="510.50" y2="192.80" stroke="#000" stroke-width="0.8"/>
<text x="510.90" y="201.70" font-size="9.35" text-anchor="middle" textLength="13.52" lengthAdjust="spacingAndGlyphs">0.0</text>
<line x1="559.50" y1="190.30" x2="559.50" y2="192.80" stroke="#000" stroke-width="0.8"/>
<text x="559.33" y="201.70" font-size="9.35" text-anchor="middle" textLength="13.52" lengthAdjust="spacingAndGlyphs">0.2</text>
<line x1="607.50" y1="190.30" x2="607.50" y2="192.80" stroke="#000" stroke-width="0.8"/>
<text x="607.77" y="201.70" font-size="9.35" text-anchor="middle" textLength="13.52" lengthAdjust="spacingAndGlyphs">0.4</text>
<line x1="656.50" y1="190.30" x2="656.50" y2="192.80" stroke="#000" stroke-width="0.8"/>
<text x="656.20" y="201.70" font-size="9.35" text-anchor="middle" textLength="13.52" lengthAdjust="spacingAndGlyphs">0.6</text>
<text x="475.30" y="104.70" font-size="12.10" text-anchor="middle" transform="rotate(-90 475.30 104.70)" textLength="155.71" lengthAdjust="spacingAndGlyphs">Uncertainty auto-correlation</text>
<text x="594.30" y="214.80" font-size="12.10" text-anchor="middle" textLength="77.92" lengthAdjust="spacingAndGlyphs">Lag time in ns</text>
<text x="487.50" y="9.10" font-size="11.55" font-weight="bold" textLength="15.82" lengthAdjust="spacingAndGlyphs">(c)</text>
<rect x="577.8" y="30.7" width="93.0" height="90.5" fill="#fff"/>
<clipPath id="c577_30"><rect x="577.80" y="30.70" width="93.00" height="90.50"/></clipPath>
<g clip-path="url(#c577_30)">
<polygon points="581.6,33.5 581.9,39.6 582.3,45.6 582.6,51.7 582.9,57.8 583.2,63.8 583.6,69.9 583.9,75.9 584.2,82.0 584.5,85.9 584.9,89.0 585.2,92.2 586.1,93.3 587.9,95.7 589.7,96.9 591.5,97.2 593.3,97.5 595.1,97.8 596.9,98.1 598.8,98.4 600.6,98.6 602.4,98.9 604.2,99.2 606.0,99.5 607.8,99.8 609.6,100.1 611.4,100.4 613.2,100.7 615.1,100.9 616.9,101.2 618.7,101.4 620.5,101.5 622.3,101.6 624.1,101.8 625.9,101.9 627.7,102.0 629.5,102.1 631.4,102.2 633.2,102.3 635.0,102.4 636.8,102.6 638.6,102.7 640.4,102.8 642.2,102.9 644.0,103.0 645.8,103.1 647.6,103.3 649.5,103.4 651.3,103.5 653.1,103.6 654.9,103.7 656.7,103.9 658.5,104.0 660.3,104.2 662.1,104.3 663.9,104.5 665.8,104.6 667.6,104.7 669.4,104.9 671.2,105.0 673.0,105.2 674.8,105.3 674.8,108.7 673.0,108.6 671.2,108.5 669.4,108.3 667.6,108.2 665.8,108.0 663.9,107.9 662.1,107.7 660.3,107.6 658.5,107.4 656.7,107.3 654.9,107.2 653.1,107.0 651.3,106.9 649.5,106.8 647.6,106.7 645.8,106.6 644.0,106.4 642.2,106.3 640.4,106.2 638.6,106.1 636.8,106.0 635.0,105.9 633.2,105.7 631.4,105.6 629.5,105.5 627.7,105.4 625.9,105.3 624.1,105.2 622.3,105.1 620.5,104.9 618.7,104.8 616.9,104.7 615.1,104.4 613.2,104.1 611.4,103.8 609.6,103.5 607.8,103.2 606.0,102.9 604.2,102.6 602.4,102.4 600.6,102.1 598.8,101.8 596.9,101.5 595.1,101.2 593.3,100.9 591.5,100.6 589.7,100.3 587.9,99.1 586.1,96.8 585.2,95.6 584.9,92.2 584.5,88.7 584.2,84.5 583.9,78.1 583.6,71.7 583.2,65.4 582.9,59.0 582.6,52.6 582.3,46.2 581.9,39.9 581.6,33.5" fill="#1f77b4" fill-opacity="0.2" stroke="none"/>
<polygon points="581.6,33.5 581.9,39.4 582.3,45.3 582.6,51.2 582.9,57.1 583.2,63.0 583.6,68.9 583.9,74.9 584.2,80.8 584.5,84.0 584.9,86.4 585.2,88.8 586.1,89.2 587.9,90.1 589.7,90.8 591.5,91.4 593.3,91.9 595.1,92.5 596.9,93.1 598.8,93.7 600.6,94.3 602.4,94.8 604.2,95.3 606.0,95.7 607.8,96.2 609.6,96.6 611.4,97.0 613.2,97.5 615.1,97.9 616.9,98.3 618.7,98.7 620.5,99.1 622.3,99.4 624.1,99.8 625.9,100.1 627.7,100.4 629.5,100.8 631.4,101.1 633.2,101.5 635.0,101.8 636.8,102.2 638.6,102.5 640.4,102.9 642.2,103.2 644.0,103.6 645.8,103.9 647.6,104.2 649.5,104.6 651.3,104.9 653.1,105.3 654.9,105.5 656.7,105.7 658.5,105.9 660.3,106.1 662.1,106.3 663.9,106.4 665.8,106.6 667.6,106.8 669.4,107.0 671.2,107.2 673.0,107.4 674.8,107.6 674.8,114.4 673.0,114.2 671.2,114.1 669.4,113.9 667.6,113.7 665.8,113.5 663.9,113.3 662.1,113.1 660.3,112.9 658.5,112.7 656.7,112.5 654.9,112.3 653.1,112.1 651.3,111.8 649.5,111.4 647.6,111.1 645.8,110.7 644.0,110.4 642.2,110.0 640.4,109.7 638.6,109.4 636.8,109.0 635.0,108.7 633.2,108.3 631.4,108.0 629.5,107.6 627.7,107.3 625.9,106.9 624.1,106.6 622.3,106.2 620.5,105.9 618.7,105.6 616.9,105.2 615.1,104.7 613.2,104.3 611.4,103.9 609.6,103.5 607.8,103.0 606.0,102.6 604.2,102.2 602.4,101.7 600.6,101.1 598.8,100.5 596.9,99.9 595.1,99.4 593.3,98.8 591.5,98.2 589.7,97.6 587.9,96.9 586.1,96.1 585.2,95.6 584.9,92.6 584.5,89.6 584.2,85.7 583.9,79.2 583.6,72.7 583.2,66.1 582.9,59.6 582.6,53.1 582.3,46.6 581.9,40.0 581.6,33.5" fill="#ff7f0e" fill-opacity="0.2" stroke="none"/>
<polygon points="581.6,33.5 581.9,39.4 582.3,45.3 582.6,51.2 582.9,57.1 583.2,63.0 583.6,68.9 583.9,74.9 584.2,80.8 584.5,84.8 584.9,88.2 585.2,91.6 586.1,92.8 587.9,95.1 589.7,96.9 591.5,98.4 593.3,99.8 595.1,101.3 596.9,102.4 598.8,103.2 600.6,104.1 602.4,105.0 604.2,105.6 606.0,106.0 607.8,106.4 609.6,106.9 611.4,107.3 613.2,107.7 615.1,108.2 616.9,108.6 618.7,108.9 620.5,109.1 622.3,109.4 624.1,109.6 625.9,109.8 627.7,110.0 629.5,110.3 631.4,110.5 633.2,110.7 635.0,111.0 636.8,111.2 638.6,111.3 640.4,111.5 642.2,111.7 644.0,111.8 645.8,112.0 647.6,112.2 649.5,112.4 651.3,112.5 653.1,112.7 654.9,112.9 656.7,113.0 658.5,113.1 660.3,113.3 662.1,113.4 663.9,113.6 665.8,113.7 667.6,113.9 669.4,114.0 671.2,114.2 673.0,114.3 674.8,114.4 674.8,121.3 673.0,121.1 671.2,121.0 669.4,120.8 667.6,120.7 665.8,120.6 663.9,120.4 662.1,120.3 660.3,120.1 658.5,120.0 656.7,119.8 654.9,119.7 653.1,119.5 651.3,119.4 649.5,119.2 647.6,119.0 645.8,118.9 644.0,118.7 642.2,118.5 640.4,118.3 638.6,118.2 636.8,118.0 635.0,117.8 633.2,117.6 631.4,117.3 629.5,117.1 627.7,116.9 625.9,116.7 624.1,116.4 622.3,116.2 620.5,116.0 618.7,115.7 616.9,115.4 615.1,115.0 613.2,114.6 611.4,114.1 609.6,113.7 607.8,113.3 606.0,112.8 604.2,112.4 602.4,111.8 600.6,110.9 598.8,110.1 596.9,109.2 595.1,108.1 593.3,106.7 591.5,105.2 589.7,103.8 587.9,101.9 586.1,99.6 585.2,98.5 584.9,94.4 584.5,90.4 584.2,85.7 583.9,79.2 583.6,72.7 583.2,66.1 582.9,59.6 582.6,53.1 582.3,46.6 581.9,40.0 581.6,33.5" fill="#000000" fill-opacity="0.2" stroke="none"/>
<polyline points="581.6,33.5 581.9,39.7 582.3,45.9 582.6,52.2 582.9,58.4 583.2,64.6 583.6,70.8 583.9,77.0 584.2,83.2 584.5,87.3 584.9,90.6 585.2,93.9 586.1,95.1 587.9,97.4 589.7,98.6 591.5,98.9 593.3,99.2 595.1,99.5 596.9,99.8 598.8,100.1 600.6,100.4 602.4,100.6 604.2,100.9 606.0,101.2 607.8,101.5 609.6,101.8 611.4,102.1 613.2,102.4 615.1,102.7 616.9,102.9 618.7,103.1 620.5,103.2 622.3,103.3 624.1,103.5 625.9,103.6 627.7,103.7 629.5,103.8 631.4,103.9 633.2,104.0 635.0,104.2 636.8,104.3 638.6,104.4 640.4,104.5 642.2,104.6 644.0,104.7 645.8,104.8 647.6,105.0 649.5,105.1 651.3,105.2 653.1,105.3 654.9,105.4 656.7,105.6 658.5,105.7 660.3,105.9 662.1,106.0 663.9,106.2 665.8,106.3 667.6,106.5 669.4,106.6 671.2,106.7 673.0,106.9 674.8,107.0" fill="none" stroke="#1f77b4" stroke-width="1.3" stroke-linejoin="round"/>
<polyline points="581.6,33.5 581.9,39.7 582.3,45.9 582.6,52.2 582.9,58.4 583.2,64.6 583.6,70.8 583.9,77.0 584.2,83.2 584.5,86.8 584.9,89.5 585.2,92.2 586.1,92.6 587.9,93.5 589.7,94.2 591.5,94.8 593.3,95.4 595.1,95.9 596.9,96.5 598.8,97.1 600.6,97.7 602.4,98.2 604.2,98.7 606.0,99.2 607.8,99.6 609.6,100.0 611.4,100.5 613.2,100.9 615.1,101.3 616.9,101.8 618.7,102.1 620.5,102.5 622.3,102.8 624.1,103.2 625.9,103.5 627.7,103.9 629.5,104.2 631.4,104.6 633.2,104.9 635.0,105.2 636.8,105.6 638.6,105.9 640.4,106.3 642.2,106.6 644.0,107.0 645.8,107.3 647.6,107.7 649.5,108.0 651.3,108.4 653.1,108.7 654.9,108.9 656.7,109.1 658.5,109.3 660.3,109.5 662.1,109.7 663.9,109.9 665.8,110.1 667.6,110.3 669.4,110.4 671.2,110.6 673.0,110.8 674.8,111.0" fill="none" stroke="#ffac5f" stroke-width="1.3" stroke-linejoin="round"/>
<polyline points="581.6,33.5 581.9,39.7 582.3,45.9 582.6,52.2 582.9,58.4 583.2,64.6 583.6,70.8 583.9,77.0 584.2,83.2 584.5,87.6 584.9,91.3 585.2,95.1 586.1,96.2 587.9,98.5 589.7,100.4 591.5,101.8 593.3,103.2 595.1,104.7 596.9,105.8 598.8,106.7 600.6,107.5 602.4,108.4 604.2,109.0 606.0,109.4 607.8,109.9 609.6,110.3 611.4,110.7 613.2,111.2 615.1,111.6 616.9,112.0 618.7,112.3 620.5,112.5 622.3,112.8 624.1,113.0 625.9,113.2 627.7,113.5 629.5,113.7 631.4,113.9 633.2,114.2 635.0,114.4 636.8,114.6 638.6,114.7 640.4,114.9 642.2,115.1 644.0,115.3 645.8,115.4 647.6,115.6 649.5,115.8 651.3,116.0 653.1,116.1 654.9,116.3 656.7,116.4 658.5,116.6 660.3,116.7 662.1,116.9 663.9,117.0 665.8,117.1 667.6,117.3 669.4,117.4 671.2,117.6 673.0,117.7 674.8,117.9" fill="none" stroke="#000000" stroke-width="1.3" stroke-linejoin="round"/>
</g>
<rect x="577.80" y="30.70" width="93.00" height="90.50" fill="none" stroke="#333" stroke-width="0.7"/>
<line x1="575.80" y1="101.50" x2="577.80" y2="101.50" stroke="#000" stroke-width="0.8"/>
<text x="574.30" y="104.50" font-size="6.49" text-anchor="end" textLength="9.38" lengthAdjust="spacingAndGlyphs">0.4</text>
<line x1="575.80" y1="79.50" x2="577.80" y2="79.50" stroke="#000" stroke-width="0.8"/>
<text x="574.30" y="81.70" font-size="6.49" text-anchor="end" textLength="9.38" lengthAdjust="spacingAndGlyphs">0.6</text>
<line x1="575.80" y1="56.50" x2="577.80" y2="56.50" stroke="#000" stroke-width="0.8"/>
<text x="574.30" y="58.90" font-size="6.49" text-anchor="end" textLength="9.38" lengthAdjust="spacingAndGlyphs">0.8</text>
<line x1="575.80" y1="33.50" x2="577.80" y2="33.50" stroke="#000" stroke-width="0.8"/>
<text x="574.30" y="36.10" font-size="6.49" text-anchor="end" textLength="9.38" lengthAdjust="spacingAndGlyphs">1.0</text>
<line x1="581.50" y1="121.20" x2="581.50" y2="123.20" stroke="#000" stroke-width="0.8"/>
<text x="581.60" y="130.30" font-size="6.49" text-anchor="middle" textLength="16.89" lengthAdjust="spacingAndGlyphs">0.000</text>
<line x1="617.50" y1="121.20" x2="617.50" y2="123.20" stroke="#000" stroke-width="0.8"/>
<text x="617.45" y="130.30" font-size="6.49" text-anchor="middle" textLength="16.89" lengthAdjust="spacingAndGlyphs">0.002</text>
<line x1="653.50" y1="121.20" x2="653.50" y2="123.20" stroke="#000" stroke-width="0.8"/>
<text x="653.30" y="130.30" font-size="6.49" text-anchor="middle" textLength="16.89" lengthAdjust="spacingAndGlyphs">0.004</text>
<rect x="106.70" y="226.75" width="7.8" height="6.6" fill="none" stroke="#1f77b4" stroke-width="1.25"/>
<line x1="117.60" y1="230.50" x2="127.10" y2="230.50" stroke="#1f77b4" stroke-width="1.5"/>
<rect x="258.60" y="226.75" width="7.8" height="6.6" fill="none" stroke="#ffac5f" stroke-width="1.25"/>
<line x1="269.50" y1="230.50" x2="279.00" y2="230.50" stroke="#ffac5f" stroke-width="1.5"/>
<rect x="423.80" y="226.75" width="7.8" height="6.6" fill="none" stroke="#000000" stroke-width="1.25"/>
<line x1="434.70" y1="230.50" x2="444.20" y2="230.50" stroke="#000000" stroke-width="1.5"/>
<text x="134.50" y="234.00" font-size="10.84" textLength="104.42" lengthAdjust="spacingAndGlyphs">unbiased MD (0 MPa)</text>
<text x="286.60" y="234.00" font-size="10.84" textLength="116.95" lengthAdjust="spacingAndGlyphs">unbiased MD (250 MPa)</text>
<text x="451.70" y="234.00" font-size="10.84" textLength="131.70" lengthAdjust="spacingAndGlyphs">biased MD (0 MPa, τ = 0.5)</text>
<text x="109.25" y="260.80" font-size="10.86" text-anchor="middle" textLength="51.11" lengthAdjust="spacingAndGlyphs">iteration 0</text>
<text x="279.35" y="260.80" font-size="10.86" text-anchor="middle" textLength="51.11" lengthAdjust="spacingAndGlyphs">iteration 5</text>
<text x="449.45" y="260.80" font-size="10.86" text-anchor="middle" textLength="57.39" lengthAdjust="spacingAndGlyphs">iteration 10</text>
<text x="619.55" y="260.80" font-size="10.86" text-anchor="middle" textLength="57.39" lengthAdjust="spacingAndGlyphs">iteration 15</text>
<text x="29.50" y="258.80" font-size="11.55" font-weight="bold" textLength="17.11" lengthAdjust="spacingAndGlyphs">(d)</text>
<clipPath id="c45_264"><rect x="45.00" y="264.50" width="128.50" height="87.00"/></clipPath>
<g clip-path="url(#c45_264)">
<path d="M50.5 274.2h0M51.9 284.2h0M52.7 292.4h0M53.7 297.3h0M57.8 301.6h0M58.2 307.8h0M54.5 312.5h0M55.6 316.4h0M59.5 315.9h0M61.4 319.7h0M56.6 325.2h0M60.9 324.4h0M57.6 329.4h0M58.5 332.4h0M62.2 330.7h0M63.5 332.7h0M64.8 334.4h0M65.5 338.4h0M66.1 340.6h0M66.8 342.6h0M68.1 341.9h0M68.8 343.9h0M70.1 344.6h0M71.4 345.2h0M70.8 342.6h0M72.7 343.3h0M73.4 341.3h0M74.7 339.9h0M75.4 342.6h0M76.7 339.9h0M78.0 338.6h0M78.7 342.6h0M80.0 341.3h0M80.7 342.9h0M82.0 347.6h0M83.3 339.3h0M84.0 336.0h0M84.6 335.3h0M86.0 334.0h0M87.0 337.3h0M87.5 334.7h0M88.6 333.3h0M89.9 332.0h0M90.6 330.7h0M91.2 329.4h0M91.9 332.7h0M92.6 328.1h0M93.6 324.4h0M94.5 323.4h0M95.2 326.7h0M95.9 322.8h0M96.5 322.1h0M97.8 322.1h0M98.5 318.8h0M99.2 316.8h0M99.8 317.5h0M100.5 316.2h0M101.2 318.2h0M101.8 315.5h0M103.1 314.8h0M103.8 314.2h0M104.5 311.5h0M105.1 309.6h0M105.8 305.6h0M106.4 312.2h0M107.1 310.9h0M108.2 306.9h0M109.1 304.3h0M109.7 305.6h0M105.7 314.2h0M106.3 310.9h0M107.0 306.9h0M108.3 305.6h0M109.6 304.3h0M110.9 306.9h0M112.3 301.6h0M112.9 299.0h0M114.2 302.3h0M114.9 297.7h0M115.6 294.4h0M116.6 293.0h0M117.5 290.4h0M118.2 295.0h0M118.9 291.7h0M119.5 289.7h0M120.8 292.4h0M121.5 290.4h0M122.2 293.7h0M122.8 291.7h0M123.5 289.7h0M124.2 288.4h0M124.8 283.8h0M125.5 285.8h0M126.1 287.1h0M126.8 284.5h0M128.1 283.1h0M128.8 281.8h0M129.4 289.7h0M130.1 285.1h0M130.8 281.8h0M132.1 280.5h0M132.7 279.2h0M133.4 281.2h0M134.7 281.8h0M136.0 276.5h0M136.7 284.5h0M137.4 275.2h0M138.0 277.8h0M138.7 276.5h0M139.3 274.5h0M140.0 279.2h0M140.7 281.2h0M141.3 277.2h0M142.0 275.2h0M142.6 273.9h0M143.3 275.2h0M144.0 273.2h0M144.6 278.5h0M145.3 275.9h0M145.9 274.5h0M147.3 269.9h0M147.9 272.6h0M148.6 271.2h0M149.9 273.2h0M150.6 276.5h0M151.2 272.6h0M151.9 275.2h0M152.5 271.2h0M153.6 267.9h0M154.5 269.9h0M155.2 273.9h0M155.9 278.5h0M156.5 275.2h0M157.2 271.9h0M157.8 271.2h0M159.2 275.2h0M159.8 273.2h0M160.5 271.9h0M161.8 273.9h0M162.5 272.6h0M163.1 270.6h0M163.8 275.2h0M165.1 271.2h0M165.8 269.9h0M166.4 272.6h0M167.1 275.2h0M167.7 275.9h0" stroke="#1f77b4" stroke-width="4.00" stroke-linecap="round" fill="none"/>
<path d="M50.5 274.8h0M51.9 284.8h0M52.7 293.0h0M53.7 297.9h0M57.8 302.2h0M58.2 308.4h0M54.5 313.1h0M55.6 317.0h0M59.5 316.5h0M61.4 320.3h0M56.6 325.8h0M60.9 325.0h0M57.6 330.0h0M58.5 333.0h0M62.2 331.3h0M63.5 333.3h0M64.8 335.0h0M65.5 339.0h0M66.1 341.2h0M66.8 343.2h0M68.1 342.5h0M68.8 344.5h0M70.1 345.2h0M71.4 345.8h0M70.8 343.2h0M72.7 343.9h0M73.4 341.9h0M74.7 340.5h0M75.4 343.2h0M76.7 340.5h0M78.0 339.2h0M78.7 343.2h0M80.0 341.9h0M80.7 343.5h0M82.0 348.2h0M83.3 339.9h0M84.0 336.6h0M84.6 335.9h0M86.0 334.6h0M87.0 337.9h0M87.5 335.3h0M88.6 333.9h0M89.9 332.6h0M90.6 331.3h0M91.2 330.0h0M91.9 333.3h0M92.6 328.7h0M93.6 325.0h0M94.5 324.0h0M95.2 327.3h0M95.9 323.4h0M96.5 322.7h0M97.8 322.7h0M98.5 319.4h0M99.2 317.4h0M99.8 318.1h0M100.5 316.8h0M101.2 318.8h0M101.8 316.1h0M103.1 315.4h0M103.8 314.8h0M104.5 312.1h0M105.1 310.2h0M105.8 306.2h0M106.4 312.8h0M107.1 311.5h0M108.2 307.5h0M109.1 304.9h0M109.7 306.2h0M105.7 314.8h0M106.3 311.5h0M107.0 307.5h0M108.3 306.2h0M109.6 304.9h0M110.9 307.5h0M112.3 302.2h0M112.9 299.6h0M114.2 302.9h0M114.9 298.3h0M115.6 295.0h0M116.6 293.6h0M117.5 291.0h0M118.2 295.6h0M118.9 292.3h0M119.5 290.3h0M120.8 293.0h0M121.5 291.0h0M122.2 294.3h0M122.8 292.3h0M123.5 290.3h0M124.2 289.0h0M124.8 284.4h0M125.5 286.4h0M126.1 287.7h0M126.8 285.1h0M128.1 283.7h0M128.8 282.4h0M129.4 290.3h0M130.1 285.7h0M130.8 282.4h0M132.1 281.1h0M132.7 279.8h0M133.4 281.8h0M134.7 282.4h0M136.0 277.1h0M136.7 285.1h0M137.4 275.8h0M138.0 278.4h0M138.7 277.1h0M139.3 275.1h0M140.0 279.8h0M140.7 281.8h0M141.3 277.8h0M142.0 275.8h0M142.6 274.5h0M143.3 275.8h0M144.0 273.8h0M144.6 279.1h0M145.3 276.5h0M145.9 275.1h0M147.3 270.5h0M147.9 273.2h0M148.6 271.8h0M149.9 273.8h0M150.6 277.1h0M151.2 273.2h0M151.9 275.8h0M152.5 271.8h0M153.6 268.5h0M154.5 270.5h0M155.2 274.5h0M155.9 279.1h0M156.5 275.8h0M157.2 272.5h0M157.8 271.8h0M159.2 275.8h0M159.8 273.8h0M160.5 272.5h0M161.8 274.5h0M162.5 273.2h0M163.1 271.2h0M163.8 275.8h0M165.1 271.8h0M165.8 270.5h0M166.4 273.2h0M167.1 275.8h0M167.7 276.5h0" stroke="#ffac5f" stroke-width="4.00" stroke-linecap="round" fill="none"/>
<path d="M50.5 274.2h0M51.9 284.2h0M52.7 292.4h0M53.7 297.3h0M57.8 301.6h0M58.2 307.8h0M54.5 312.5h0M55.6 316.4h0M59.5 315.9h0M61.4 319.7h0M56.6 325.2h0M60.9 324.4h0M57.6 329.4h0M58.5 332.4h0M62.2 330.7h0M63.5 332.7h0M64.8 334.4h0M65.5 338.4h0M66.1 340.6h0M66.8 342.6h0M68.1 341.9h0M68.8 343.9h0M70.1 344.6h0M71.4 345.2h0M70.8 342.6h0M72.7 343.3h0M73.4 341.3h0M74.7 339.9h0M75.4 342.6h0M76.7 339.9h0M78.0 338.6h0M78.7 342.6h0M80.0 341.3h0M80.7 342.9h0M82.0 347.6h0M83.3 339.3h0M84.0 336.0h0M84.6 335.3h0M86.0 334.0h0M87.0 337.3h0M87.5 334.7h0M88.6 333.3h0M89.9 332.0h0M90.6 330.7h0M91.2 329.4h0M91.9 332.7h0M92.6 328.1h0M93.6 324.4h0M94.5 323.4h0M95.2 326.7h0M95.9 322.8h0M96.5 322.1h0M97.8 322.1h0M98.5 318.8h0M99.2 316.8h0M99.8 317.5h0M100.5 316.2h0M101.2 318.2h0M101.8 315.5h0M103.1 314.8h0M103.8 314.2h0M104.5 311.5h0M105.1 309.6h0M105.8 305.6h0M106.4 312.2h0M107.1 310.9h0M108.2 306.9h0M109.1 304.3h0M109.7 305.6h0M105.7 314.2h0M106.3 310.9h0M107.0 306.9h0M108.3 305.6h0M109.6 304.3h0M110.9 306.9h0M112.3 301.6h0M112.9 299.0h0M114.2 302.3h0M114.9 297.7h0M115.6 294.4h0M116.6 293.0h0M117.5 290.4h0M118.2 295.0h0M118.9 291.7h0M119.5 289.7h0M120.8 292.4h0M121.5 290.4h0M122.2 293.7h0M122.8 291.7h0M123.5 289.7h0M124.2 288.4h0M124.8 283.8h0M125.5 285.8h0M126.1 287.1h0M126.8 284.5h0M128.1 283.1h0M128.8 281.8h0M129.4 289.7h0M130.1 285.1h0M130.8 281.8h0M132.1 280.5h0M132.7 279.2h0M133.4 281.2h0M134.7 281.8h0M136.0 276.5h0M136.7 284.5h0M137.4 275.2h0M138.0 277.8h0M138.7 276.5h0M139.3 274.5h0M140.0 279.2h0M140.7 281.2h0M141.3 277.2h0M142.0 275.2h0M142.6 273.9h0M143.3 275.2h0M144.0 273.2h0M144.6 278.5h0M145.3 275.9h0M145.9 274.5h0M147.3 269.9h0M147.9 272.6h0M148.6 271.2h0M149.9 273.2h0M150.6 276.5h0M151.2 272.6h0M151.9 275.2h0M152.5 271.2h0M153.6 267.9h0M154.5 269.9h0M155.2 273.9h0M155.9 278.5h0M156.5 275.2h0M157.2 271.9h0M157.8 271.2h0M159.2 275.2h0M159.8 273.2h0M160.5 271.9h0M161.8 273.9h0M162.5 272.6h0M163.1 270.6h0M163.8 275.2h0M165.1 271.2h0M165.8 269.9h0M166.4 272.6h0M167.1 275.2h0M167.7 275.9h0" stroke="#000000" stroke-width="4.00" stroke-linecap="round" fill="none"/>
</g>
<rect x="45.00" y="264.50" width="128.50" height="87.00" fill="none" stroke="#000" stroke-width="0.65"/>
<line x1="42.50" y1="335.50" x2="45.00" y2="335.50" stroke="#000" stroke-width="0.8"/>
<text x="40.20" y="339.25" font-size="9.35" text-anchor="end" textLength="24.33" lengthAdjust="spacingAndGlyphs">20.00</text>
<line x1="42.50" y1="315.50" x2="45.00" y2="315.50" stroke="#000" stroke-width="0.8"/>
<text x="40.20" y="319.09" font-size="9.35" text-anchor="end" textLength="24.33" lengthAdjust="spacingAndGlyphs">40.00</text>
<line x1="42.50" y1="295.50" x2="45.00" y2="295.50" stroke="#000" stroke-width="0.8"/>
<text x="40.20" y="298.92" font-size="9.35" text-anchor="end" textLength="24.33" lengthAdjust="spacingAndGlyphs">60.00</text>
<line x1="42.50" y1="275.50" x2="45.00" y2="275.50" stroke="#000" stroke-width="0.8"/>
<text x="40.20" y="278.75" font-size="9.35" text-anchor="end" textLength="24.33" lengthAdjust="spacingAndGlyphs">80.00</text>
<line x1="88.50" y1="351.50" x2="88.50" y2="354.00" stroke="#000" stroke-width="0.8"/>
<line x1="151.50" y1="351.50" x2="151.50" y2="354.00" stroke="#000" stroke-width="0.8"/>
<clipPath id="c45_364"><rect x="45.00" y="364.00" width="128.50" height="87.00"/></clipPath>
<g clip-path="url(#c45_364)">
<path d="M50.8 367.8h0M51.7 378.5h0M52.5 384.6h0M53.4 387.8h0M57.9 384.6h0M58.3 391.5h0M54.7 402.3h0M59.9 401.4h0M60.8 407.9h0M61.5 409.6h0M55.6 412.4h0M56.6 418.6h0M57.4 422.7h0M58.6 430.5h0M62.1 421.7h0M63.4 423.8h0M64.6 426.0h0M65.4 433.1h0M65.0 436.3h0M66.3 439.3h0M67.2 441.5h0M68.3 443.4h0M69.3 442.1h0M70.2 445.7h0M70.8 447.3h0M71.5 444.1h0M72.1 435.0h0M72.8 440.8h0M73.7 433.7h0M74.5 437.6h0M75.4 439.5h0M76.0 442.1h0M76.7 437.2h0M77.3 444.7h0M78.0 433.7h0M78.9 442.8h0M79.9 444.7h0M80.5 440.8h0M81.4 443.4h0M82.2 439.5h0M82.7 436.3h0M83.5 433.7h0M84.4 437.0h0M85.1 438.9h0M86.1 435.0h0M87.0 433.1h0M87.9 436.3h0M88.9 434.4h0M90.0 432.4h0M90.9 430.5h0M91.8 431.8h0M92.8 430.2h0M93.8 430.5h0M94.8 435.7h0M95.7 425.3h0M96.7 422.1h0M98.0 423.4h0M99.3 421.4h0M98.6 426.6h0M100.3 427.3h0M101.2 429.2h0M101.9 427.9h0M102.9 428.6h0M103.8 426.0h0M104.7 422.1h0M105.7 420.8h0M106.8 427.3h0M108.3 428.6h0M109.0 421.4h0M106.4 427.3h0M107.3 420.8h0M107.6 429.2h0M108.9 426.0h0M109.8 426.1h0M111.0 428.3h0M112.4 426.7h0M112.9 422.7h0M114.3 424.5h0M114.7 428.7h0M116.1 421.3h0M116.7 422.8h0M117.8 428.8h0M118.8 424.6h0M120.1 421.0h0M121.3 424.8h0M121.8 429.7h0M123.1 421.2h0M124.4 420.4h0M125.2 424.0h0M126.3 431.7h0M127.6 423.1h0M128.8 429.2h0M129.1 423.0h0M130.0 424.5h0M131.8 423.8h0M132.4 430.9h0M133.9 422.3h0M134.7 419.6h0M135.1 425.6h0M136.6 423.2h0M137.2 422.3h0M138.9 427.9h0M140.0 423.2h0M140.5 430.3h0M141.7 423.3h0M142.6 420.5h0M143.9 421.9h0M144.6 425.8h0M145.4 430.8h0M146.6 431.3h0M148.0 425.3h0M148.2 419.8h0M150.0 424.3h0M150.3 422.4h0M151.5 431.3h0M153.1 421.6h0M153.4 426.4h0M155.0 426.8h0M156.2 431.2h0M156.9 430.6h0M157.6 429.0h0M158.6 422.7h0M159.6 422.2h0M160.4 426.9h0M162.3 422.4h0M163.3 424.5h0M163.6 419.7h0M164.9 428.6h0M165.9 430.1h0M167.4 426.9h0M167.9 425.7h0" stroke="#1f77b4" stroke-width="4.00" stroke-linecap="round" fill="none"/>
<path d="M50.8 368.4h0M51.7 379.1h0M52.5 385.2h0M53.4 388.4h0M57.9 385.2h0M58.3 392.1h0M54.7 402.9h0M59.9 402.0h0M60.8 408.5h0M61.5 410.2h0M55.6 413.0h0M56.6 419.2h0M57.4 423.3h0M58.6 431.1h0M62.1 422.3h0M63.4 424.4h0M64.6 426.6h0M65.4 433.7h0M65.0 436.9h0M66.3 439.9h0M67.2 442.1h0M68.3 444.0h0M69.3 442.7h0M70.2 446.3h0M70.8 447.9h0M71.5 444.7h0M72.1 435.6h0M72.8 441.4h0M73.7 434.3h0M74.5 438.2h0M75.4 440.1h0M76.0 442.7h0M76.7 437.8h0M77.3 445.3h0M78.0 434.3h0M78.9 443.4h0M79.9 445.3h0M80.5 441.4h0M81.4 444.0h0M82.2 440.1h0M82.7 436.9h0M83.5 434.3h0M84.4 437.6h0M85.1 439.5h0M86.1 435.6h0M87.0 433.7h0M87.9 436.9h0M88.9 435.0h0M90.0 433.0h0M90.9 431.1h0M91.8 432.4h0M92.8 430.8h0M93.8 431.1h0M94.8 436.3h0M95.7 425.9h0M96.7 422.7h0M98.0 424.0h0M99.3 422.0h0M98.6 427.2h0M100.3 427.9h0M101.2 429.8h0M101.9 428.5h0M102.9 429.2h0M103.8 426.6h0M104.7 422.7h0M105.7 421.4h0M106.8 427.9h0M108.3 429.2h0M109.0 422.0h0M106.4 427.9h0M107.3 421.4h0M107.6 429.8h0M108.9 426.6h0M109.8 426.7h0M111.0 428.9h0M112.4 427.3h0M112.9 423.3h0M114.3 425.1h0M114.7 429.3h0M116.1 421.9h0M116.7 423.4h0M117.8 429.4h0M118.8 425.2h0M120.1 421.6h0M121.3 425.4h0M121.8 430.3h0M123.1 421.8h0M124.4 421.0h0M125.2 424.6h0M126.3 432.3h0M127.6 423.7h0M128.8 429.8h0M129.1 423.6h0M130.0 425.1h0M131.8 424.4h0M132.4 431.5h0M133.9 422.9h0M134.7 420.2h0M135.1 426.2h0M136.6 423.8h0M137.2 422.9h0M138.9 428.5h0M140.0 423.8h0M140.5 430.9h0M141.7 423.9h0M142.6 421.1h0M143.9 422.5h0M144.6 426.4h0M145.4 431.4h0M146.6 431.9h0M148.0 425.9h0M148.2 420.4h0M150.0 424.9h0M150.3 423.0h0M151.5 431.9h0M153.1 422.2h0M153.4 427.0h0M155.0 427.4h0M156.2 431.8h0M156.9 431.2h0M157.6 429.6h0M158.6 423.3h0M159.6 422.8h0M160.4 427.5h0M162.3 423.0h0M163.3 425.1h0M163.6 420.3h0M164.9 429.2h0M165.9 430.7h0M167.4 427.5h0M167.9 426.3h0" stroke="#ffac5f" stroke-width="4.00" stroke-linecap="round" fill="none"/>
<path d="M50.8 367.8h0M51.7 378.5h0M52.5 384.6h0M53.4 387.8h0M57.9 384.6h0M58.3 391.5h0M54.7 402.3h0M59.9 401.4h0M60.8 407.9h0M61.5 409.6h0M55.6 412.4h0M56.6 418.6h0M57.4 422.7h0M58.6 430.5h0M62.1 421.7h0M63.4 423.8h0M64.6 426.0h0M65.4 433.1h0M65.0 436.3h0M66.3 439.3h0M67.2 441.5h0M68.3 443.4h0M69.3 442.1h0M70.2 445.7h0M70.8 447.3h0M71.5 444.1h0M72.1 435.0h0M72.8 440.8h0M73.7 433.7h0M74.5 437.6h0M75.4 439.5h0M76.0 442.1h0M76.7 437.2h0M77.3 444.7h0M78.0 433.7h0M78.9 442.8h0M79.9 444.7h0M80.5 440.8h0M81.4 443.4h0M82.2 439.5h0M82.7 436.3h0M83.5 433.7h0M84.4 437.0h0M85.1 438.9h0M86.1 435.0h0M87.0 433.1h0M87.9 436.3h0M88.9 434.4h0M90.0 432.4h0M90.9 430.5h0M91.8 431.8h0M92.8 430.2h0M93.8 430.5h0M94.8 435.7h0M95.7 425.3h0M96.7 422.1h0M98.0 423.4h0M99.3 421.4h0M98.6 426.6h0M100.3 427.3h0M101.2 429.2h0M101.9 427.9h0M102.9 428.6h0M103.8 426.0h0M104.7 422.1h0M105.7 420.8h0M106.8 427.3h0M108.3 428.6h0M109.0 421.4h0M106.4 427.3h0M107.3 420.8h0M107.6 429.2h0M108.9 426.0h0M109.8 426.1h0M111.0 428.3h0M112.4 426.7h0M112.9 422.7h0M114.3 424.5h0M114.7 428.7h0M116.1 421.3h0M116.7 422.8h0M117.8 428.8h0M118.8 424.6h0M120.1 421.0h0M121.3 424.8h0M121.8 429.7h0M123.1 421.2h0M124.4 420.4h0M125.2 424.0h0M126.3 431.7h0M127.6 423.1h0M128.8 429.2h0M129.1 423.0h0M130.0 424.5h0M131.8 423.8h0M132.4 430.9h0M133.9 422.3h0M134.7 419.6h0M135.1 425.6h0M136.6 423.2h0M137.2 422.3h0M138.9 427.9h0M140.0 423.2h0M140.5 430.3h0M141.7 423.3h0M142.6 420.5h0M143.9 421.9h0M144.6 425.8h0M145.4 430.8h0M146.6 431.3h0M148.0 425.3h0M148.2 419.8h0M150.0 424.3h0M150.3 422.4h0M151.5 431.3h0M153.1 421.6h0M153.4 426.4h0M155.0 426.8h0M156.2 431.2h0M156.9 430.6h0M157.6 429.0h0M158.6 422.7h0M159.6 422.2h0M160.4 426.9h0M162.3 422.4h0M163.3 424.5h0M163.6 419.7h0M164.9 428.6h0M165.9 430.1h0M167.4 426.9h0M167.9 425.7h0" stroke="#000000" stroke-width="4.00" stroke-linecap="round" fill="none"/>
</g>
<rect x="45.00" y="364.00" width="128.50" height="87.00" fill="none" stroke="#000" stroke-width="0.65"/>
<line x1="42.50" y1="442.50" x2="45.00" y2="442.50" stroke="#000" stroke-width="0.8"/>
<text x="40.20" y="446.05" font-size="9.35" text-anchor="end" textLength="18.93" lengthAdjust="spacingAndGlyphs">0.40</text>
<line x1="42.50" y1="421.50" x2="45.00" y2="421.50" stroke="#000" stroke-width="0.8"/>
<text x="40.20" y="425.22" font-size="9.35" text-anchor="end" textLength="18.93" lengthAdjust="spacingAndGlyphs">0.50</text>
<line x1="42.50" y1="400.50" x2="45.00" y2="400.50" stroke="#000" stroke-width="0.8"/>
<text x="40.20" y="404.39" font-size="9.35" text-anchor="end" textLength="18.93" lengthAdjust="spacingAndGlyphs">0.60</text>
<line x1="42.50" y1="380.50" x2="45.00" y2="380.50" stroke="#000" stroke-width="0.8"/>
<text x="40.20" y="383.55" font-size="9.35" text-anchor="end" textLength="18.93" lengthAdjust="spacingAndGlyphs">0.70</text>
<line x1="88.50" y1="451.00" x2="88.50" y2="453.50" stroke="#000" stroke-width="0.8"/>
<line x1="151.50" y1="451.00" x2="151.50" y2="453.50" stroke="#000" stroke-width="0.8"/>
<clipPath id="c45_463"><rect x="45.00" y="463.50" width="128.50" height="87.00"/></clipPath>
<g clip-path="url(#c45_463)">
<path d="M50.4 467.4h0M51.7 478.2h0M52.5 485.3h0M53.5 492.6h0M54.3 504.0h0M58.2 504.9h0M55.3 511.8h0M58.6 515.2h0M56.4 518.6h0M57.3 524.3h0M61.2 522.7h0M60.5 523.4h0M58.2 528.2h0M60.2 528.6h0M62.4 533.7h0M63.7 535.7h0M65.0 540.2h0M66.3 541.9h0M67.6 542.8h0M68.3 544.7h0M69.3 543.4h0M70.2 541.5h0M71.5 542.8h0M72.1 540.2h0M73.4 540.8h0M74.7 539.5h0M76.0 540.2h0M77.3 541.5h0M78.6 542.8h0M79.9 542.1h0M81.2 544.1h0M82.5 544.7h0M83.1 540.2h0M84.4 540.8h0M85.7 540.6h0M87.0 540.2h0M88.3 539.5h0M89.6 540.2h0M90.9 539.3h0M92.2 539.8h0M93.5 538.9h0M94.8 539.5h0M96.0 538.9h0M97.3 537.6h0M98.6 538.9h0M99.9 539.3h0M101.2 540.2h0M102.5 539.3h0M103.8 539.8h0M105.1 538.9h0M106.4 540.2h0M107.7 539.5h0M109.0 540.8h0M110.4 537.6h0M110.9 537.9h0M112.4 538.9h0M113.8 538.2h0M114.3 540.7h0M116.2 539.5h0M116.8 539.2h0M118.3 539.4h0M119.7 540.8h0M120.2 539.0h0M122.3 540.4h0M123.3 539.5h0M124.3 542.4h0M124.9 539.5h0M126.4 540.2h0M127.6 541.3h0M129.4 540.6h0M129.6 539.6h0M131.2 541.8h0M132.9 540.0h0M133.5 541.7h0M135.2 542.0h0M136.5 542.7h0M136.8 543.5h0M138.9 541.3h0M139.7 542.4h0M141.2 543.5h0M142.3 543.7h0M143.1 543.2h0M144.8 541.6h0M145.5 541.5h0M146.8 541.6h0M147.7 541.7h0M149.0 541.5h0M150.7 542.8h0M151.5 544.1h0M153.0 544.1h0M153.4 544.5h0M155.0 543.6h0M156.6 542.4h0M157.8 542.5h0M158.9 543.9h0M159.9 543.8h0M160.9 545.3h0M162.4 542.8h0M163.3 544.4h0M164.7 544.5h0M165.1 545.1h0M166.4 546.3h0M167.7 546.3h0" stroke="#1f77b4" stroke-width="4.00" stroke-linecap="round" fill="none"/>
<path d="M50.4 468.0h0M51.7 478.8h0M52.5 485.9h0M53.5 493.2h0M54.3 504.6h0M58.2 505.5h0M55.3 512.4h0M58.6 515.8h0M56.4 519.2h0M57.3 524.9h0M61.2 523.3h0M60.5 524.0h0M58.2 528.8h0M60.2 529.2h0M62.4 534.3h0M63.7 536.3h0M65.0 540.8h0M66.3 542.5h0M67.6 543.4h0M68.3 545.3h0M69.3 544.0h0M70.2 542.1h0M71.5 543.4h0M72.1 540.8h0M73.4 541.4h0M74.7 540.1h0M76.0 540.8h0M77.3 542.1h0M78.6 543.4h0M79.9 542.7h0M81.2 544.7h0M82.5 545.3h0M83.1 540.8h0M84.4 541.4h0M85.7 541.2h0M87.0 540.8h0M88.3 540.1h0M89.6 540.8h0M90.9 539.9h0M92.2 540.4h0M93.5 539.5h0M94.8 540.1h0M96.0 539.5h0M97.3 538.2h0M98.6 539.5h0M99.9 539.9h0M101.2 540.8h0M102.5 539.9h0M103.8 540.4h0M105.1 539.5h0M106.4 540.8h0M107.7 540.1h0M109.0 541.4h0M110.4 538.2h0M110.9 538.5h0M112.4 539.5h0M113.8 538.8h0M114.3 541.3h0M116.2 540.1h0M116.8 539.8h0M118.3 540.0h0M119.7 541.4h0M120.2 539.6h0M122.3 541.0h0M123.3 540.1h0M124.3 543.0h0M124.9 540.1h0M126.4 540.8h0M127.6 541.9h0M129.4 541.2h0M129.6 540.2h0M131.2 542.4h0M132.9 540.6h0M133.5 542.3h0M135.2 542.6h0M136.5 543.3h0M136.8 544.1h0M138.9 541.9h0M139.7 543.0h0M141.2 544.1h0M142.3 544.3h0M143.1 543.8h0M144.8 542.2h0M145.5 542.1h0M146.8 542.2h0M147.7 542.3h0M149.0 542.1h0M150.7 543.4h0M151.5 544.7h0M153.0 544.7h0M153.4 545.1h0M155.0 544.2h0M156.6 543.0h0M157.8 543.1h0M158.9 544.5h0M159.9 544.4h0M160.9 545.9h0M162.4 543.4h0M163.3 545.0h0M164.7 545.1h0M165.1 545.7h0M166.4 546.9h0M167.7 546.9h0" stroke="#ffac5f" stroke-width="4.00" stroke-linecap="round" fill="none"/>
<path d="M50.4 467.4h0M51.7 478.2h0M52.5 485.3h0M53.5 492.6h0M54.3 504.0h0M58.2 504.9h0M55.3 511.8h0M58.6 515.2h0M56.4 518.6h0M57.3 524.3h0M61.2 522.7h0M60.5 523.4h0M58.2 528.2h0M60.2 528.6h0M62.4 533.7h0M63.7 535.7h0M65.0 540.2h0M66.3 541.9h0M67.6 542.8h0M68.3 544.7h0M69.3 543.4h0M70.2 541.5h0M71.5 542.8h0M72.1 540.2h0M73.4 540.8h0M74.7 539.5h0M76.0 540.2h0M77.3 541.5h0M78.6 542.8h0M79.9 542.1h0M81.2 544.1h0M82.5 544.7h0M83.1 540.2h0M84.4 540.8h0M85.7 540.6h0M87.0 540.2h0M88.3 539.5h0M89.6 540.2h0M90.9 539.3h0M92.2 539.8h0M93.5 538.9h0M94.8 539.5h0M96.0 538.9h0M97.3 537.6h0M98.6 538.9h0M99.9 539.3h0M101.2 540.2h0M102.5 539.3h0M103.8 539.8h0M105.1 538.9h0M106.4 540.2h0M107.7 539.5h0M109.0 540.8h0M110.4 537.6h0M110.9 537.9h0M112.4 538.9h0M113.8 538.2h0M114.3 540.7h0M116.2 539.5h0M116.8 539.2h0M118.3 539.4h0M119.7 540.8h0M120.2 539.0h0M122.3 540.4h0M123.3 539.5h0M124.3 542.4h0M124.9 539.5h0M126.4 540.2h0M127.6 541.3h0M129.4 540.6h0M129.6 539.6h0M131.2 541.8h0M132.9 540.0h0M133.5 541.7h0M135.2 542.0h0M136.5 542.7h0M136.8 543.5h0M138.9 541.3h0M139.7 542.4h0M141.2 543.5h0M142.3 543.7h0M143.1 543.2h0M144.8 541.6h0M145.5 541.5h0M146.8 541.6h0M147.7 541.7h0M149.0 541.5h0M150.7 542.8h0M151.5 544.1h0M153.0 544.1h0M153.4 544.5h0M155.0 543.6h0M156.6 542.4h0M157.8 542.5h0M158.9 543.9h0M159.9 543.8h0M160.9 545.3h0M162.4 542.8h0M163.3 544.4h0M164.7 544.5h0M165.1 545.1h0M166.4 546.3h0M167.7 546.3h0" stroke="#000000" stroke-width="4.00" stroke-linecap="round" fill="none"/>
</g>
<rect x="45.00" y="463.50" width="128.50" height="87.00" fill="none" stroke="#000" stroke-width="0.65"/>
<line x1="42.50" y1="534.50" x2="45.00" y2="534.50" stroke="#000" stroke-width="0.8"/>
<text x="40.20" y="537.85" font-size="9.35" text-anchor="end" textLength="18.93" lengthAdjust="spacingAndGlyphs">2.00</text>
<line x1="42.50" y1="507.50" x2="45.00" y2="507.50" stroke="#000" stroke-width="0.8"/>
<text x="40.20" y="510.95" font-size="9.35" text-anchor="end" textLength="18.93" lengthAdjust="spacingAndGlyphs">4.00</text>
<line x1="42.50" y1="480.50" x2="45.00" y2="480.50" stroke="#000" stroke-width="0.8"/>
<text x="40.20" y="484.05" font-size="9.35" text-anchor="end" textLength="18.93" lengthAdjust="spacingAndGlyphs">6.00</text>
<line x1="88.50" y1="550.50" x2="88.50" y2="553.00" stroke="#000" stroke-width="0.8"/>
<line x1="151.50" y1="550.50" x2="151.50" y2="553.00" stroke="#000" stroke-width="0.8"/>
<clipPath id="c215_264"><rect x="215.10" y="264.50" width="128.50" height="87.00"/></clipPath>
<g clip-path="url(#c215_264)">
<path d="M220.5 269.3h0M221.9 281.5h0M227.9 287.7h0M228.2 306.9h0M231.5 316.4h0M230.8 330.0h0M233.5 331.3h0M239.8 342.0h0M240.4 340.7h0M242.3 341.7h0M242.6 340.4h0M243.2 339.8h0M243.6 340.1h0M243.9 341.4h0M244.1 339.0h0M244.5 341.1h0M244.7 339.9h0M244.8 341.1h0M245.8 341.9h0M246.2 339.7h0M246.5 339.6h0M246.7 340.0h0M247.5 339.5h0M250.1 340.3h0M250.5 340.3h0M251.9 339.6h0M252.8 337.3h0M253.3 338.4h0M254.6 339.7h0M255.3 338.5h0M256.4 339.5h0M256.8 339.5h0M257.3 338.0h0M257.5 339.5h0M257.8 340.7h0M258.2 339.8h0M258.4 338.7h0M258.6 338.7h0M259.5 337.4h0M259.9 339.5h0M260.2 337.9h0M260.8 338.1h0M262.0 338.7h0M263.7 337.4h0M263.8 337.8h0M264.1 339.2h0M264.7 337.1h0M265.2 339.5h0M265.6 338.1h0M265.6 338.2h0M266.1 337.7h0M266.1 338.9h0M266.9 338.1h0M267.0 338.2h0M268.4 336.8h0M270.4 338.6h0M271.8 337.5h0M271.9 337.9h0M274.0 338.8h0M274.1 335.0h0M274.5 337.4h0M275.3 338.9h0M275.7 335.7h0M276.7 338.3h0M278.6 336.6h0M279.4 336.0h0M279.5 337.6h0M281.6 337.2h0M282.1 337.2h0M282.1 336.8h0M282.5 338.3h0M283.5 337.8h0M283.6 336.7h0M283.7 335.4h0M283.8 335.8h0M284.9 334.5h0M285.6 335.5h0M286.0 336.8h0M286.1 336.3h0M286.4 338.3h0M286.6 337.2h0M287.0 337.2h0M289.2 335.5h0M289.5 335.1h0M292.2 336.1h0M292.3 336.1h0M292.5 337.1h0M292.6 335.5h0M293.3 335.1h0M293.5 334.8h0M293.5 336.1h0M294.0 333.1h0M294.1 334.0h0M295.5 335.2h0M296.9 335.4h0M297.3 335.1h0M297.9 334.5h0M301.7 334.2h0M302.3 333.5h0M303.2 333.1h0M303.4 332.4h0M303.4 332.6h0M303.6 334.0h0M303.7 333.4h0M304.4 334.1h0M305.2 334.2h0M305.6 331.5h0M306.0 334.0h0M306.5 331.3h0M307.3 333.6h0M307.5 333.0h0M307.5 332.1h0M307.6 333.2h0M307.7 332.8h0M309.1 333.2h0M309.2 333.5h0M309.2 333.2h0M310.8 333.4h0M311.0 331.0h0M311.1 332.9h0M311.5 330.8h0M312.9 334.8h0M313.1 332.4h0M316.6 331.3h0M317.0 332.1h0M317.3 330.6h0M322.4 330.2h0M322.5 331.2h0M322.8 330.4h0M323.2 328.4h0M323.7 330.4h0M324.7 330.2h0M327.9 330.4h0M328.0 329.8h0M328.3 331.2h0M328.3 330.0h0M329.0 327.4h0M330.1 328.4h0M331.4 328.6h0M331.5 328.1h0M332.4 327.1h0M334.0 328.2h0M334.4 326.5h0M334.8 327.5h0M336.0 328.3h0M336.0 326.6h0M336.4 330.7h0" stroke="#1f77b4" stroke-width="3.80" stroke-linecap="round" fill="none"/>
<path d="M220.5 267.9h0M222.3 287.7h0M223.2 289.7h0M227.9 289.1h0M228.2 305.3h0M224.5 311.1h0M227.5 320.1h0M231.5 316.1h0M226.9 328.6h0M229.5 329.3h0M232.2 333.3h0M234.8 337.2h0M236.8 339.9h0M238.8 346.5h0M238.4 346.0h0M238.7 344.0h0M239.9 345.1h0M240.0 344.1h0M240.1 343.6h0M241.6 343.0h0M242.0 343.7h0M242.3 346.1h0M244.0 343.3h0M244.2 347.3h0M245.4 345.0h0M245.7 345.6h0M247.0 346.3h0M247.1 344.1h0M248.2 345.1h0M248.6 343.4h0M248.8 346.9h0M250.3 343.6h0M250.9 344.1h0M251.0 344.6h0M253.8 346.6h0M254.5 345.0h0M254.7 346.8h0M255.3 347.5h0M256.1 341.6h0M256.3 343.3h0M256.4 342.1h0M257.8 345.1h0M258.1 343.6h0M259.1 343.5h0M259.2 343.6h0M259.7 344.4h0M259.8 344.7h0M260.3 347.2h0M260.9 343.4h0M262.3 343.5h0M262.4 342.5h0M263.7 344.3h0M264.1 341.5h0M264.4 344.4h0M264.7 345.5h0M265.2 342.4h0M266.2 344.3h0M266.3 345.3h0M267.1 343.3h0M267.3 342.4h0M267.8 343.1h0M269.1 342.6h0M270.2 340.1h0M270.9 341.9h0M272.0 340.7h0M272.5 345.4h0M272.9 342.1h0M273.0 341.5h0M273.5 343.0h0M274.5 343.5h0M275.8 341.4h0M276.6 342.3h0M276.6 342.6h0M276.7 340.2h0M278.6 339.6h0M279.5 340.8h0M279.7 341.8h0M280.0 340.4h0M280.0 340.0h0M280.7 340.1h0M280.8 342.9h0M281.5 341.2h0M281.6 340.3h0M281.7 339.9h0M282.1 339.3h0M284.8 339.1h0M285.2 341.6h0M286.4 340.8h0M287.0 341.4h0M287.5 337.1h0M287.8 339.3h0M288.1 338.7h0M288.5 338.0h0M288.6 339.9h0M288.6 341.0h0M289.5 339.8h0M290.5 339.3h0M291.1 336.9h0M291.7 337.6h0M292.2 340.3h0M292.5 337.8h0M292.6 337.7h0M293.0 340.1h0M293.1 338.7h0M293.1 341.1h0M293.3 338.1h0M294.9 338.7h0M296.2 339.9h0M296.5 339.0h0M297.4 337.7h0M297.4 338.8h0M297.9 337.6h0M298.4 337.2h0M299.1 339.1h0M300.2 338.3h0M300.4 335.0h0M300.6 337.7h0M301.2 339.0h0M302.4 337.8h0M302.7 339.7h0M304.1 336.2h0M304.5 337.3h0M304.6 336.3h0M308.4 336.4h0M308.5 337.1h0M312.1 336.1h0M312.3 337.2h0M313.4 338.3h0M315.0 338.7h0M316.2 337.8h0M316.3 340.2h0M317.1 334.6h0M317.9 339.4h0M318.3 337.2h0M318.4 338.9h0M318.6 339.8h0M321.2 337.0h0M321.8 337.2h0M323.1 336.7h0M323.3 335.7h0M323.7 337.3h0M324.0 335.8h0M325.5 335.4h0M326.8 336.3h0M327.6 336.1h0M330.1 334.5h0M330.6 335.1h0M334.2 334.2h0M335.3 337.2h0M335.9 334.0h0M336.1 333.5h0M337.1 333.9h0M337.7 333.1h0M338.2 330.9h0" stroke="#ffac5f" stroke-width="3.80" stroke-linecap="round" fill="none"/>
<path d="M220.5 280.5h0M221.6 292.4h0M222.3 298.3h0M223.6 300.3h0M227.9 299.9h0M224.5 317.4h0M228.2 317.4h0M225.6 323.4h0M231.1 323.0h0M229.3 327.3h0M227.5 332.6h0M228.9 335.2h0M231.5 337.9h0M232.8 339.9h0M234.8 342.5h0M236.1 344.5h0M237.4 345.8h0M238.8 344.5h0M240.1 343.2h0M241.4 342.5h0M242.7 341.2h0M244.7 338.5h0M246.7 341.8h0M237.4 346.0h0M237.6 344.3h0M239.0 343.4h0M239.2 345.8h0M239.2 344.8h0M239.3 344.4h0M239.4 346.3h0M240.0 344.0h0M240.1 343.2h0M240.2 345.6h0M241.3 343.9h0M242.4 346.1h0M242.8 344.3h0M244.0 346.5h0M246.0 342.6h0M246.7 343.5h0M247.3 344.1h0M247.7 345.1h0M247.8 342.3h0M249.0 341.3h0M250.0 346.5h0M250.0 342.2h0M250.5 341.6h0M251.3 343.4h0M251.3 345.5h0M251.5 342.6h0M251.6 344.1h0M252.2 344.6h0M252.2 345.5h0M254.1 342.9h0M254.6 342.5h0M254.8 344.5h0M256.3 342.8h0M257.5 345.0h0M258.1 342.3h0M258.8 343.3h0M261.0 343.4h0M261.4 343.3h0M262.3 341.8h0M264.3 341.8h0M264.7 342.1h0M265.7 342.5h0M265.8 342.6h0M266.6 341.8h0M267.2 342.3h0M268.0 341.6h0M269.2 342.8h0M269.4 345.4h0M270.5 340.9h0M272.4 338.9h0M272.6 341.3h0M272.8 342.0h0M273.6 341.9h0M276.7 341.2h0M277.6 340.8h0M277.7 342.4h0M278.8 341.3h0M279.4 341.8h0M279.4 340.1h0M279.7 340.8h0M279.7 339.7h0M279.9 340.6h0M280.1 339.0h0M280.8 339.9h0M282.8 336.7h0M283.0 342.3h0M287.2 339.7h0M289.6 337.0h0M290.8 335.0h0M291.5 338.2h0M291.7 337.8h0M292.0 338.1h0M292.0 335.9h0M293.5 337.9h0M294.1 336.4h0M294.3 337.7h0M295.6 338.8h0M295.6 336.6h0M296.1 336.2h0M296.8 334.9h0M296.9 336.9h0M297.2 337.5h0M300.0 335.2h0M300.5 335.5h0M300.6 335.4h0M300.7 335.9h0M304.7 333.2h0M304.7 334.3h0M305.4 332.0h0M306.3 332.9h0M306.9 333.3h0M307.0 336.5h0M307.5 333.3h0M307.6 333.5h0M307.6 333.0h0M307.8 332.6h0M308.1 334.5h0M308.4 332.8h0M309.6 334.3h0M310.5 330.6h0M311.0 334.9h0M313.2 334.9h0M313.3 334.7h0M313.5 333.6h0M313.6 333.9h0M313.6 329.6h0M313.9 332.7h0M314.0 334.0h0M317.5 329.6h0M318.6 331.6h0M318.6 332.5h0M319.3 329.4h0M319.3 329.7h0M322.1 330.3h0M322.8 327.5h0M324.6 328.6h0M325.0 326.5h0M326.3 327.6h0M326.5 326.1h0M326.5 328.1h0M327.0 329.7h0M327.3 324.9h0M328.2 328.4h0M328.3 327.9h0M329.0 328.3h0M329.0 327.6h0M329.6 326.8h0M329.6 326.9h0M331.0 325.8h0M331.5 324.1h0M331.7 326.6h0M332.0 328.0h0M333.2 327.6h0M333.7 326.7h0M334.6 327.8h0M335.3 324.2h0M335.6 325.9h0M335.8 325.6h0M337.7 324.6h0M338.6 326.2h0" stroke="#000000" stroke-width="3.80" stroke-linecap="round" fill="none"/>
</g>
<rect x="215.10" y="264.50" width="128.50" height="87.00" fill="none" stroke="#000" stroke-width="0.65"/>
<line x1="212.60" y1="334.50" x2="215.10" y2="334.50" stroke="#000" stroke-width="0.8"/>
<text x="210.30" y="338.15" font-size="9.35" text-anchor="end" textLength="18.93" lengthAdjust="spacingAndGlyphs">2.50</text>
<line x1="212.60" y1="315.50" x2="215.10" y2="315.50" stroke="#000" stroke-width="0.8"/>
<text x="210.30" y="319.05" font-size="9.35" text-anchor="end" textLength="18.93" lengthAdjust="spacingAndGlyphs">5.00</text>
<line x1="212.60" y1="296.50" x2="215.10" y2="296.50" stroke="#000" stroke-width="0.8"/>
<text x="210.30" y="299.95" font-size="9.35" text-anchor="end" textLength="18.93" lengthAdjust="spacingAndGlyphs">7.50</text>
<line x1="212.60" y1="277.50" x2="215.10" y2="277.50" stroke="#000" stroke-width="0.8"/>
<text x="210.30" y="280.85" font-size="9.35" text-anchor="end" textLength="24.33" lengthAdjust="spacingAndGlyphs">10.00</text>
<line x1="258.50" y1="351.50" x2="258.50" y2="354.00" stroke="#000" stroke-width="0.8"/>
<line x1="321.50" y1="351.50" x2="321.50" y2="354.00" stroke="#000" stroke-width="0.8"/>
<clipPath id="c385_264"><rect x="385.20" y="264.50" width="128.50" height="87.00"/></clipPath>
<g clip-path="url(#c385_264)">
<path d="M392.3 267.9h0M399.3 279.8h0M393.2 284.7h0M394.0 287.7h0M394.9 290.4h0M396.2 311.1h0M399.8 313.2h0M402.8 309.9h0M397.5 319.0h0M401.1 320.1h0M398.9 326.4h0M404.8 326.7h0M405.8 328.6h0M413.4 331.3h0M409.4 335.2h0M416.7 335.9h0M414.8 338.4h0M415.2 339.4h0M415.3 340.0h0M415.3 338.6h0M416.5 340.0h0M417.0 340.3h0M417.7 340.9h0M419.3 340.1h0M421.7 340.3h0M422.6 341.0h0M423.4 342.1h0M423.5 340.6h0M424.8 340.5h0M425.7 341.0h0M427.2 341.5h0M428.7 341.7h0M428.9 341.3h0M429.7 339.8h0M429.7 340.8h0M430.0 342.3h0M431.2 340.5h0M432.4 341.5h0M435.8 339.6h0M436.0 341.7h0M436.2 341.5h0M437.3 341.4h0M438.2 341.4h0M438.9 341.6h0M442.0 341.9h0M443.6 342.2h0M443.7 342.5h0M443.9 342.4h0M444.0 343.1h0M444.6 342.6h0M445.6 342.8h0M447.2 342.8h0M447.7 342.9h0M450.1 342.9h0M450.5 342.4h0M450.6 343.1h0M450.7 342.8h0M450.8 342.6h0M450.9 343.1h0M451.6 343.0h0M452.1 342.7h0M454.0 344.6h0M455.2 342.8h0M457.3 344.0h0M457.7 345.5h0M459.1 343.5h0M461.3 345.2h0M461.8 343.6h0M463.0 345.2h0M464.1 344.8h0M464.6 344.1h0M465.8 345.5h0M466.2 345.7h0M467.8 345.3h0M468.6 344.2h0M469.4 344.5h0M469.8 344.3h0M470.2 345.2h0M470.6 345.2h0M471.3 344.9h0M471.6 345.3h0M472.1 346.5h0M474.3 345.5h0M474.6 346.5h0M475.7 346.8h0M476.8 346.1h0M477.9 346.3h0M478.0 345.5h0M479.9 346.1h0M480.5 346.6h0M480.6 346.3h0M480.6 346.8h0M481.3 346.6h0M481.3 345.3h0M481.4 346.0h0M482.0 346.6h0M483.0 346.6h0M483.1 346.8h0M483.2 346.5h0M483.7 347.6h0M484.2 345.9h0M486.0 346.7h0M486.6 345.9h0M487.0 345.7h0M487.8 346.2h0M489.6 347.4h0M491.3 347.6h0M491.5 345.9h0M491.7 345.9h0M491.9 347.7h0M492.2 347.4h0M493.0 345.8h0M493.7 346.6h0M493.7 345.0h0M495.6 346.0h0M496.9 345.4h0M497.7 346.1h0M498.5 346.3h0M501.6 346.6h0M502.8 346.7h0M504.8 343.1h0M504.9 343.3h0M506.7 343.6h0M507.9 341.9h0M508.0 343.9h0M508.4 341.4h0" stroke="#1f77b4" stroke-width="3.80" stroke-linecap="round" fill="none"/>
<path d="M392.3 325.3h0M393.6 326.7h0M395.6 330.6h0M399.5 320.1h0M402.8 324.0h0M402.2 333.3h0M405.5 334.6h0M416.0 333.3h0M424.6 334.6h0M411.4 341.2h0M406.4 338.0h0M406.4 338.0h0M407.5 340.0h0M408.3 339.6h0M408.6 340.2h0M408.7 340.2h0M409.2 338.2h0M409.8 340.1h0M411.5 339.8h0M411.7 340.5h0M414.5 340.7h0M414.7 339.2h0M415.1 340.6h0M415.9 340.7h0M416.6 339.7h0M417.6 339.7h0M417.7 339.4h0M417.7 340.1h0M421.0 342.3h0M422.5 339.9h0M423.2 340.0h0M425.5 339.6h0M425.6 341.6h0M425.6 338.3h0M425.8 342.0h0M427.2 340.0h0M427.4 340.8h0M429.0 341.4h0M431.3 340.2h0M432.0 341.4h0M432.3 343.5h0M432.8 342.4h0M433.5 340.7h0M434.4 338.9h0M435.5 343.0h0M436.6 341.5h0M436.7 339.9h0M439.9 341.1h0M440.1 342.1h0M440.3 343.3h0M441.8 343.8h0M442.4 342.8h0M443.2 342.5h0M443.3 344.4h0M443.8 344.0h0M444.4 341.9h0M445.6 342.8h0M447.2 343.4h0M448.1 343.1h0M448.5 343.6h0M448.8 341.8h0M451.5 341.4h0M452.1 341.0h0M452.7 342.5h0M454.4 342.7h0M455.3 342.1h0M456.0 341.9h0M456.4 342.2h0M456.9 342.6h0M458.6 344.8h0M459.1 345.9h0M459.2 343.2h0M459.5 344.3h0M460.3 344.4h0M462.3 345.6h0M462.3 346.0h0M464.4 343.4h0M465.0 344.5h0M465.6 346.2h0M465.8 344.7h0M466.2 344.8h0M467.8 344.8h0M469.1 343.2h0M470.8 345.9h0M471.1 347.3h0M471.5 345.9h0M471.8 346.7h0M471.9 345.4h0M474.1 346.0h0M478.1 346.0h0M478.4 347.0h0M482.1 346.0h0M484.2 347.0h0M484.9 345.9h0M485.3 346.8h0M485.4 347.7h0M486.3 346.0h0M487.9 347.3h0M488.0 345.0h0M488.4 346.1h0M488.5 346.0h0M488.7 346.4h0M489.6 346.6h0M489.8 348.9h0M490.1 345.3h0M490.9 347.5h0M492.9 345.6h0M493.5 347.3h0M494.5 346.7h0M495.6 346.6h0M495.7 347.5h0M496.6 346.4h0M498.0 345.5h0M498.5 346.4h0M500.0 347.1h0M500.6 346.3h0M500.9 345.4h0M501.0 344.4h0M501.4 344.6h0M502.7 344.9h0M503.1 346.1h0M504.2 343.8h0M504.9 344.6h0M505.0 344.9h0M505.2 343.6h0M505.3 343.8h0M505.4 344.0h0M507.0 345.3h0M507.4 344.6h0M507.5 345.8h0" stroke="#ffac5f" stroke-width="3.80" stroke-linecap="round" fill="none"/>
<path d="M392.3 340.5h0M393.6 340.9h0M394.9 339.9h0M396.2 339.2h0M397.5 341.2h0M398.9 330.6h0M400.2 338.5h0M401.5 333.3h0M402.8 331.9h0M403.5 341.2h0M404.8 342.5h0M406.1 343.8h0M407.4 341.8h0M408.8 342.5h0M410.7 341.2h0M412.7 341.8h0M414.7 339.9h0M416.7 343.2h0M401.9 339.4h0M401.9 340.9h0M402.2 340.0h0M402.9 340.7h0M404.9 340.2h0M405.5 339.2h0M406.0 340.8h0M406.4 341.6h0M407.5 340.0h0M408.2 340.2h0M409.3 340.1h0M410.2 339.8h0M410.3 341.2h0M411.9 342.2h0M412.9 339.8h0M413.0 341.0h0M414.6 341.7h0M415.1 341.6h0M417.2 339.8h0M418.2 340.6h0M418.9 340.5h0M419.3 340.1h0M419.9 341.3h0M419.9 341.7h0M420.5 341.4h0M420.9 341.7h0M421.6 341.0h0M421.8 341.5h0M422.5 340.8h0M424.5 341.2h0M427.6 340.9h0M428.5 340.3h0M428.5 339.7h0M429.3 339.7h0M430.6 340.9h0M432.2 341.0h0M436.9 341.9h0M438.6 340.8h0M438.9 340.4h0M440.3 342.2h0M440.4 341.1h0M440.5 342.0h0M441.7 342.0h0M442.9 341.8h0M443.5 342.4h0M444.0 341.4h0M444.5 343.4h0M444.8 342.8h0M445.2 342.3h0M445.2 343.1h0M445.6 342.0h0M446.1 343.6h0M446.4 342.3h0M447.7 343.7h0M448.0 342.7h0M448.2 342.2h0M448.3 340.8h0M448.8 341.8h0M451.4 341.6h0M452.1 342.9h0M453.8 341.5h0M454.8 343.5h0M455.3 343.6h0M456.2 344.5h0M456.7 343.4h0M456.7 342.7h0M457.4 344.2h0M457.7 344.0h0M458.1 344.1h0M458.8 344.1h0M459.4 344.4h0M459.7 345.1h0M459.9 342.9h0M460.2 345.6h0M461.0 344.9h0M462.8 344.1h0M462.8 343.6h0M465.4 345.0h0M465.6 345.0h0M465.6 344.8h0M465.9 345.1h0M466.2 344.2h0M467.1 345.4h0M467.4 345.9h0M467.9 345.6h0M468.4 345.2h0M468.4 344.3h0M468.5 344.0h0M469.3 345.7h0M469.9 346.7h0M469.9 346.6h0M471.2 344.0h0M472.0 346.2h0M473.0 345.6h0M473.1 344.5h0M474.3 346.7h0M474.9 346.3h0M475.2 346.6h0M476.4 347.0h0M478.2 345.5h0M479.7 345.3h0M480.1 347.7h0M480.2 345.4h0M480.2 346.4h0M482.3 346.1h0M483.0 346.1h0M483.4 347.3h0M483.9 346.5h0M483.9 347.1h0M485.2 344.7h0M485.9 344.5h0M486.8 346.2h0M488.5 347.3h0M490.2 345.4h0M490.7 346.5h0M492.1 345.0h0M492.3 344.8h0M494.0 345.0h0M494.2 346.6h0M494.5 347.0h0M494.5 346.8h0M497.6 345.7h0M497.7 346.3h0M498.4 344.5h0M498.7 344.9h0M500.2 345.1h0M501.1 345.3h0M502.2 344.0h0M502.8 343.2h0M502.9 345.8h0M503.5 343.9h0M503.5 344.3h0M504.3 344.4h0M505.4 343.6h0M506.0 343.0h0M506.1 341.6h0M506.4 343.0h0M506.8 343.2h0M506.9 343.8h0M507.2 342.1h0M464.9 337.5h0" stroke="#000000" stroke-width="3.80" stroke-linecap="round" fill="none"/>
</g>
<rect x="385.20" y="264.50" width="128.50" height="87.00" fill="none" stroke="#000" stroke-width="0.65"/>
<line x1="382.70" y1="325.50" x2="385.20" y2="325.50" stroke="#000" stroke-width="0.8"/>
<text x="380.40" y="328.95" font-size="9.35" text-anchor="end" textLength="18.93" lengthAdjust="spacingAndGlyphs">2.00</text>
<line x1="382.70" y1="298.50" x2="385.20" y2="298.50" stroke="#000" stroke-width="0.8"/>
<text x="380.40" y="302.05" font-size="9.35" text-anchor="end" textLength="18.93" lengthAdjust="spacingAndGlyphs">4.00</text>
<line x1="382.70" y1="271.50" x2="385.20" y2="271.50" stroke="#000" stroke-width="0.8"/>
<text x="380.40" y="275.15" font-size="9.35" text-anchor="end" textLength="18.93" lengthAdjust="spacingAndGlyphs">6.00</text>
<line x1="428.50" y1="351.50" x2="428.50" y2="354.00" stroke="#000" stroke-width="0.8"/>
<line x1="491.50" y1="351.50" x2="491.50" y2="354.00" stroke="#000" stroke-width="0.8"/>
<clipPath id="c555_264"><rect x="555.30" y="264.50" width="128.50" height="87.00"/></clipPath>
<g clip-path="url(#c555_264)">
<path d="M569.3 267.9h0M562.3 282.1h0M563.2 290.8h0M564.0 296.0h0M564.9 298.3h0M569.8 298.7h0M572.8 304.2h0M570.8 311.6h0M566.2 316.1h0M567.1 318.1h0M568.2 322.0h0M569.3 327.3h0M572.2 324.7h0M574.8 324.7h0M576.1 328.6h0M574.1 330.0h0M570.2 332.6h0M577.2 334.6h0M583.4 333.9h0M586.7 336.6h0M579.4 337.9h0M590.6 337.9h0M594.6 338.5h0M583.6 339.3h0M584.8 341.7h0M586.2 340.9h0M586.3 341.5h0M586.3 340.4h0M586.4 341.5h0M587.7 341.8h0M590.6 344.5h0M590.7 341.0h0M592.3 342.5h0M592.5 343.0h0M593.1 341.1h0M593.4 341.9h0M595.4 342.3h0M595.5 342.0h0M595.9 342.5h0M595.9 343.8h0M596.3 344.0h0M598.2 341.5h0M598.6 341.3h0M598.9 341.9h0M598.9 342.2h0M600.2 341.4h0M600.5 341.2h0M600.6 342.1h0M601.8 341.4h0M603.2 341.4h0M603.5 343.1h0M603.6 341.5h0M604.2 343.5h0M605.0 344.8h0M606.0 341.4h0M606.5 342.6h0M607.7 339.7h0M607.9 343.4h0M608.3 340.8h0M610.5 342.0h0M611.8 341.2h0M615.6 342.4h0M615.9 338.5h0M616.0 341.4h0M616.6 338.6h0M618.7 340.9h0M619.8 342.2h0M622.5 341.5h0M622.7 339.0h0M622.9 341.2h0M624.0 340.4h0M624.6 338.8h0M625.4 339.1h0M627.1 341.4h0M627.3 340.6h0M627.5 338.4h0M628.7 340.8h0M629.3 339.0h0M629.9 339.8h0M630.0 341.5h0M630.3 339.7h0M630.4 340.7h0M630.4 339.9h0M630.6 340.9h0M630.8 339.3h0M631.0 340.1h0M632.5 338.8h0M632.8 341.1h0M634.6 339.9h0M635.2 338.4h0M635.4 338.2h0M636.2 338.4h0M637.8 338.4h0M638.1 340.3h0M638.9 338.8h0M641.5 339.1h0M641.9 339.8h0M643.5 340.3h0M644.1 341.9h0M645.0 341.0h0M645.2 342.4h0M646.9 343.6h0M648.9 344.6h0M649.6 341.7h0M649.9 344.4h0M650.0 344.2h0M650.3 344.9h0M650.4 340.7h0M652.9 341.1h0M653.5 344.3h0M655.7 345.7h0M655.7 344.5h0M658.9 344.7h0M659.2 344.6h0M659.9 343.6h0M660.1 345.3h0M662.1 344.4h0M663.8 343.8h0M665.6 343.8h0M666.5 343.8h0M666.8 344.9h0M667.3 344.4h0M669.2 343.4h0M670.0 345.8h0M670.3 343.1h0M671.1 344.7h0M671.8 343.0h0M673.3 346.0h0M673.8 343.3h0M674.3 344.4h0M676.2 342.2h0M676.2 343.6h0M677.4 344.6h0" stroke="#1f77b4" stroke-width="3.80" stroke-linecap="round" fill="none"/>
<path d="M562.3 342.5h0M566.2 347.1h0M570.2 347.1h0M569.3 335.9h0M572.2 338.5h0M583.4 337.2h0M587.3 339.9h0M590.6 341.2h0M594.6 338.5h0M576.4 340.0h0M577.2 341.6h0M577.2 343.0h0M577.5 340.2h0M579.3 343.7h0M579.6 343.7h0M580.3 342.5h0M583.1 343.6h0M583.3 344.2h0M583.4 344.7h0M583.6 344.2h0M586.1 343.2h0M586.6 346.4h0M589.4 345.9h0M590.5 343.1h0M591.8 341.8h0M594.7 346.8h0M595.4 343.7h0M595.6 342.1h0M597.2 344.3h0M598.4 344.7h0M598.6 342.2h0M598.8 344.6h0M599.4 344.7h0M599.6 344.5h0M600.2 345.5h0M600.6 346.5h0M604.1 341.6h0M606.0 340.7h0M607.0 342.5h0M607.0 343.1h0M607.8 342.0h0M609.1 342.7h0M609.4 344.8h0M610.6 343.9h0M611.8 341.6h0M612.4 342.6h0M613.2 344.0h0M614.8 343.7h0M615.4 340.4h0M616.7 343.5h0M617.6 339.9h0M617.9 340.7h0M620.1 342.5h0M620.5 341.5h0M620.6 340.9h0M620.7 340.6h0M621.0 340.7h0M622.2 339.0h0M623.1 339.6h0M623.8 341.4h0M624.7 340.9h0M624.8 341.8h0M625.2 341.3h0M625.5 340.5h0M627.0 343.3h0M627.7 340.2h0M627.9 340.4h0M628.8 340.5h0M628.8 341.9h0M630.0 340.8h0M630.5 341.0h0M630.7 340.0h0M630.8 342.8h0M631.4 340.2h0M632.1 338.9h0M633.4 340.4h0M634.1 340.4h0M636.3 337.6h0M636.6 335.6h0M637.5 337.5h0M637.9 337.3h0M638.3 338.0h0M638.5 337.0h0M638.7 337.2h0M640.0 338.9h0M640.0 337.2h0M640.7 336.6h0M641.6 339.5h0M641.9 338.4h0M643.8 338.9h0M644.3 339.7h0M648.9 342.9h0M649.5 340.2h0M650.3 341.7h0M650.4 343.4h0M650.6 345.7h0M651.4 343.6h0M651.5 343.0h0M654.5 344.0h0M654.7 343.5h0M654.8 341.3h0M657.3 342.7h0M657.5 342.0h0M658.0 345.7h0M658.6 343.9h0M659.2 342.2h0M659.8 345.2h0M660.4 341.6h0M660.8 345.9h0M661.6 345.1h0M663.6 342.0h0M665.3 346.8h0M665.6 342.8h0M666.0 345.5h0M666.5 345.3h0M668.4 343.6h0M672.8 343.0h0M672.8 342.2h0M672.8 343.1h0M673.2 343.2h0M675.8 343.5h0M676.4 341.4h0M676.7 344.7h0M677.3 340.9h0M677.4 341.5h0M677.5 339.9h0M677.9 339.9h0M677.9 343.6h0M678.8 341.0h0" stroke="#ffac5f" stroke-width="3.80" stroke-linecap="round" fill="none"/>
<path d="M562.3 338.5h0M563.6 337.9h0M564.9 339.9h0M566.2 341.2h0M567.5 340.5h0M568.9 341.8h0M570.2 343.2h0M571.5 341.2h0M572.8 342.5h0M574.1 340.5h0M576.1 343.8h0M578.1 342.5h0M580.1 344.5h0M582.1 343.2h0M584.0 345.1h0M586.7 344.5h0M571.5 342.4h0M572.1 341.1h0M574.0 341.7h0M574.9 342.4h0M575.7 342.8h0M577.0 340.7h0M577.3 342.9h0M578.4 343.6h0M578.8 342.2h0M579.1 342.7h0M579.5 343.0h0M581.2 342.6h0M585.1 343.7h0M585.4 343.9h0M585.6 343.3h0M585.6 344.0h0M586.0 345.0h0M587.2 345.0h0M589.1 345.6h0M589.4 344.8h0M589.5 346.1h0M589.6 346.8h0M590.7 344.7h0M592.6 345.9h0M593.4 346.4h0M594.3 343.9h0M595.4 344.8h0M596.1 343.5h0M596.1 344.5h0M596.6 345.0h0M600.2 344.6h0M600.9 343.8h0M601.0 343.5h0M601.1 344.1h0M602.3 343.3h0M603.7 344.4h0M604.6 342.7h0M604.6 344.5h0M605.1 342.8h0M606.3 341.7h0M608.3 340.9h0M609.3 340.1h0M609.8 343.3h0M610.7 340.8h0M611.2 340.3h0M611.4 340.5h0M612.3 342.2h0M615.8 340.3h0M616.0 338.8h0M616.0 342.2h0M616.6 340.1h0M616.8 339.4h0M617.3 341.1h0M617.4 339.8h0M618.5 341.4h0M618.9 341.1h0M619.6 341.1h0M620.0 340.1h0M620.1 340.4h0M620.8 339.3h0M620.9 341.2h0M621.2 340.3h0M621.2 339.2h0M621.7 339.6h0M622.2 341.5h0M622.6 339.5h0M622.7 340.6h0M623.6 339.7h0M624.2 339.7h0M625.2 338.8h0M625.3 339.9h0M627.6 341.7h0M627.6 341.2h0M627.7 339.1h0M627.8 340.1h0M628.7 338.7h0M629.3 339.5h0M629.6 340.5h0M630.4 338.7h0M633.0 340.5h0M633.2 341.8h0M635.2 337.7h0M635.9 341.6h0M636.0 339.1h0M636.8 338.8h0M639.7 339.6h0M642.1 342.5h0M642.3 339.9h0M642.3 342.4h0M643.0 342.7h0M643.4 342.0h0M644.0 341.3h0M644.5 342.1h0M644.9 341.8h0M646.3 343.8h0M647.7 343.6h0M648.6 344.6h0M648.8 343.8h0M648.8 342.9h0M649.3 343.8h0M649.8 343.0h0M651.2 344.1h0M651.2 344.1h0M652.2 343.5h0M653.2 343.8h0M654.1 343.1h0M654.8 343.5h0M655.2 341.9h0M655.3 343.9h0M655.6 343.9h0M657.1 344.8h0M657.2 343.7h0M657.2 343.1h0M657.6 344.5h0M657.9 343.8h0M658.3 343.1h0M658.9 343.9h0M659.8 344.4h0M660.6 342.9h0M661.6 343.8h0M662.0 343.4h0M662.4 342.6h0M662.7 342.6h0M663.6 343.9h0M665.7 343.8h0M665.8 343.0h0M666.9 343.3h0M669.0 344.8h0M669.3 341.6h0M669.3 342.8h0M669.3 342.1h0M671.6 343.5h0M672.5 340.6h0M672.8 342.3h0M673.1 341.7h0M673.7 342.6h0M674.3 341.1h0M675.3 340.6h0M676.4 339.9h0M676.7 339.3h0" stroke="#000000" stroke-width="3.80" stroke-linecap="round" fill="none"/>
</g>
<rect x="555.30" y="264.50" width="128.50" height="87.00" fill="none" stroke="#000" stroke-width="0.65"/>
<line x1="552.80" y1="351.50" x2="555.30" y2="351.50" stroke="#000" stroke-width="0.8"/>
<text x="550.50" y="355.25" font-size="9.35" text-anchor="end" textLength="18.93" lengthAdjust="spacingAndGlyphs">0.00</text>
<line x1="552.80" y1="318.50" x2="555.30" y2="318.50" stroke="#000" stroke-width="0.8"/>
<text x="550.50" y="322.00" font-size="9.35" text-anchor="end" textLength="18.93" lengthAdjust="spacingAndGlyphs">2.00</text>
<line x1="552.80" y1="285.50" x2="555.30" y2="285.50" stroke="#000" stroke-width="0.8"/>
<text x="550.50" y="288.75" font-size="9.35" text-anchor="end" textLength="18.93" lengthAdjust="spacingAndGlyphs">4.00</text>
<line x1="598.50" y1="351.50" x2="598.50" y2="354.00" stroke="#000" stroke-width="0.8"/>
<line x1="661.50" y1="351.50" x2="661.50" y2="354.00" stroke="#000" stroke-width="0.8"/>
<clipPath id="c215_364"><rect x="215.10" y="364.00" width="128.50" height="87.00"/></clipPath>
<g clip-path="url(#c215_364)">
<path d="M220.8 367.4h0M222.1 382.4h0M222.8 389.4h0M227.7 386.3h0M227.9 402.9h0M231.8 405.3h0M224.7 409.6h0M231.8 418.3h0M226.0 418.9h0M226.6 425.4h0M244.7 420.2h0M253.1 425.4h0M243.6 429.1h0M244.4 436.4h0M244.5 425.4h0M246.6 429.9h0M246.9 429.4h0M249.2 432.6h0M249.8 428.3h0M250.1 434.5h0M250.5 432.1h0M250.8 432.3h0M252.0 430.3h0M253.0 430.5h0M253.8 430.7h0M254.0 430.6h0M255.9 432.3h0M256.6 432.8h0M256.7 425.5h0M257.2 426.8h0M257.4 427.5h0M258.1 434.0h0M260.3 428.7h0M261.8 425.8h0M262.8 427.3h0M264.4 427.1h0M265.2 427.7h0M266.1 424.2h0M266.2 431.7h0M266.2 429.8h0M266.9 427.9h0M267.0 431.5h0M267.1 427.9h0M267.7 428.0h0M268.0 430.7h0M270.0 423.2h0M272.0 422.7h0M274.0 424.8h0M274.5 427.9h0M276.0 429.1h0M276.7 429.1h0M277.7 429.9h0M278.4 429.7h0M279.1 430.7h0M279.7 425.5h0M282.2 429.5h0M285.2 426.0h0M286.8 428.4h0M286.8 426.1h0M287.2 430.9h0M289.3 428.9h0M290.3 430.8h0M291.1 429.5h0M292.1 425.6h0M295.8 429.3h0M296.6 426.5h0M297.3 423.3h0M297.8 422.2h0M300.3 421.7h0M301.2 424.1h0M301.6 425.4h0M303.6 424.4h0M304.7 428.1h0M306.1 419.8h0M307.4 425.1h0M308.4 424.9h0M308.4 428.3h0M308.9 420.2h0M309.8 421.6h0M311.4 423.0h0M311.4 424.7h0M312.4 424.3h0M314.7 417.7h0M316.0 426.2h0M317.2 429.2h0M317.5 424.1h0M317.7 425.2h0M321.0 426.0h0M322.1 422.1h0M323.6 421.9h0M324.0 426.3h0M325.2 418.4h0M326.7 422.1h0M326.8 424.6h0M326.9 425.5h0M330.6 422.9h0M331.0 419.1h0M331.1 420.1h0M331.8 424.4h0M334.0 419.6h0M334.6 423.2h0M334.9 418.7h0M335.6 416.5h0M335.7 415.4h0M335.7 425.3h0M336.2 421.1h0M337.4 417.7h0M290.6 411.6h0M338.6 412.5h0" stroke="#1f77b4" stroke-width="3.80" stroke-linecap="round" fill="none"/>
<path d="M220.8 373.0h0M221.5 385.3h0M223.0 392.0h0M223.8 394.3h0M227.9 389.8h0M228.6 406.6h0M231.2 407.3h0M224.7 411.8h0M230.5 418.3h0M233.8 418.9h0M226.6 426.7h0M228.6 437.0h0M235.0 422.8h0M236.3 433.8h0M238.3 434.4h0M238.9 444.8h0M243.8 438.1h0M245.0 427.7h0M245.6 427.1h0M246.3 427.6h0M246.6 438.5h0M246.8 429.6h0M246.9 434.6h0M248.2 437.0h0M248.8 429.3h0M250.6 433.2h0M251.6 433.6h0M254.4 436.9h0M254.7 431.5h0M256.5 424.3h0M256.7 428.0h0M258.3 434.3h0M258.9 432.8h0M260.5 432.9h0M263.5 427.0h0M264.6 433.3h0M268.7 433.2h0M270.0 432.5h0M270.6 436.9h0M271.2 428.7h0M271.4 426.2h0M272.2 427.2h0M273.1 432.0h0M274.0 433.3h0M274.3 434.9h0M274.8 433.1h0M275.5 434.0h0M279.2 430.5h0M281.8 432.9h0M282.3 434.3h0M282.3 431.2h0M283.3 436.7h0M283.5 438.7h0M284.0 427.3h0M285.9 428.2h0M286.0 426.3h0M286.6 434.1h0M287.6 429.4h0M287.7 428.2h0M287.9 426.2h0M288.5 434.0h0M289.3 436.0h0M289.8 426.7h0M290.5 436.3h0M291.8 425.6h0M293.2 429.3h0M293.4 430.3h0M294.4 429.9h0M296.2 431.7h0M298.1 432.2h0M300.3 423.9h0M301.1 434.4h0M301.3 431.1h0M301.3 433.2h0M302.6 434.7h0M303.1 430.1h0M304.2 431.4h0M304.3 429.4h0M304.7 429.6h0M307.0 427.2h0M307.4 430.3h0M307.6 429.3h0M309.2 425.6h0M310.5 427.9h0M313.4 427.3h0M313.4 434.6h0M314.1 429.6h0M316.4 425.3h0M316.7 426.3h0M316.8 437.6h0M320.1 426.0h0M321.3 427.5h0M322.2 432.6h0M324.8 428.8h0M325.2 425.7h0M325.7 421.9h0M328.2 433.0h0M328.8 432.5h0M329.4 428.4h0M331.1 433.8h0M331.6 427.8h0M333.3 432.1h0M333.5 427.9h0M333.6 426.5h0M333.8 431.7h0M334.1 434.6h0M334.7 436.9h0M334.8 428.7h0M335.3 422.7h0M336.8 427.7h0M338.4 432.7h0M290.6 415.1h0" stroke="#ffac5f" stroke-width="3.80" stroke-linecap="round" fill="none"/>
<path d="M220.8 384.2h0M221.7 398.2h0M222.8 404.0h0M223.8 405.7h0M227.9 396.3h0M229.0 412.7h0M231.2 411.8h0M224.7 420.5h0M230.5 424.1h0M233.1 424.7h0M234.4 427.3h0M225.6 429.0h0M231.8 430.5h0M227.3 433.8h0M227.7 439.6h0M228.6 443.5h0M235.7 435.7h0M236.3 439.6h0M238.3 437.0h0M239.6 439.6h0M237.6 445.4h0M240.2 446.1h0M242.8 440.2h0M244.7 422.8h0M246.7 441.5h0M242.2 431.8h0M247.3 435.7h0M250.6 446.7h0M249.9 438.3h0M252.5 432.5h0M253.1 428.6h0M244.8 443.7h0M245.4 439.4h0M245.5 431.0h0M245.6 434.6h0M245.6 443.3h0M248.9 434.3h0M249.6 434.9h0M249.7 438.1h0M250.3 438.4h0M250.3 442.5h0M250.7 437.4h0M251.6 438.2h0M254.0 436.9h0M254.2 438.2h0M254.7 440.6h0M258.6 432.8h0M259.3 431.3h0M259.7 430.4h0M259.7 434.9h0M260.8 431.0h0M262.0 435.8h0M266.4 432.4h0M271.2 434.4h0M272.2 441.0h0M273.7 434.2h0M274.0 433.6h0M274.0 440.1h0M275.4 442.1h0M275.4 437.2h0M275.4 428.0h0M275.8 433.2h0M276.4 434.6h0M277.7 434.2h0M278.0 438.2h0M278.3 432.3h0M278.4 435.5h0M278.6 433.1h0M281.7 435.2h0M281.9 436.1h0M283.5 439.5h0M283.6 434.2h0M285.2 432.8h0M286.7 434.2h0M287.6 431.9h0M287.7 431.8h0M289.3 437.5h0M289.8 431.4h0M290.0 426.9h0M296.2 434.4h0M297.1 433.0h0M300.7 433.7h0M300.9 435.9h0M301.9 431.1h0M302.3 429.5h0M302.9 434.7h0M303.8 433.4h0M304.8 438.1h0M305.3 441.1h0M305.8 434.5h0M309.9 431.3h0M310.4 433.0h0M311.5 435.3h0M312.0 429.7h0M312.6 437.3h0M313.1 433.9h0M313.4 431.7h0M313.5 433.1h0M313.6 432.9h0M313.9 434.9h0M314.1 434.8h0M315.9 435.0h0M316.0 431.6h0M316.4 429.7h0M316.7 437.2h0M317.0 430.4h0M318.9 435.8h0M319.1 434.2h0M319.2 430.5h0M319.5 435.3h0M320.4 433.4h0M320.8 427.0h0M321.5 430.5h0M322.9 426.2h0M324.4 428.4h0M324.6 429.9h0M325.2 432.0h0M327.0 428.8h0M328.7 432.2h0M329.8 435.5h0M332.5 433.6h0M333.3 430.0h0M334.0 434.3h0M334.1 429.7h0M334.8 434.6h0M337.6 431.7h0M290.6 416.5h0M338.6 421.3h0" stroke="#000000" stroke-width="3.80" stroke-linecap="round" fill="none"/>
</g>
<rect x="215.10" y="364.00" width="128.50" height="87.00" fill="none" stroke="#000" stroke-width="0.65"/>
<line x1="212.60" y1="447.50" x2="215.10" y2="447.50" stroke="#000" stroke-width="0.8"/>
<text x="210.30" y="451.25" font-size="9.35" text-anchor="end" textLength="18.93" lengthAdjust="spacingAndGlyphs">0.08</text>
<line x1="212.60" y1="430.50" x2="215.10" y2="430.50" stroke="#000" stroke-width="0.8"/>
<text x="210.30" y="433.65" font-size="9.35" text-anchor="end" textLength="18.93" lengthAdjust="spacingAndGlyphs">0.10</text>
<line x1="212.60" y1="412.50" x2="215.10" y2="412.50" stroke="#000" stroke-width="0.8"/>
<text x="210.30" y="416.05" font-size="9.35" text-anchor="end" textLength="18.93" lengthAdjust="spacingAndGlyphs">0.12</text>
<line x1="212.60" y1="394.50" x2="215.10" y2="394.50" stroke="#000" stroke-width="0.8"/>
<text x="210.30" y="398.45" font-size="9.35" text-anchor="end" textLength="18.93" lengthAdjust="spacingAndGlyphs">0.14</text>
<line x1="212.60" y1="377.50" x2="215.10" y2="377.50" stroke="#000" stroke-width="0.8"/>
<text x="210.30" y="380.85" font-size="9.35" text-anchor="end" textLength="18.93" lengthAdjust="spacingAndGlyphs">0.16</text>
<line x1="258.50" y1="451.00" x2="258.50" y2="453.50" stroke="#000" stroke-width="0.8"/>
<line x1="321.50" y1="451.00" x2="321.50" y2="453.50" stroke="#000" stroke-width="0.8"/>
<clipPath id="c385_364"><rect x="385.20" y="364.00" width="128.50" height="87.00"/></clipPath>
<g clip-path="url(#c385_364)">
<path d="M392.5 367.4h0M393.4 380.8h0M399.5 378.8h0M394.3 386.3h0M395.3 388.5h0M399.9 393.7h0M401.2 396.7h0M403.1 402.7h0M396.4 405.3h0M402.1 407.0h0M405.0 412.2h0M397.3 415.3h0M405.9 416.1h0M399.2 426.0h0M400.5 429.9h0M407.6 422.1h0M410.2 423.4h0M413.4 421.7h0M411.1 424.6h0M411.8 427.2h0M414.2 430.3h0M414.5 424.3h0M414.7 425.6h0M415.2 430.5h0M416.7 430.7h0M416.9 426.2h0M417.1 425.4h0M417.7 432.4h0M419.9 428.7h0M420.1 429.4h0M421.1 428.5h0M421.9 426.3h0M422.1 422.4h0M423.8 430.7h0M425.1 423.4h0M425.6 425.0h0M426.2 421.7h0M429.6 428.4h0M429.7 427.7h0M431.2 425.6h0M431.3 427.5h0M432.0 423.4h0M432.1 427.4h0M432.8 425.6h0M432.9 427.2h0M434.7 431.3h0M436.0 426.4h0M436.8 430.7h0M439.0 429.2h0M439.5 429.7h0M441.1 427.8h0M443.5 433.7h0M443.7 425.9h0M445.2 427.3h0M445.3 429.5h0M445.7 432.8h0M448.9 433.6h0M449.6 431.2h0M450.3 432.7h0M451.5 430.5h0M452.6 429.4h0M453.8 428.8h0M454.2 430.4h0M455.1 433.9h0M455.9 425.6h0M456.3 425.2h0M456.7 433.5h0M461.7 432.4h0M462.1 424.7h0M463.7 427.0h0M464.5 431.0h0M465.8 429.5h0M466.0 435.9h0M466.1 431.8h0M467.2 428.0h0M467.7 437.8h0M467.8 430.1h0M469.9 435.2h0M471.0 426.6h0M474.4 435.9h0M474.7 436.2h0M475.3 434.4h0M475.4 434.6h0M476.8 431.9h0M477.5 428.9h0M477.8 436.6h0M478.1 434.1h0M478.3 431.4h0M478.9 435.9h0M480.2 430.7h0M481.4 431.3h0M481.5 431.2h0M481.5 432.6h0M482.5 430.4h0M483.3 428.4h0M483.4 432.7h0M484.4 428.6h0M485.8 431.7h0M485.9 437.2h0M486.3 428.1h0M488.2 431.0h0M488.7 427.9h0M490.1 433.1h0M490.7 431.5h0M492.0 433.2h0M496.1 435.5h0M499.9 430.3h0M500.0 426.3h0M500.8 430.4h0M502.7 431.8h0M502.9 432.9h0M503.1 434.8h0M504.8 430.0h0M505.1 428.9h0M505.6 431.9h0M506.2 432.0h0M506.7 432.7h0M506.7 433.8h0M508.7 421.5h0" stroke="#1f77b4" stroke-width="3.80" stroke-linecap="round" fill="none"/>
<path d="M392.5 423.8h0M393.4 431.2h0M399.2 415.7h0M403.1 418.9h0M416.0 413.7h0M425.1 422.8h0M394.7 434.4h0M397.3 440.9h0M406.4 426.8h0M407.4 431.2h0M407.7 423.4h0M408.7 425.4h0M409.2 430.3h0M409.4 432.8h0M410.3 423.2h0M411.0 434.8h0M411.8 431.1h0M412.0 427.8h0M413.6 432.7h0M414.2 429.6h0M414.4 427.2h0M416.2 430.5h0M417.2 433.7h0M417.4 431.3h0M417.7 429.5h0M419.3 425.1h0M419.8 433.0h0M420.5 423.9h0M420.7 432.4h0M423.4 424.4h0M424.6 421.7h0M426.3 424.9h0M426.8 430.3h0M426.8 423.6h0M426.9 425.5h0M427.8 427.9h0M428.8 430.4h0M428.8 431.1h0M431.9 430.5h0M433.3 422.2h0M433.8 428.3h0M434.5 428.6h0M436.5 432.1h0M436.9 429.2h0M437.4 431.5h0M437.5 433.0h0M437.6 430.1h0M440.1 432.4h0M440.1 430.2h0M442.3 431.2h0M443.3 433.5h0M443.5 429.1h0M443.6 428.9h0M444.4 438.9h0M444.5 431.9h0M446.3 431.8h0M447.6 432.2h0M447.9 426.7h0M449.4 431.1h0M449.4 432.9h0M449.5 434.2h0M449.9 429.2h0M451.8 437.5h0M452.0 432.8h0M452.6 433.9h0M453.4 433.2h0M454.0 432.9h0M454.8 436.1h0M457.5 436.3h0M457.5 432.3h0M458.6 435.2h0M459.2 427.2h0M459.7 431.1h0M460.7 436.3h0M461.5 430.6h0M461.5 433.2h0M462.3 431.6h0M462.5 427.0h0M464.7 429.4h0M465.2 436.0h0M467.8 431.1h0M468.2 434.5h0M468.7 429.3h0M469.4 433.2h0M470.1 438.8h0M470.2 441.0h0M471.6 435.7h0M471.9 436.2h0M472.2 436.1h0M474.6 425.7h0M475.9 433.2h0M476.5 430.5h0M476.5 437.1h0M477.7 431.4h0M480.0 435.8h0M481.0 439.5h0M482.6 435.0h0M484.3 434.0h0M485.4 437.7h0M487.6 428.7h0M489.1 433.6h0M490.9 439.4h0M493.4 441.7h0M495.2 431.1h0M496.2 431.0h0M496.7 431.5h0M497.4 437.1h0M498.6 437.1h0M500.5 431.7h0M500.5 435.3h0M500.7 433.8h0M500.8 431.4h0M502.0 429.8h0M502.4 436.6h0M503.3 434.4h0M506.0 432.9h0M506.3 436.0h0M508.8 430.3h0M464.9 405.1h0" stroke="#ffac5f" stroke-width="3.80" stroke-linecap="round" fill="none"/>
<path d="M392.5 425.4h0M393.4 432.5h0M394.3 434.4h0M395.3 436.4h0M396.4 439.6h0M397.3 442.2h0M398.6 444.8h0M399.9 446.7h0M399.2 418.9h0M400.5 422.1h0M402.5 421.5h0M416.0 418.3h0M403.8 426.0h0M405.0 429.2h0M406.3 431.8h0M407.6 429.9h0M408.9 432.5h0M410.9 433.8h0M412.2 435.7h0M413.4 425.4h0M415.4 430.5h0M404.3 428.4h0M404.4 434.2h0M404.5 428.4h0M407.5 430.6h0M409.1 429.4h0M410.3 427.5h0M411.4 429.2h0M411.6 433.7h0M411.7 426.4h0M412.4 428.7h0M412.4 428.1h0M412.5 430.1h0M413.4 429.7h0M414.0 434.6h0M415.3 435.1h0M415.3 432.3h0M416.4 432.5h0M417.6 429.5h0M417.7 437.4h0M419.5 432.3h0M419.8 433.2h0M420.9 427.0h0M421.0 432.5h0M421.1 432.4h0M422.2 430.5h0M422.9 429.3h0M423.7 437.3h0M425.2 435.0h0M425.4 428.9h0M425.7 430.0h0M425.8 431.0h0M426.1 426.0h0M426.2 436.2h0M427.0 430.8h0M427.8 432.8h0M428.6 430.2h0M429.7 433.6h0M430.8 430.4h0M431.9 423.8h0M433.0 429.4h0M433.0 430.6h0M434.0 426.1h0M434.2 429.2h0M435.3 424.3h0M435.5 434.2h0M436.3 435.0h0M437.0 438.2h0M437.2 434.6h0M437.6 437.9h0M439.7 426.7h0M440.2 431.3h0M440.7 430.0h0M441.0 431.2h0M441.3 431.8h0M443.1 432.8h0M444.7 437.0h0M445.0 427.1h0M446.6 433.5h0M447.1 426.4h0M447.1 430.0h0M447.7 436.8h0M448.9 433.8h0M449.4 433.9h0M449.9 434.6h0M451.1 434.8h0M451.3 433.1h0M451.7 435.0h0M452.3 435.5h0M452.8 432.8h0M453.6 433.1h0M453.7 434.9h0M456.6 432.1h0M456.6 434.9h0M457.2 432.2h0M457.7 433.6h0M457.8 429.8h0M458.8 439.6h0M460.4 428.1h0M460.4 435.3h0M460.5 429.8h0M461.4 435.9h0M463.7 434.7h0M464.7 432.8h0M469.1 436.0h0M469.1 436.4h0M469.9 435.4h0M470.9 429.9h0M472.2 440.8h0M472.3 435.2h0M472.8 430.4h0M473.4 436.1h0M474.5 430.0h0M474.5 441.7h0M477.5 440.0h0M478.9 437.3h0M480.6 438.4h0M480.6 438.0h0M480.7 433.6h0M480.9 439.3h0M481.0 434.6h0M481.1 434.7h0M481.6 436.2h0M481.8 428.4h0M482.3 436.8h0M482.5 428.5h0M482.9 437.6h0M483.2 433.8h0M484.0 434.3h0M485.1 438.0h0M485.3 432.9h0M488.6 431.0h0M490.4 432.7h0M493.6 434.8h0M493.7 430.3h0M495.3 432.4h0M495.3 433.5h0M497.1 441.5h0M497.2 435.5h0M499.0 432.0h0M501.1 438.8h0M501.9 441.3h0M502.1 437.9h0M503.0 435.7h0M504.5 440.6h0M505.2 436.5h0M505.6 434.0h0M508.0 438.2h0M508.4 436.9h0M508.5 430.3h0M508.8 435.3h0M464.9 407.2h0M465.2 424.6h0M508.7 425.6h0" stroke="#000000" stroke-width="3.80" stroke-linecap="round" fill="none"/>
</g>
<rect x="385.20" y="364.00" width="128.50" height="87.00" fill="none" stroke="#000" stroke-width="0.65"/>
<line x1="382.70" y1="432.50" x2="385.20" y2="432.50" stroke="#000" stroke-width="0.8"/>
<text x="380.40" y="436.35" font-size="9.35" text-anchor="end" textLength="18.93" lengthAdjust="spacingAndGlyphs">0.06</text>
<line x1="382.70" y1="412.50" x2="385.20" y2="412.50" stroke="#000" stroke-width="0.8"/>
<text x="380.40" y="415.85" font-size="9.35" text-anchor="end" textLength="18.93" lengthAdjust="spacingAndGlyphs">0.08</text>
<line x1="382.70" y1="391.50" x2="385.20" y2="391.50" stroke="#000" stroke-width="0.8"/>
<text x="380.40" y="395.35" font-size="9.35" text-anchor="end" textLength="18.93" lengthAdjust="spacingAndGlyphs">0.10</text>
<line x1="382.70" y1="371.50" x2="385.20" y2="371.50" stroke="#000" stroke-width="0.8"/>
<text x="380.40" y="374.85" font-size="9.35" text-anchor="end" textLength="18.93" lengthAdjust="spacingAndGlyphs">0.12</text>
<line x1="428.50" y1="451.00" x2="428.50" y2="453.50" stroke="#000" stroke-width="0.8"/>
<line x1="491.50" y1="451.00" x2="491.50" y2="453.50" stroke="#000" stroke-width="0.8"/>
<clipPath id="c555_364"><rect x="555.30" y="364.00" width="128.50" height="87.00"/></clipPath>
<g clip-path="url(#c555_364)">
<path d="M562.5 367.4h0M563.4 382.7h0M569.5 383.7h0M564.3 387.6h0M565.3 388.5h0M569.9 398.2h0M571.2 400.1h0M573.1 404.7h0M566.4 406.6h0M572.1 410.5h0M575.0 414.4h0M567.3 415.3h0M576.3 417.0h0M567.9 417.6h0M573.1 418.9h0M586.0 418.6h0M577.0 422.1h0M579.6 424.1h0M582.8 422.1h0M569.2 429.2h0M581.1 423.0h0M583.1 423.4h0M584.4 421.3h0M585.2 428.8h0M585.4 423.1h0M586.3 424.5h0M586.5 421.7h0M587.6 430.2h0M587.8 427.5h0M588.2 429.2h0M588.3 426.6h0M589.7 425.6h0M591.3 424.3h0M593.0 425.6h0M593.5 426.1h0M593.7 425.9h0M595.1 430.2h0M596.3 427.8h0M596.4 424.5h0M597.1 432.1h0M597.8 432.8h0M598.1 426.3h0M598.1 431.3h0M600.4 432.1h0M601.4 429.2h0M603.2 429.3h0M604.5 426.9h0M604.8 434.3h0M606.6 432.8h0M606.7 432.9h0M608.4 431.0h0M608.5 428.5h0M612.9 434.4h0M614.4 426.9h0M614.5 429.0h0M615.8 434.7h0M615.8 423.2h0M616.1 425.7h0M617.0 431.9h0M617.8 429.2h0M618.4 436.1h0M619.7 426.6h0M619.7 431.5h0M621.8 433.9h0M623.6 430.4h0M623.8 434.4h0M624.5 431.9h0M624.6 429.7h0M629.1 426.1h0M629.5 429.0h0M631.9 430.8h0M632.8 427.3h0M633.7 432.1h0M634.1 432.5h0M634.4 428.8h0M634.7 432.8h0M634.9 433.6h0M638.5 428.8h0M639.4 432.6h0M640.2 430.0h0M641.0 431.6h0M642.5 433.8h0M643.0 428.9h0M643.7 432.0h0M644.7 429.0h0M646.6 433.4h0M646.7 430.8h0M648.2 431.2h0M648.3 434.6h0M650.3 433.0h0M650.4 432.8h0M650.4 435.2h0M650.9 432.4h0M652.2 433.0h0M653.4 434.7h0M654.3 432.3h0M655.3 430.0h0M655.4 434.4h0M657.0 432.8h0M659.9 436.1h0M661.8 435.4h0M662.7 434.0h0M662.7 434.4h0M665.1 433.1h0M665.6 430.5h0M666.9 425.0h0M669.0 431.2h0M670.3 432.1h0M671.2 435.1h0M672.7 429.3h0M672.7 438.3h0M673.0 437.3h0M673.7 434.0h0M674.0 430.9h0M675.8 425.0h0M676.2 430.4h0M676.5 431.8h0M677.3 438.1h0M678.5 427.8h0M678.8 433.3h0M635.0 403.7h0M678.8 425.2h0" stroke="#1f77b4" stroke-width="3.80" stroke-linecap="round" fill="none"/>
<path d="M562.5 429.9h0M565.3 436.7h0M569.2 421.2h0M573.1 422.1h0M584.7 424.1h0M567.9 439.6h0M570.5 444.8h0M577.4 423.9h0M577.6 428.9h0M577.7 432.1h0M578.0 425.4h0M578.4 419.8h0M579.2 428.0h0M579.9 425.7h0M581.2 429.5h0M583.2 423.8h0M584.4 433.8h0M584.4 422.0h0M587.1 427.8h0M587.8 423.7h0M590.2 420.8h0M591.5 432.4h0M592.1 429.4h0M595.0 431.6h0M596.0 425.7h0M596.0 424.4h0M596.5 425.9h0M596.6 424.4h0M596.7 427.7h0M598.0 430.9h0M598.6 429.5h0M599.5 427.1h0M600.7 427.5h0M602.7 428.4h0M603.1 424.3h0M604.0 434.1h0M604.8 430.7h0M606.5 427.0h0M606.9 428.5h0M607.3 425.3h0M609.1 430.3h0M609.8 427.6h0M611.4 430.8h0M612.4 430.8h0M612.5 424.3h0M613.5 425.9h0M615.1 433.1h0M615.2 428.3h0M616.0 428.0h0M619.3 426.7h0M620.5 427.7h0M623.1 428.6h0M624.7 435.7h0M625.2 426.4h0M625.2 430.3h0M625.2 428.0h0M625.3 428.8h0M626.5 427.7h0M627.3 424.1h0M628.2 431.0h0M629.3 429.3h0M630.1 429.2h0M631.1 425.5h0M631.2 426.9h0M631.4 434.6h0M631.7 433.1h0M633.1 430.5h0M635.1 427.9h0M638.3 431.1h0M641.0 431.1h0M641.6 436.9h0M641.7 432.5h0M642.0 433.4h0M642.8 428.9h0M643.1 431.1h0M643.8 431.3h0M644.0 431.5h0M644.1 429.6h0M644.6 430.7h0M644.7 429.9h0M644.8 432.9h0M645.3 430.8h0M646.7 426.1h0M646.9 430.4h0M646.9 430.7h0M647.7 429.4h0M648.2 435.1h0M649.7 433.6h0M651.9 426.3h0M653.4 431.5h0M655.9 433.4h0M656.1 431.7h0M656.9 432.0h0M657.2 432.3h0M657.5 431.2h0M657.9 434.6h0M658.1 433.4h0M658.9 431.0h0M659.3 437.3h0M659.3 432.5h0M659.9 431.7h0M661.4 436.8h0M662.0 427.9h0M663.4 431.3h0M663.9 426.3h0M664.8 434.1h0M666.6 431.4h0M668.2 432.0h0M669.4 427.4h0M670.7 426.7h0M672.3 431.1h0M673.3 434.0h0M673.9 431.3h0M677.8 428.8h0M677.8 429.9h0M677.9 434.8h0M678.8 430.3h0M635.0 407.8h0" stroke="#ffac5f" stroke-width="3.80" stroke-linecap="round" fill="none"/>
<path d="M562.5 434.7h0M563.4 439.6h0M564.7 440.2h0M566.0 441.5h0M567.3 443.5h0M568.6 445.4h0M569.9 447.1h0M569.2 426.0h0M570.5 427.3h0M572.5 425.4h0M586.0 422.8h0M573.8 428.6h0M575.0 429.9h0M577.0 431.8h0M579.6 429.2h0M580.9 432.5h0M582.2 434.4h0M583.4 426.7h0M575.5 427.8h0M576.9 426.6h0M577.7 425.7h0M577.9 424.7h0M579.2 422.5h0M579.6 422.4h0M580.1 428.5h0M580.5 431.3h0M580.7 426.1h0M580.9 432.1h0M581.0 431.0h0M582.2 429.3h0M582.5 431.5h0M582.5 429.8h0M582.6 426.1h0M585.0 426.2h0M586.3 426.7h0M586.4 430.3h0M587.5 424.3h0M587.5 425.6h0M587.9 434.8h0M588.9 429.2h0M589.7 425.4h0M590.5 429.5h0M591.0 425.3h0M593.6 428.7h0M594.0 422.1h0M594.6 429.4h0M594.7 431.5h0M597.0 428.9h0M598.7 431.3h0M599.6 430.2h0M602.6 431.3h0M603.6 432.7h0M604.6 426.2h0M604.8 429.5h0M605.1 428.8h0M606.3 434.7h0M606.5 425.4h0M606.5 435.6h0M611.0 430.4h0M611.5 429.6h0M612.2 435.0h0M614.9 425.0h0M615.5 431.9h0M617.3 431.8h0M617.8 429.5h0M619.8 427.7h0M620.6 428.5h0M621.1 432.7h0M621.6 429.7h0M624.6 430.6h0M624.7 427.5h0M624.9 426.7h0M625.1 430.3h0M625.7 429.5h0M625.7 427.5h0M626.2 430.5h0M626.9 429.9h0M628.0 426.8h0M628.1 430.2h0M628.6 429.8h0M628.6 432.6h0M629.6 432.0h0M630.7 430.7h0M631.2 428.0h0M631.9 435.1h0M632.9 432.0h0M633.6 429.9h0M633.8 428.8h0M634.2 430.6h0M634.4 433.0h0M634.8 429.0h0M634.9 430.6h0M636.7 429.9h0M640.9 433.8h0M641.3 431.0h0M641.6 432.4h0M642.5 433.0h0M642.9 435.5h0M643.2 435.6h0M643.4 436.9h0M644.9 428.0h0M645.0 433.9h0M646.2 426.1h0M646.7 437.9h0M648.7 433.0h0M648.9 428.3h0M649.1 436.2h0M649.4 436.1h0M649.5 431.3h0M650.4 430.7h0M650.9 432.1h0M652.1 434.8h0M652.2 432.7h0M654.7 426.0h0M655.6 428.8h0M656.1 432.1h0M656.2 434.9h0M656.4 433.5h0M656.6 427.4h0M656.8 428.9h0M657.5 437.2h0M657.7 434.8h0M660.5 430.6h0M661.1 426.7h0M661.3 437.0h0M661.5 432.0h0M662.0 428.2h0M662.9 428.8h0M664.2 436.7h0M664.2 434.4h0M664.7 430.9h0M665.5 434.0h0M665.6 430.4h0M666.1 432.4h0M666.8 428.5h0M667.2 437.4h0M667.3 433.3h0M667.3 428.0h0M668.2 435.8h0M670.2 430.3h0M673.3 434.5h0M673.6 433.8h0M674.2 428.3h0M674.9 429.4h0M674.9 429.2h0M675.5 436.3h0M677.4 431.3h0M677.8 431.5h0M635.0 409.9h0M635.3 424.1h0M678.8 426.2h0" stroke="#000000" stroke-width="3.80" stroke-linecap="round" fill="none"/>
</g>
<rect x="555.30" y="364.00" width="128.50" height="87.00" fill="none" stroke="#000" stroke-width="0.65"/>
<line x1="552.80" y1="442.50" x2="555.30" y2="442.50" stroke="#000" stroke-width="0.8"/>
<text x="550.50" y="446.05" font-size="9.35" text-anchor="end" textLength="18.93" lengthAdjust="spacingAndGlyphs">0.04</text>
<line x1="552.80" y1="422.50" x2="555.30" y2="422.50" stroke="#000" stroke-width="0.8"/>
<text x="550.50" y="425.65" font-size="9.35" text-anchor="end" textLength="18.93" lengthAdjust="spacingAndGlyphs">0.06</text>
<line x1="552.80" y1="401.50" x2="555.30" y2="401.50" stroke="#000" stroke-width="0.8"/>
<text x="550.50" y="405.25" font-size="9.35" text-anchor="end" textLength="18.93" lengthAdjust="spacingAndGlyphs">0.08</text>
<line x1="552.80" y1="381.50" x2="555.30" y2="381.50" stroke="#000" stroke-width="0.8"/>
<text x="550.50" y="384.85" font-size="9.35" text-anchor="end" textLength="18.93" lengthAdjust="spacingAndGlyphs">0.10</text>
<line x1="598.50" y1="451.00" x2="598.50" y2="453.50" stroke="#000" stroke-width="0.8"/>
<line x1="661.50" y1="451.00" x2="661.50" y2="453.50" stroke="#000" stroke-width="0.8"/>
<clipPath id="c215_463"><rect x="215.10" y="463.50" width="128.50" height="87.00"/></clipPath>
<g clip-path="url(#c215_463)">
<path d="M220.8 475.6h0M221.5 486.6h0M222.5 491.7h0M223.8 496.9h0M225.3 517.6h0M229.5 528.6h0M231.2 534.4h0M239.9 545.9h0M240.1 545.0h0M240.3 544.6h0M240.5 545.8h0M244.5 544.5h0M245.1 543.7h0M246.3 545.3h0M247.2 544.1h0M247.5 544.1h0M247.7 544.6h0M248.1 544.2h0M248.3 544.8h0M249.0 544.0h0M249.9 543.4h0M250.8 544.3h0M251.7 544.4h0M252.4 545.0h0M252.4 543.1h0M252.6 543.1h0M252.6 544.3h0M252.7 544.0h0M253.9 544.0h0M254.2 543.3h0M254.5 544.7h0M255.9 543.5h0M256.4 544.9h0M257.5 543.4h0M259.5 543.8h0M261.7 542.3h0M262.7 542.4h0M262.8 543.0h0M263.1 543.0h0M263.5 543.1h0M263.6 541.6h0M263.7 541.9h0M265.1 542.4h0M267.8 542.1h0M267.8 541.2h0M268.1 541.4h0M268.4 541.6h0M269.0 541.1h0M269.1 540.8h0M269.6 541.1h0M269.7 540.7h0M273.4 540.4h0M274.1 540.1h0M274.2 540.5h0M277.9 539.3h0M278.7 539.5h0M279.1 539.6h0M279.1 539.4h0M279.2 539.6h0M280.6 539.4h0M281.1 538.9h0M281.3 538.7h0M281.6 539.9h0M282.3 539.1h0M282.7 538.9h0M283.0 539.5h0M284.4 538.5h0M284.7 538.8h0M285.3 538.8h0M285.8 539.4h0M286.0 539.2h0M287.7 538.2h0M289.7 537.0h0M289.9 538.1h0M289.9 538.9h0M290.1 537.2h0M291.1 537.6h0M291.2 537.1h0M292.2 537.8h0M292.8 537.0h0M294.1 537.1h0M295.1 537.7h0M295.1 537.3h0M296.1 536.9h0M298.1 537.5h0M298.2 536.5h0M298.9 537.3h0M298.9 536.7h0M299.5 537.3h0M299.6 536.9h0M299.8 536.9h0M300.8 538.2h0M301.0 537.4h0M301.5 537.0h0M301.8 537.5h0M301.9 536.6h0M303.1 536.8h0M303.6 537.9h0M304.0 537.4h0M304.8 537.3h0M307.8 538.1h0M308.0 537.0h0M308.3 537.4h0M310.9 537.9h0M314.9 538.7h0M315.6 538.7h0M316.4 538.8h0M318.2 538.1h0M318.9 539.0h0M321.1 538.3h0M321.3 537.7h0M321.8 539.5h0M321.9 539.1h0M322.1 538.3h0M322.9 538.8h0M323.3 539.4h0M323.5 539.1h0M323.5 539.1h0M324.0 538.7h0M326.0 539.8h0M326.8 539.6h0M326.9 539.5h0M327.4 539.4h0M327.5 539.7h0M328.5 540.4h0M329.1 540.4h0M329.5 539.2h0M330.6 540.2h0M330.7 539.9h0M333.1 540.3h0M333.6 540.2h0M334.1 539.7h0M334.4 540.4h0M334.5 540.1h0M335.2 540.3h0M336.1 540.6h0M336.7 541.3h0" stroke="#1f77b4" stroke-width="3.80" stroke-linecap="round" fill="none"/>
<path d="M220.8 467.2h0M221.5 478.2h0M223.0 485.3h0M223.8 490.2h0M224.3 506.6h0M227.9 509.6h0M225.3 514.4h0M231.2 520.2h0M226.6 522.8h0M229.2 529.2h0M230.5 532.5h0M233.1 534.4h0M235.0 539.6h0M240.4 544.1h0M240.5 545.1h0M240.6 544.5h0M240.9 544.7h0M242.1 545.0h0M242.7 544.7h0M242.7 544.6h0M242.9 545.0h0M243.3 543.6h0M244.3 545.2h0M244.4 544.7h0M244.7 544.1h0M245.6 544.4h0M248.4 544.0h0M249.3 545.2h0M250.9 544.5h0M252.2 544.4h0M252.6 543.7h0M252.6 544.8h0M255.5 544.3h0M256.1 543.3h0M256.4 544.0h0M256.6 544.0h0M256.8 544.2h0M257.4 543.6h0M257.4 545.1h0M258.6 544.5h0M259.0 544.4h0M259.4 544.0h0M259.7 544.0h0M259.9 545.0h0M260.5 543.8h0M260.8 544.2h0M261.5 542.6h0M261.5 543.8h0M261.7 543.1h0M263.8 543.6h0M264.8 543.3h0M266.3 543.4h0M266.6 542.5h0M269.3 541.8h0M270.7 542.9h0M270.9 542.0h0M270.9 541.8h0M271.9 541.4h0M273.4 542.2h0M274.5 541.1h0M275.3 542.4h0M275.7 541.6h0M278.2 541.8h0M279.0 541.6h0M281.5 540.7h0M282.2 541.0h0M282.9 540.2h0M283.2 541.2h0M283.5 541.5h0M283.8 540.5h0M284.4 540.9h0M286.4 541.1h0M286.7 540.2h0M287.5 540.1h0M287.8 541.5h0M289.7 540.8h0M290.0 540.0h0M290.2 541.0h0M290.2 539.7h0M290.8 540.6h0M290.9 540.3h0M293.2 540.3h0M293.2 540.9h0M295.4 540.3h0M295.8 540.5h0M296.1 540.3h0M296.5 539.6h0M297.7 539.8h0M299.5 540.2h0M300.0 540.0h0M300.8 539.4h0M302.7 540.1h0M304.9 540.3h0M305.6 539.8h0M306.5 540.4h0M306.9 540.7h0M307.6 539.2h0M308.0 540.7h0M308.3 540.0h0M308.9 539.9h0M309.3 540.3h0M309.4 539.2h0M309.6 539.2h0M310.0 539.9h0M311.6 540.9h0M312.2 539.9h0M312.8 541.0h0M313.6 539.8h0M313.6 539.7h0M313.6 540.0h0M315.4 539.5h0M315.9 540.0h0M316.3 540.6h0M317.2 540.4h0M318.1 539.6h0M318.6 541.2h0M319.4 540.0h0M319.8 540.8h0M320.2 539.1h0M320.4 541.0h0M321.9 541.3h0M322.2 539.8h0M323.9 540.0h0M324.1 540.8h0M324.8 540.6h0M324.9 541.3h0M325.2 540.7h0M326.2 540.3h0M326.2 540.5h0M326.5 540.7h0M327.6 541.1h0M327.7 540.2h0M327.9 539.9h0M330.1 540.2h0M331.3 541.7h0M332.2 541.0h0M332.2 541.5h0M333.1 541.3h0M334.2 541.0h0M334.7 540.2h0M337.1 541.3h0M337.7 541.5h0M338.8 541.8h0" stroke="#ffac5f" stroke-width="3.80" stroke-linecap="round" fill="none"/>
<path d="M220.8 471.3h0M222.1 484.0h0M222.8 490.4h0M223.8 495.4h0M224.3 510.9h0M227.9 513.1h0M226.0 518.9h0M226.9 521.5h0M231.6 525.1h0M227.9 527.3h0M228.6 529.2h0M230.5 536.4h0M233.1 536.4h0M231.8 540.2h0M235.0 542.2h0M236.3 544.1h0M238.3 544.8h0M240.2 544.1h0M242.2 544.8h0M244.1 543.5h0M240.1 545.4h0M242.0 545.4h0M243.3 545.7h0M243.9 546.0h0M244.5 546.2h0M244.7 544.8h0M244.9 546.7h0M246.7 545.4h0M246.8 546.0h0M247.2 546.0h0M251.3 546.9h0M253.0 545.9h0M253.5 546.2h0M253.6 545.2h0M253.7 546.2h0M254.8 546.4h0M254.8 546.5h0M256.0 545.1h0M256.5 545.3h0M256.5 545.9h0M257.3 544.6h0M257.5 545.4h0M257.6 545.8h0M259.1 545.2h0M260.2 546.1h0M260.5 545.3h0M261.4 546.0h0M262.5 544.9h0M262.7 544.9h0M264.0 545.2h0M264.3 544.5h0M266.3 545.5h0M266.6 544.7h0M267.2 545.1h0M268.0 545.7h0M268.0 544.6h0M268.5 544.0h0M269.4 543.6h0M269.8 544.8h0M269.9 544.6h0M270.1 543.9h0M270.4 545.5h0M272.2 543.9h0M272.3 545.8h0M272.5 545.4h0M275.8 544.7h0M276.0 544.8h0M276.1 544.0h0M276.8 545.2h0M277.6 544.6h0M277.7 544.7h0M277.9 544.4h0M278.1 544.1h0M279.6 543.9h0M280.3 544.2h0M280.5 544.2h0M283.0 544.2h0M283.3 545.2h0M284.8 545.3h0M285.4 543.9h0M285.5 545.0h0M285.6 544.6h0M285.7 544.0h0M286.1 544.3h0M287.3 544.5h0M288.4 544.5h0M288.9 544.0h0M290.2 543.1h0M290.5 544.9h0M290.5 544.1h0M291.0 543.3h0M291.6 543.7h0M292.2 544.2h0M293.7 543.7h0M296.3 543.4h0M297.1 543.0h0M297.6 544.6h0M298.3 544.1h0M299.3 543.4h0M299.7 543.3h0M300.7 543.4h0M300.7 543.3h0M301.1 543.0h0M302.6 543.2h0M304.5 542.2h0M305.6 543.9h0M305.8 543.7h0M306.5 544.3h0M306.7 543.1h0M308.2 543.3h0M308.3 543.5h0M309.0 544.1h0M309.4 542.2h0M310.4 543.1h0M310.5 542.9h0M310.7 544.2h0M311.2 543.2h0M311.8 543.0h0M312.4 542.3h0M313.0 543.0h0M313.0 542.7h0M315.0 544.2h0M315.0 543.4h0M315.2 543.2h0M315.2 543.3h0M316.3 543.4h0M317.0 543.4h0M317.2 542.5h0M317.6 543.5h0M317.9 542.8h0M318.8 542.8h0M319.0 543.4h0M319.5 543.1h0M319.5 544.5h0M320.1 543.5h0M320.6 542.5h0M321.0 543.5h0M321.0 544.4h0M321.9 542.5h0M323.4 543.8h0M323.9 542.2h0M324.0 543.0h0M324.4 543.8h0M324.7 543.4h0M324.9 542.0h0M325.4 542.8h0M325.4 543.0h0M325.7 542.8h0M327.6 542.9h0M327.7 543.2h0M328.7 542.4h0M328.7 541.9h0M328.8 542.7h0M330.3 541.7h0M330.6 542.0h0M331.3 543.5h0M331.4 542.2h0M332.1 541.8h0M335.9 543.6h0M336.9 542.7h0" stroke="#000000" stroke-width="3.80" stroke-linecap="round" fill="none"/>
</g>
<rect x="215.10" y="463.50" width="128.50" height="87.00" fill="none" stroke="#000" stroke-width="0.65"/>
<line x1="212.60" y1="533.50" x2="215.10" y2="533.50" stroke="#000" stroke-width="0.8"/>
<text x="210.30" y="537.35" font-size="9.35" text-anchor="end" textLength="18.93" lengthAdjust="spacingAndGlyphs">0.20</text>
<line x1="212.60" y1="514.50" x2="215.10" y2="514.50" stroke="#000" stroke-width="0.8"/>
<text x="210.30" y="517.65" font-size="9.35" text-anchor="end" textLength="18.93" lengthAdjust="spacingAndGlyphs">0.40</text>
<line x1="212.60" y1="494.50" x2="215.10" y2="494.50" stroke="#000" stroke-width="0.8"/>
<text x="210.30" y="497.95" font-size="9.35" text-anchor="end" textLength="18.93" lengthAdjust="spacingAndGlyphs">0.60</text>
<line x1="212.60" y1="474.50" x2="215.10" y2="474.50" stroke="#000" stroke-width="0.8"/>
<text x="210.30" y="478.25" font-size="9.35" text-anchor="end" textLength="18.93" lengthAdjust="spacingAndGlyphs">0.80</text>
<line x1="258.50" y1="550.50" x2="258.50" y2="553.00" stroke="#000" stroke-width="0.8"/>
<line x1="321.50" y1="550.50" x2="321.50" y2="553.00" stroke="#000" stroke-width="0.8"/>
<clipPath id="c385_463"><rect x="385.20" y="463.50" width="128.50" height="87.00"/></clipPath>
<g clip-path="url(#c385_463)">
<path d="M392.5 467.2h0M393.4 479.1h0M394.3 485.7h0M395.3 491.5h0M396.4 507.3h0M399.9 507.5h0M397.3 514.8h0M398.2 518.6h0M399.2 523.4h0M400.5 524.1h0M403.1 525.4h0M401.2 528.2h0M402.5 532.5h0M405.0 532.9h0M406.3 535.7h0M408.9 538.3h0M412.2 538.3h0M415.4 538.0h0M412.5 540.6h0M415.0 540.9h0M416.2 540.3h0M417.2 541.6h0M417.7 541.8h0M419.2 542.0h0M420.7 540.9h0M421.3 542.3h0M421.3 541.4h0M421.8 542.5h0M423.6 541.1h0M424.3 541.4h0M425.1 541.8h0M428.8 541.2h0M429.4 541.0h0M429.4 541.7h0M429.6 540.5h0M430.3 541.3h0M430.6 540.9h0M434.6 541.8h0M436.3 542.0h0M437.4 542.7h0M437.5 542.2h0M437.6 542.7h0M437.7 542.8h0M438.3 542.3h0M438.4 543.6h0M438.8 541.2h0M439.9 542.4h0M440.0 543.5h0M440.1 543.1h0M440.2 542.6h0M441.3 542.6h0M441.9 542.2h0M444.1 542.7h0M445.6 542.1h0M445.8 542.5h0M446.9 543.0h0M448.6 543.0h0M451.2 543.1h0M451.3 542.6h0M455.6 542.9h0M456.3 544.3h0M458.7 543.4h0M458.8 544.0h0M459.7 541.9h0M460.9 543.1h0M461.3 543.2h0M462.0 544.3h0M462.3 544.4h0M462.7 542.9h0M463.7 543.1h0M463.9 544.0h0M466.0 543.8h0M466.7 543.0h0M466.9 543.6h0M469.9 544.5h0M471.0 544.4h0M471.8 544.1h0M473.0 544.0h0M473.1 543.9h0M473.8 544.7h0M473.9 543.8h0M474.2 543.4h0M475.1 543.5h0M477.6 544.6h0M477.9 544.0h0M479.7 544.8h0M481.6 543.3h0M483.4 544.5h0M484.1 544.4h0M484.6 545.1h0M484.8 543.1h0M485.6 544.1h0M486.3 544.7h0M486.5 545.0h0M487.7 543.9h0M488.3 545.1h0M488.5 545.2h0M492.7 545.1h0M494.7 543.8h0M495.6 545.2h0M496.3 545.2h0M497.6 544.3h0M498.1 545.4h0M500.5 543.6h0M500.5 544.9h0M501.3 544.2h0M501.5 544.1h0M503.7 544.9h0M504.3 545.5h0M504.3 544.5h0M505.3 545.2h0M505.9 544.6h0M506.4 543.9h0M506.5 545.1h0M506.6 543.8h0M507.5 544.2h0M508.0 545.6h0M508.5 543.8h0" stroke="#1f77b4" stroke-width="3.80" stroke-linecap="round" fill="none"/>
<path d="M392.5 528.0h0M397.9 533.8h0M399.9 535.7h0M401.8 536.4h0M408.4 540.3h0M409.0 541.7h0M409.7 542.7h0M409.7 541.3h0M414.1 542.8h0M414.1 541.3h0M414.9 542.7h0M415.0 542.2h0M415.3 542.5h0M415.3 542.0h0M415.9 541.7h0M416.3 542.2h0M417.8 543.4h0M417.8 541.4h0M418.3 541.7h0M419.8 543.8h0M422.8 541.5h0M423.0 542.8h0M423.6 542.3h0M424.1 542.0h0M425.3 541.4h0M425.8 542.5h0M427.4 542.9h0M428.3 542.5h0M431.3 542.2h0M432.1 543.9h0M432.2 543.3h0M434.9 543.0h0M435.1 543.4h0M436.0 543.1h0M436.6 542.8h0M438.0 543.0h0M439.7 542.0h0M440.2 543.5h0M440.7 542.7h0M443.8 542.9h0M443.9 541.8h0M444.6 541.5h0M445.6 543.4h0M446.9 543.1h0M447.5 543.5h0M448.4 543.2h0M448.9 543.3h0M449.5 543.6h0M451.1 544.0h0M451.2 543.7h0M451.5 545.0h0M452.1 542.3h0M453.1 544.1h0M454.4 544.8h0M454.7 542.8h0M455.4 543.7h0M455.7 542.0h0M456.7 544.5h0M458.5 543.4h0M458.8 544.3h0M459.0 543.6h0M459.3 544.3h0M459.7 543.9h0M460.1 544.3h0M460.2 544.1h0M462.5 542.6h0M463.4 543.9h0M463.6 543.1h0M463.7 544.4h0M464.4 543.4h0M466.0 545.0h0M466.4 544.8h0M466.9 543.5h0M468.1 544.4h0M472.1 546.2h0M472.5 544.7h0M473.5 545.3h0M474.1 544.2h0M475.0 544.7h0M475.7 544.1h0M476.1 544.7h0M476.6 545.5h0M477.0 546.3h0M478.0 545.8h0M479.4 545.6h0M480.1 546.6h0M480.2 544.6h0M482.8 546.6h0M484.2 544.7h0M484.5 544.8h0M484.5 543.5h0M485.0 544.9h0M485.0 545.7h0M485.9 545.3h0M487.4 544.5h0M488.0 543.9h0M489.0 546.0h0M490.8 544.4h0M491.0 544.1h0M491.3 546.5h0M491.6 547.0h0M492.1 547.1h0M492.2 545.8h0M492.7 543.9h0M495.6 545.8h0M496.9 546.7h0M497.9 544.3h0M498.7 547.1h0M499.9 546.4h0M500.1 544.7h0M502.5 544.8h0M504.6 546.4h0M504.7 544.4h0M508.7 545.6h0" stroke="#ffac5f" stroke-width="3.80" stroke-linecap="round" fill="none"/>
<path d="M392.1 531.2h0M392.8 533.1h0M393.8 535.1h0M394.7 536.7h0M396.0 538.3h0M397.3 539.6h0M398.6 540.9h0M399.9 541.5h0M401.8 542.2h0M403.1 540.9h0M404.4 539.6h0M405.7 540.9h0M407.0 542.2h0M408.3 541.5h0M409.6 540.9h0M410.9 540.2h0M412.2 541.5h0M413.4 542.2h0M403.9 542.4h0M405.0 540.9h0M406.1 540.7h0M407.0 542.2h0M409.1 543.5h0M409.8 540.5h0M410.6 541.7h0M413.0 542.1h0M413.0 542.5h0M414.0 543.1h0M415.3 543.3h0M415.7 542.7h0M416.6 542.8h0M418.0 543.2h0M418.1 543.6h0M418.8 542.8h0M419.9 543.9h0M421.1 544.4h0M422.2 544.3h0M422.6 544.5h0M424.7 542.8h0M425.8 544.0h0M426.9 542.8h0M427.7 543.2h0M428.1 542.1h0M429.7 543.0h0M429.9 542.9h0M430.7 544.0h0M431.0 545.0h0M432.7 543.1h0M432.7 542.7h0M433.7 544.0h0M434.1 544.1h0M434.2 544.0h0M435.9 544.3h0M437.0 542.8h0M437.4 543.9h0M439.9 543.2h0M440.6 543.6h0M441.2 544.5h0M441.7 542.3h0M441.9 544.0h0M442.3 544.5h0M443.7 542.8h0M444.1 543.4h0M445.0 544.2h0M446.0 544.8h0M446.8 545.2h0M447.6 544.8h0M449.7 543.7h0M449.8 544.8h0M450.1 543.3h0M450.2 544.4h0M450.9 543.4h0M452.5 544.8h0M453.1 544.0h0M453.4 544.1h0M453.6 544.3h0M454.9 544.2h0M456.3 544.7h0M458.3 544.5h0M459.3 543.0h0M459.9 544.3h0M460.0 543.4h0M460.8 543.4h0M460.9 544.1h0M461.2 543.6h0M461.4 544.2h0M461.8 544.6h0M462.3 544.8h0M462.7 545.2h0M462.8 545.3h0M463.8 543.2h0M464.1 544.7h0M464.6 544.7h0M466.5 544.1h0M467.3 546.6h0M468.4 544.7h0M468.9 544.7h0M469.4 544.9h0M470.1 545.5h0M470.2 545.3h0M470.6 544.2h0M471.3 544.0h0M471.4 544.5h0M471.9 545.0h0M472.2 545.0h0M472.7 545.3h0M473.1 546.1h0M473.2 544.9h0M474.4 545.9h0M475.3 546.7h0M475.3 545.4h0M475.5 545.7h0M477.3 545.7h0M477.3 545.6h0M478.4 546.5h0M478.6 545.9h0M481.2 546.1h0M481.6 547.0h0M481.9 545.4h0M483.5 545.1h0M484.2 546.0h0M484.3 546.0h0M484.7 545.9h0M486.3 545.7h0M487.6 546.9h0M488.7 546.1h0M489.6 546.5h0M490.0 547.0h0M490.2 546.3h0M491.4 546.9h0M492.4 546.5h0M492.6 545.5h0M493.2 544.8h0M494.0 546.5h0M494.4 547.1h0M496.3 545.2h0M497.2 546.9h0M497.3 545.8h0M497.7 546.0h0M497.7 545.9h0M498.4 546.3h0M499.7 547.1h0M499.8 545.5h0M500.2 546.2h0M500.6 546.8h0M501.8 545.9h0M502.8 546.6h0M502.9 544.2h0M503.1 545.6h0M504.0 546.7h0M504.7 546.1h0M505.8 546.5h0M505.8 546.7h0M505.9 546.7h0M506.0 546.2h0M508.5 545.7h0M508.6 545.9h0M508.9 546.2h0" stroke="#000000" stroke-width="3.80" stroke-linecap="round" fill="none"/>
</g>
<rect x="385.20" y="463.50" width="128.50" height="87.00" fill="none" stroke="#000" stroke-width="0.65"/>
<line x1="382.70" y1="550.50" x2="385.20" y2="550.50" stroke="#000" stroke-width="0.8"/>
<text x="380.40" y="553.65" font-size="9.35" text-anchor="end" textLength="18.93" lengthAdjust="spacingAndGlyphs">0.00</text>
<line x1="382.70" y1="523.50" x2="385.20" y2="523.50" stroke="#000" stroke-width="0.8"/>
<text x="380.40" y="527.22" font-size="9.35" text-anchor="end" textLength="18.93" lengthAdjust="spacingAndGlyphs">0.20</text>
<line x1="382.70" y1="497.50" x2="385.20" y2="497.50" stroke="#000" stroke-width="0.8"/>
<text x="380.40" y="500.79" font-size="9.35" text-anchor="end" textLength="18.93" lengthAdjust="spacingAndGlyphs">0.40</text>
<line x1="382.70" y1="470.50" x2="385.20" y2="470.50" stroke="#000" stroke-width="0.8"/>
<text x="380.40" y="474.35" font-size="9.35" text-anchor="end" textLength="18.93" lengthAdjust="spacingAndGlyphs">0.60</text>
<line x1="428.50" y1="550.50" x2="428.50" y2="553.00" stroke="#000" stroke-width="0.8"/>
<line x1="491.50" y1="550.50" x2="491.50" y2="553.00" stroke="#000" stroke-width="0.8"/>
<clipPath id="c555_463"><rect x="555.30" y="463.50" width="128.50" height="87.00"/></clipPath>
<g clip-path="url(#c555_463)">
<path d="M562.5 467.2h0M563.4 478.2h0M564.3 486.3h0M565.3 492.4h0M569.5 496.9h0M566.4 505.3h0M567.3 510.9h0M568.6 515.0h0M570.5 514.4h0M573.1 515.0h0M569.0 519.5h0M571.2 521.2h0M570.3 524.1h0M574.4 528.0h0M572.5 529.2h0M575.7 531.8h0M574.1 533.8h0M577.6 537.0h0M582.2 537.6h0M586.0 538.3h0M581.3 539.6h0M581.6 538.7h0M581.8 538.8h0M584.6 540.0h0M584.9 542.2h0M585.0 540.3h0M587.0 540.7h0M588.5 540.1h0M589.3 541.2h0M589.4 541.7h0M592.4 540.7h0M593.4 541.7h0M593.9 540.7h0M595.1 540.4h0M597.2 540.0h0M597.7 540.3h0M598.3 539.6h0M604.4 541.7h0M605.0 541.6h0M606.3 543.2h0M607.0 542.0h0M607.6 541.5h0M608.5 540.3h0M609.1 541.5h0M609.2 540.2h0M610.2 542.5h0M611.4 543.1h0M613.5 541.6h0M616.5 542.5h0M617.2 542.3h0M617.5 540.5h0M617.9 542.7h0M617.9 542.0h0M618.8 541.5h0M619.6 543.0h0M620.1 543.3h0M620.4 542.2h0M621.3 543.0h0M622.8 541.2h0M623.1 542.1h0M624.1 541.8h0M625.6 541.9h0M626.9 542.7h0M627.6 543.2h0M627.8 542.9h0M628.0 542.8h0M628.1 543.5h0M628.7 542.8h0M629.3 543.7h0M629.9 542.1h0M630.5 543.6h0M630.6 542.5h0M634.1 543.5h0M634.3 543.7h0M635.4 543.4h0M636.7 543.4h0M641.0 544.7h0M643.9 543.8h0M644.1 543.8h0M644.9 544.6h0M645.2 544.0h0M645.6 543.8h0M646.1 545.2h0M646.1 545.0h0M646.2 545.4h0M646.5 544.9h0M648.2 544.9h0M651.7 544.7h0M652.3 545.0h0M653.0 545.2h0M653.0 544.5h0M653.8 545.3h0M654.0 544.5h0M655.1 544.6h0M655.9 544.0h0M656.4 545.8h0M657.7 544.4h0M659.8 544.6h0M660.0 544.5h0M660.2 543.6h0M660.4 544.6h0M660.4 545.2h0M663.5 546.3h0M663.9 545.0h0M664.3 544.0h0M665.1 545.1h0M665.7 545.2h0M666.2 544.8h0M666.7 544.6h0M667.2 544.1h0M668.5 544.1h0M671.2 543.4h0M671.6 544.5h0M673.9 544.8h0M674.8 544.4h0M675.3 544.9h0M676.2 544.2h0M676.6 545.1h0M676.7 544.3h0M677.6 544.8h0M635.0 539.7h0" stroke="#1f77b4" stroke-width="3.80" stroke-linecap="round" fill="none"/>
<path d="M562.5 523.0h0M563.0 528.0h0M564.1 531.2h0M565.3 534.4h0M567.3 536.4h0M570.5 537.0h0M574.4 537.0h0M577.6 538.3h0M582.2 538.9h0M578.9 542.7h0M579.0 540.8h0M580.3 541.5h0M581.1 541.7h0M581.3 541.1h0M582.4 540.1h0M582.6 541.7h0M583.8 543.0h0M585.7 540.5h0M587.3 539.8h0M589.1 541.6h0M589.8 541.8h0M591.3 541.6h0M591.6 542.2h0M592.4 541.5h0M592.9 541.5h0M593.0 540.5h0M593.4 542.2h0M593.8 541.1h0M595.1 541.3h0M596.1 541.1h0M596.6 541.7h0M599.9 541.7h0M600.3 540.0h0M600.4 541.3h0M601.2 542.3h0M602.1 542.7h0M603.2 542.2h0M604.6 542.7h0M605.6 542.4h0M606.5 542.8h0M607.6 542.2h0M608.0 541.6h0M608.9 541.2h0M610.3 541.4h0M610.5 541.5h0M612.7 541.9h0M613.8 541.2h0M615.5 542.4h0M615.6 542.6h0M615.7 541.6h0M616.9 542.6h0M617.2 542.6h0M618.9 542.7h0M619.0 542.4h0M620.4 542.0h0M621.9 543.8h0M622.2 542.6h0M626.8 543.2h0M627.5 543.3h0M628.8 542.3h0M628.8 542.9h0M629.2 541.9h0M630.8 543.2h0M631.1 543.0h0M634.0 544.2h0M634.1 543.4h0M635.8 542.9h0M637.4 542.3h0M639.0 544.0h0M639.1 543.9h0M640.3 545.3h0M640.7 544.1h0M641.0 543.8h0M643.3 544.3h0M643.7 542.5h0M645.5 544.1h0M645.7 543.2h0M648.1 545.2h0M648.3 545.0h0M650.8 542.9h0M650.9 544.5h0M651.2 545.2h0M652.1 543.4h0M652.6 545.3h0M653.6 545.4h0M654.7 544.5h0M654.9 545.1h0M655.8 545.7h0M656.0 544.6h0M656.4 545.7h0M656.6 544.8h0M656.6 545.4h0M660.3 544.3h0M660.6 543.0h0M661.6 545.1h0M661.7 545.2h0M661.9 546.4h0M662.7 544.9h0M663.8 545.9h0M664.0 544.1h0M664.2 544.4h0M665.2 545.7h0M665.5 544.2h0M666.3 545.1h0M668.3 543.3h0M668.3 545.1h0M669.9 543.7h0M671.0 546.6h0M671.8 546.2h0M673.5 545.9h0M674.4 544.9h0M674.5 543.2h0M676.0 543.4h0M676.1 545.7h0M676.9 545.7h0M677.4 545.3h0M677.9 545.7h0M678.7 544.7h0M678.8 545.4h0" stroke="#ffac5f" stroke-width="3.80" stroke-linecap="round" fill="none"/>
<path d="M562.1 533.1h0M563.0 535.7h0M564.1 538.3h0M565.3 539.6h0M567.3 540.2h0M569.2 541.5h0M571.2 542.2h0M573.1 542.8h0M575.0 539.6h0M576.3 542.2h0M578.3 542.8h0M580.2 543.5h0M582.2 543.2h0M575.2 541.9h0M575.4 541.6h0M577.5 541.6h0M577.5 543.6h0M580.1 543.1h0M581.2 542.0h0M581.4 541.9h0M581.8 542.2h0M582.3 543.2h0M583.5 541.9h0M584.0 542.9h0M584.8 541.9h0M585.5 541.7h0M585.6 541.9h0M585.7 544.0h0M586.2 541.4h0M586.6 542.5h0M589.7 541.1h0M590.0 542.6h0M590.9 542.1h0M591.7 542.5h0M591.8 542.8h0M592.8 542.3h0M593.0 542.4h0M593.1 543.4h0M593.5 542.5h0M594.1 540.9h0M594.2 541.1h0M595.9 542.5h0M595.9 542.1h0M595.9 544.0h0M595.9 542.9h0M595.9 541.9h0M597.0 542.2h0M597.1 542.5h0M597.4 542.2h0M598.1 541.5h0M599.2 542.7h0M601.6 543.6h0M604.1 542.9h0M605.8 542.6h0M605.9 543.0h0M606.6 543.3h0M606.9 541.7h0M608.1 544.4h0M608.7 543.9h0M613.1 543.8h0M614.2 542.4h0M614.5 543.2h0M615.0 544.1h0M615.2 542.9h0M615.4 545.0h0M616.0 542.6h0M616.3 543.4h0M617.5 543.0h0M618.6 544.3h0M620.9 543.7h0M622.2 543.1h0M622.3 543.4h0M623.0 543.3h0M624.0 543.8h0M624.0 542.6h0M625.3 543.5h0M625.7 543.4h0M627.6 543.0h0M627.9 543.8h0M627.9 543.8h0M628.6 545.4h0M632.2 546.0h0M632.6 544.6h0M632.8 544.1h0M635.2 544.8h0M635.2 545.8h0M636.4 545.2h0M636.6 543.9h0M636.8 544.7h0M639.2 545.9h0M639.4 545.2h0M640.2 543.4h0M642.1 544.7h0M643.6 544.7h0M644.2 545.8h0M644.6 545.5h0M644.9 545.6h0M645.8 544.6h0M647.6 545.9h0M648.0 546.6h0M648.1 544.4h0M648.2 545.0h0M648.5 544.6h0M649.7 543.8h0M649.8 546.0h0M650.2 547.2h0M650.4 546.5h0M650.4 543.9h0M650.4 545.1h0M651.2 545.9h0M651.3 545.1h0M651.6 545.9h0M651.9 546.6h0M652.7 546.9h0M653.2 545.3h0M654.2 545.6h0M656.2 545.4h0M657.3 545.2h0M659.5 545.4h0M661.2 545.0h0M661.6 545.7h0M661.9 544.7h0M662.3 545.6h0M663.2 545.6h0M663.2 544.7h0M664.1 546.4h0M665.2 545.1h0M665.3 545.7h0M665.4 547.0h0M665.7 544.9h0M666.1 545.1h0M667.1 546.2h0M667.8 545.9h0M668.6 544.6h0M668.9 545.4h0M669.6 546.2h0M669.7 545.0h0M670.1 545.1h0M671.0 546.4h0M671.0 545.5h0M671.6 545.5h0M672.2 545.8h0M672.7 545.8h0M673.0 545.4h0M673.0 544.0h0M673.5 545.9h0M673.9 545.5h0M675.5 545.7h0M676.5 546.6h0M676.9 545.1h0M677.0 545.3h0M677.2 544.8h0M678.2 545.5h0M635.0 540.7h0" stroke="#000000" stroke-width="3.80" stroke-linecap="round" fill="none"/>
</g>
<rect x="555.30" y="463.50" width="128.50" height="87.00" fill="none" stroke="#000" stroke-width="0.65"/>
<line x1="552.80" y1="550.50" x2="555.30" y2="550.50" stroke="#000" stroke-width="0.8"/>
<text x="550.50" y="553.95" font-size="9.35" text-anchor="end" textLength="18.93" lengthAdjust="spacingAndGlyphs">0.00</text>
<line x1="552.80" y1="530.50" x2="555.30" y2="530.50" stroke="#000" stroke-width="0.8"/>
<text x="550.50" y="534.50" font-size="9.35" text-anchor="end" textLength="18.93" lengthAdjust="spacingAndGlyphs">0.10</text>
<line x1="552.80" y1="511.50" x2="555.30" y2="511.50" stroke="#000" stroke-width="0.8"/>
<text x="550.50" y="515.05" font-size="9.35" text-anchor="end" textLength="18.93" lengthAdjust="spacingAndGlyphs">0.20</text>
<line x1="552.80" y1="492.50" x2="555.30" y2="492.50" stroke="#000" stroke-width="0.8"/>
<text x="550.50" y="495.60" font-size="9.35" text-anchor="end" textLength="18.93" lengthAdjust="spacingAndGlyphs">0.30</text>
<line x1="552.80" y1="472.50" x2="555.30" y2="472.50" stroke="#000" stroke-width="0.8"/>
<text x="550.50" y="476.15" font-size="9.35" text-anchor="end" textLength="18.93" lengthAdjust="spacingAndGlyphs">0.40</text>
<line x1="598.50" y1="550.50" x2="598.50" y2="553.00" stroke="#000" stroke-width="0.8"/>
<line x1="661.50" y1="550.50" x2="661.50" y2="553.00" stroke="#000" stroke-width="0.8"/>
<clipPath id="c45_563"><rect x="45.00" y="563.00" width="128.50" height="87.00"/></clipPath>
<g clip-path="url(#c45_563)">
<polyline points="63.4,652.0 63.4,567.1 73.5,567.1 73.5,652.0" fill="none" stroke="#1f77b4" stroke-width="1.5" stroke-linejoin="miter"/>
<polyline points="63.4,652.0 63.4,567.1 73.5,567.1 73.5,652.0" fill="none" stroke="#ffac5f" stroke-width="1.5" stroke-linejoin="miter"/>
<polyline points="63.4,652.0 63.4,567.1 73.5,567.1 73.5,652.0" fill="none" stroke="#000000" stroke-width="1.5" stroke-linejoin="miter"/>
</g>
<rect x="45.00" y="563.00" width="128.50" height="87.00" fill="none" stroke="#000" stroke-width="0.65"/>
<line x1="42.50" y1="650.50" x2="45.00" y2="650.50" stroke="#000" stroke-width="0.8"/>
<text x="40.20" y="653.65" font-size="9.35" text-anchor="end" textLength="18.93" lengthAdjust="spacingAndGlyphs">0.00</text>
<line x1="42.50" y1="624.50" x2="45.00" y2="624.50" stroke="#000" stroke-width="0.8"/>
<text x="40.20" y="627.72" font-size="9.35" text-anchor="end" textLength="24.33" lengthAdjust="spacingAndGlyphs">10.00</text>
<line x1="42.50" y1="598.50" x2="45.00" y2="598.50" stroke="#000" stroke-width="0.8"/>
<text x="40.20" y="601.79" font-size="9.35" text-anchor="end" textLength="24.33" lengthAdjust="spacingAndGlyphs">20.00</text>
<line x1="42.50" y1="572.50" x2="45.00" y2="572.50" stroke="#000" stroke-width="0.8"/>
<text x="40.20" y="575.85" font-size="9.35" text-anchor="end" textLength="24.33" lengthAdjust="spacingAndGlyphs">30.00</text>
<line x1="88.50" y1="650.00" x2="88.50" y2="652.50" stroke="#000" stroke-width="0.8"/>
<text x="88.50" y="661.40" font-size="9.35" text-anchor="middle" textLength="35.15" lengthAdjust="spacingAndGlyphs">1000.00</text>
<line x1="151.50" y1="650.00" x2="151.50" y2="652.50" stroke="#000" stroke-width="0.8"/>
<text x="151.00" y="661.40" font-size="9.35" text-anchor="middle" textLength="35.15" lengthAdjust="spacingAndGlyphs">1500.00</text>
<clipPath id="c215_563"><rect x="215.10" y="563.00" width="128.50" height="87.00"/></clipPath>
<g clip-path="url(#c215_563)">
<polyline points="233.2,652.0 233.2,566.7 243.7,566.7 243.7,652.0" fill="none" stroke="#1f77b4" stroke-width="1.5" stroke-linejoin="miter"/>
<polyline points="233.2,652.0 233.2,573.2 241.7,573.2 241.7,645.3 249.9,645.3 249.9,649.2 257.4,649.2 257.4,652.0" fill="none" stroke="#ffac5f" stroke-width="1.5" stroke-linejoin="miter"/>
<polyline points="233.2,652.0 233.2,575.4 240.0,575.4 240.0,647.1 247.1,647.1 247.1,648.4 253.4,648.4 253.4,649.5 266.2,649.5 266.2,649.7 273.7,649.7 273.7,652.0" fill="none" stroke="#000000" stroke-width="1.5" stroke-linejoin="miter"/>
</g>
<rect x="215.10" y="563.00" width="128.50" height="87.00" fill="none" stroke="#000" stroke-width="0.65"/>
<line x1="212.60" y1="650.50" x2="215.10" y2="650.50" stroke="#000" stroke-width="0.8"/>
<text x="210.30" y="653.65" font-size="9.35" text-anchor="end" textLength="18.93" lengthAdjust="spacingAndGlyphs">0.00</text>
<line x1="212.60" y1="628.50" x2="215.10" y2="628.50" stroke="#000" stroke-width="0.8"/>
<text x="210.30" y="632.05" font-size="9.35" text-anchor="end" textLength="24.33" lengthAdjust="spacingAndGlyphs">50.00</text>
<line x1="212.60" y1="606.50" x2="215.10" y2="606.50" stroke="#000" stroke-width="0.8"/>
<text x="210.30" y="610.45" font-size="9.35" text-anchor="end" textLength="29.74" lengthAdjust="spacingAndGlyphs">100.00</text>
<line x1="212.60" y1="585.50" x2="215.10" y2="585.50" stroke="#000" stroke-width="0.8"/>
<text x="210.30" y="588.85" font-size="9.35" text-anchor="end" textLength="29.74" lengthAdjust="spacingAndGlyphs">150.00</text>
<line x1="212.60" y1="563.50" x2="215.10" y2="563.50" stroke="#000" stroke-width="0.8"/>
<text x="210.30" y="567.25" font-size="9.35" text-anchor="end" textLength="29.74" lengthAdjust="spacingAndGlyphs">200.00</text>
<line x1="258.50" y1="650.00" x2="258.50" y2="652.50" stroke="#000" stroke-width="0.8"/>
<text x="258.60" y="661.40" font-size="9.35" text-anchor="middle" textLength="35.15" lengthAdjust="spacingAndGlyphs">1000.00</text>
<line x1="321.50" y1="650.00" x2="321.50" y2="652.50" stroke="#000" stroke-width="0.8"/>
<text x="321.10" y="661.40" font-size="9.35" text-anchor="middle" textLength="35.15" lengthAdjust="spacingAndGlyphs">1500.00</text>
<clipPath id="c385_563"><rect x="385.20" y="563.00" width="128.50" height="87.00"/></clipPath>
<g clip-path="url(#c385_563)">
<polyline points="404.4,652.0 404.4,566.6 411.1,566.6 411.1,630.0 417.7,630.0 417.7,633.6 424.3,633.6 424.3,643.8 430.9,643.8 430.9,643.4 437.6,643.4 437.6,645.6 444.2,645.6 444.2,646.5 450.8,646.5 450.8,646.5 457.4,646.5 457.4,645.6 464.1,645.6 464.1,646.5 470.7,646.5 470.7,645.6 477.3,645.6 477.3,644.7 483.9,644.7 483.9,644.3 490.6,644.3 490.6,643.0 497.2,643.0 497.2,652.0" fill="none" stroke="#1f77b4" stroke-width="1.5" stroke-linejoin="miter"/>
<polyline points="396.2,652.0 396.2,631.3 402.4,631.3 402.4,574.2 408.7,574.2 408.7,633.6 414.9,633.6 414.9,646.1 421.2,646.1 421.2,646.5 427.4,646.5 427.4,645.2 433.7,645.2 433.7,647.4 439.9,647.4 439.9,646.1 446.2,646.1 446.2,647.0 452.4,647.0 452.4,643.8 458.7,643.8 458.7,647.4 464.9,647.4 464.9,646.5 471.2,646.5 471.2,647.0 477.4,647.0 477.4,645.6 483.7,645.6 483.7,646.1 489.9,646.1 489.9,647.4 496.2,647.4 496.2,652.0" fill="none" stroke="#ffac5f" stroke-width="1.5" stroke-linejoin="miter"/>
<polyline points="390.5,652.0 390.5,639.1 396.8,639.1 396.8,639.1 403.1,639.1 403.1,570.1 409.4,570.1 409.4,634.9 415.7,634.9 415.7,644.5 422.0,644.5 422.0,644.7 428.3,644.7 428.3,644.7 434.6,644.7 434.6,647.0 440.9,647.0 440.9,645.6 447.2,645.6 447.2,648.3 453.5,648.3 453.5,646.1 459.8,646.1 459.8,648.3 466.1,648.3 466.1,646.1 472.4,646.1 472.4,647.4 478.7,647.4 478.7,646.5 485.0,646.5 485.0,647.9 491.3,647.9 491.3,647.0 497.6,647.0 497.6,652.0" fill="none" stroke="#000000" stroke-width="1.5" stroke-linejoin="miter"/>
</g>
<rect x="385.20" y="563.00" width="128.50" height="87.00" fill="none" stroke="#000" stroke-width="0.65"/>
<line x1="382.70" y1="650.50" x2="385.20" y2="650.50" stroke="#000" stroke-width="0.8"/>
<text x="380.40" y="653.65" font-size="9.35" text-anchor="end" textLength="18.93" lengthAdjust="spacingAndGlyphs">0.00</text>
<line x1="382.70" y1="627.50" x2="385.20" y2="627.50" stroke="#000" stroke-width="0.8"/>
<text x="380.40" y="631.32" font-size="9.35" text-anchor="end" textLength="24.33" lengthAdjust="spacingAndGlyphs">50.00</text>
<line x1="382.70" y1="605.50" x2="385.20" y2="605.50" stroke="#000" stroke-width="0.8"/>
<text x="380.40" y="608.99" font-size="9.35" text-anchor="end" textLength="29.74" lengthAdjust="spacingAndGlyphs">100.00</text>
<line x1="382.70" y1="583.50" x2="385.20" y2="583.50" stroke="#000" stroke-width="0.8"/>
<text x="380.40" y="586.65" font-size="9.35" text-anchor="end" textLength="29.74" lengthAdjust="spacingAndGlyphs">150.00</text>
<line x1="428.50" y1="650.00" x2="428.50" y2="652.50" stroke="#000" stroke-width="0.8"/>
<text x="428.70" y="661.40" font-size="9.35" text-anchor="middle" textLength="35.15" lengthAdjust="spacingAndGlyphs">1000.00</text>
<line x1="491.50" y1="650.00" x2="491.50" y2="652.50" stroke="#000" stroke-width="0.8"/>
<text x="491.20" y="661.40" font-size="9.35" text-anchor="middle" textLength="35.15" lengthAdjust="spacingAndGlyphs">1500.00</text>
<clipPath id="c555_563"><rect x="555.30" y="563.00" width="128.50" height="87.00"/></clipPath>
<g clip-path="url(#c555_563)">
<polyline points="574.8,652.0 574.8,575.8 581.2,575.8 581.2,616.9 587.5,616.9 587.5,604.2 593.9,604.2 593.9,640.5 600.3,640.5 600.3,645.3 606.7,645.3 606.7,648.1 613.0,648.1 613.0,648.5 619.4,648.5 619.4,648.9 625.8,648.9 625.8,649.3 632.2,649.3 632.2,648.5 638.5,648.5 638.5,647.7 644.9,647.7 644.9,642.9 651.3,642.9 651.3,640.1 657.7,640.1 657.7,638.9 664.0,638.9 664.0,652.0" fill="none" stroke="#1f77b4" stroke-width="1.5" stroke-linejoin="miter"/>
<polyline points="562.0,652.0 562.0,630.9 568.3,630.9 568.3,626.5 574.5,626.5 574.5,574.2 580.7,574.2 580.7,640.5 586.9,640.5 586.9,641.7 593.2,641.7 593.2,644.1 599.4,644.1 599.4,646.1 605.6,646.1 605.6,640.1 611.8,640.1 611.8,640.1 618.1,640.1 618.1,648.1 624.3,648.1 624.3,646.9 630.5,646.9 630.5,647.7 636.8,647.7 636.8,648.5 643.0,648.5 643.0,648.5 649.2,648.5 649.2,646.1 655.4,646.1 655.4,644.1 661.6,644.1 661.6,646.9 667.9,646.9 667.9,652.0" fill="none" stroke="#ffac5f" stroke-width="1.5" stroke-linejoin="miter"/>
<polyline points="560.7,652.0 560.7,630.5 566.9,630.5 566.9,615.7 573.2,615.7 573.2,566.6 579.5,566.6 579.5,634.9 585.8,634.9 585.8,642.5 592.0,642.5 592.0,644.1 598.3,644.1 598.3,644.9 604.6,644.9 604.6,646.1 610.9,646.1 610.9,644.1 617.1,644.1 617.1,648.9 623.4,648.9 623.4,645.3 629.7,645.3 629.7,648.1 636.0,648.1 636.0,645.3 642.2,645.3 642.2,646.9 648.5,646.9 648.5,648.1 654.8,648.1 654.8,646.9 661.1,646.9 661.1,646.1 667.3,646.1 667.3,652.0" fill="none" stroke="#000000" stroke-width="1.5" stroke-linejoin="miter"/>
</g>
<rect x="555.30" y="563.00" width="128.50" height="87.00" fill="none" stroke="#000" stroke-width="0.65"/>
<line x1="552.80" y1="650.50" x2="555.30" y2="650.50" stroke="#000" stroke-width="0.8"/>
<text x="550.50" y="653.65" font-size="9.35" text-anchor="end" textLength="18.93" lengthAdjust="spacingAndGlyphs">0.00</text>
<line x1="552.80" y1="630.50" x2="555.30" y2="630.50" stroke="#000" stroke-width="0.8"/>
<text x="550.50" y="633.68" font-size="9.35" text-anchor="end" textLength="24.33" lengthAdjust="spacingAndGlyphs">50.00</text>
<line x1="552.80" y1="610.50" x2="555.30" y2="610.50" stroke="#000" stroke-width="0.8"/>
<text x="550.50" y="613.70" font-size="9.35" text-anchor="end" textLength="29.74" lengthAdjust="spacingAndGlyphs">100.00</text>
<line x1="552.80" y1="590.50" x2="555.30" y2="590.50" stroke="#000" stroke-width="0.8"/>
<text x="550.50" y="593.73" font-size="9.35" text-anchor="end" textLength="29.74" lengthAdjust="spacingAndGlyphs">150.00</text>
<line x1="552.80" y1="570.50" x2="555.30" y2="570.50" stroke="#000" stroke-width="0.8"/>
<text x="550.50" y="573.75" font-size="9.35" text-anchor="end" textLength="29.74" lengthAdjust="spacingAndGlyphs">200.00</text>
<line x1="598.50" y1="650.00" x2="598.50" y2="652.50" stroke="#000" stroke-width="0.8"/>
<text x="598.80" y="661.40" font-size="9.35" text-anchor="middle" textLength="35.15" lengthAdjust="spacingAndGlyphs">1000.00</text>
<line x1="661.50" y1="650.00" x2="661.50" y2="652.50" stroke="#000" stroke-width="0.8"/>
<text x="661.30" y="661.40" font-size="9.35" text-anchor="middle" textLength="35.15" lengthAdjust="spacingAndGlyphs">1500.00</text>
<text x="11.60" y="308.00" font-size="10.86" text-anchor="middle" transform="rotate(-90 11.60 308.00)" textLength="65.57" lengthAdjust="spacingAndGlyphs">Energy RMSE</text>
<text x="11.60" y="407.50" font-size="10.86" text-anchor="middle" transform="rotate(-90 11.60 407.50)" textLength="62.86" lengthAdjust="spacingAndGlyphs">Forces RMSE</text>
<text x="11.50" y="555.20" font-size="10.86" transform="rotate(-90 11.50 555.20)" textLength="89.16" lengthAdjust="spacingAndGlyphs">Stress RMSE (×10</text>
<text x="7.60" y="465.84" font-size="7.59" transform="rotate(-90 7.60 465.84)" textLength="4.39" lengthAdjust="spacingAndGlyphs">3</text>
<text x="11.50" y="461.44" font-size="10.86" transform="rotate(-90 11.50 461.44)" textLength="3.85" lengthAdjust="spacingAndGlyphs">)</text>
<text x="11.60" y="606.50" font-size="10.86" text-anchor="middle" transform="rotate(-90 11.60 606.50)" textLength="29.31" lengthAdjust="spacingAndGlyphs">Count</text>
<text x="326.80" y="677.00" font-size="11.00" textLength="48.70" lengthAdjust="spacingAndGlyphs">Volume in</text>
<text x="379.00" y="677.00" font-size="11.00" font-style="italic" textLength="7.60" lengthAdjust="spacingAndGlyphs">Å</text>
<text x="388.30" y="672.40" font-size="7.70" textLength="3.10" lengthAdjust="spacingAndGlyphs">3</text>
<rect x="118.60" y="686.75" width="7.9" height="7.0" fill="none" stroke="#1f77b4" stroke-width="1.25"/>
<circle cx="134.60" cy="691.20" r="2.0" fill="#1f77b4"/>
<rect x="272.00" y="686.75" width="7.9" height="7.0" fill="none" stroke="#ffac5f" stroke-width="1.25"/>
<circle cx="287.70" cy="691.20" r="2.0" fill="#ffac5f"/>
<rect x="437.60" y="686.75" width="7.9" height="7.0" fill="none" stroke="#000000" stroke-width="1.25"/>
<circle cx="454.00" cy="691.20" r="2.0" fill="#000000"/>
<text x="146.80" y="693.80" font-size="10.84" textLength="104.42" lengthAdjust="spacingAndGlyphs">unbiased MD (0 MPa)</text>
<text x="300.70" y="693.80" font-size="10.84" textLength="116.95" lengthAdjust="spacingAndGlyphs">unbiased MD (250 MPa)</text>
<text x="467.00" y="693.80" font-size="10.84" textLength="132.70" lengthAdjust="spacingAndGlyphs">biased MD (0 MPa, τ = 0.5)</text>
</svg>
</body></html>
